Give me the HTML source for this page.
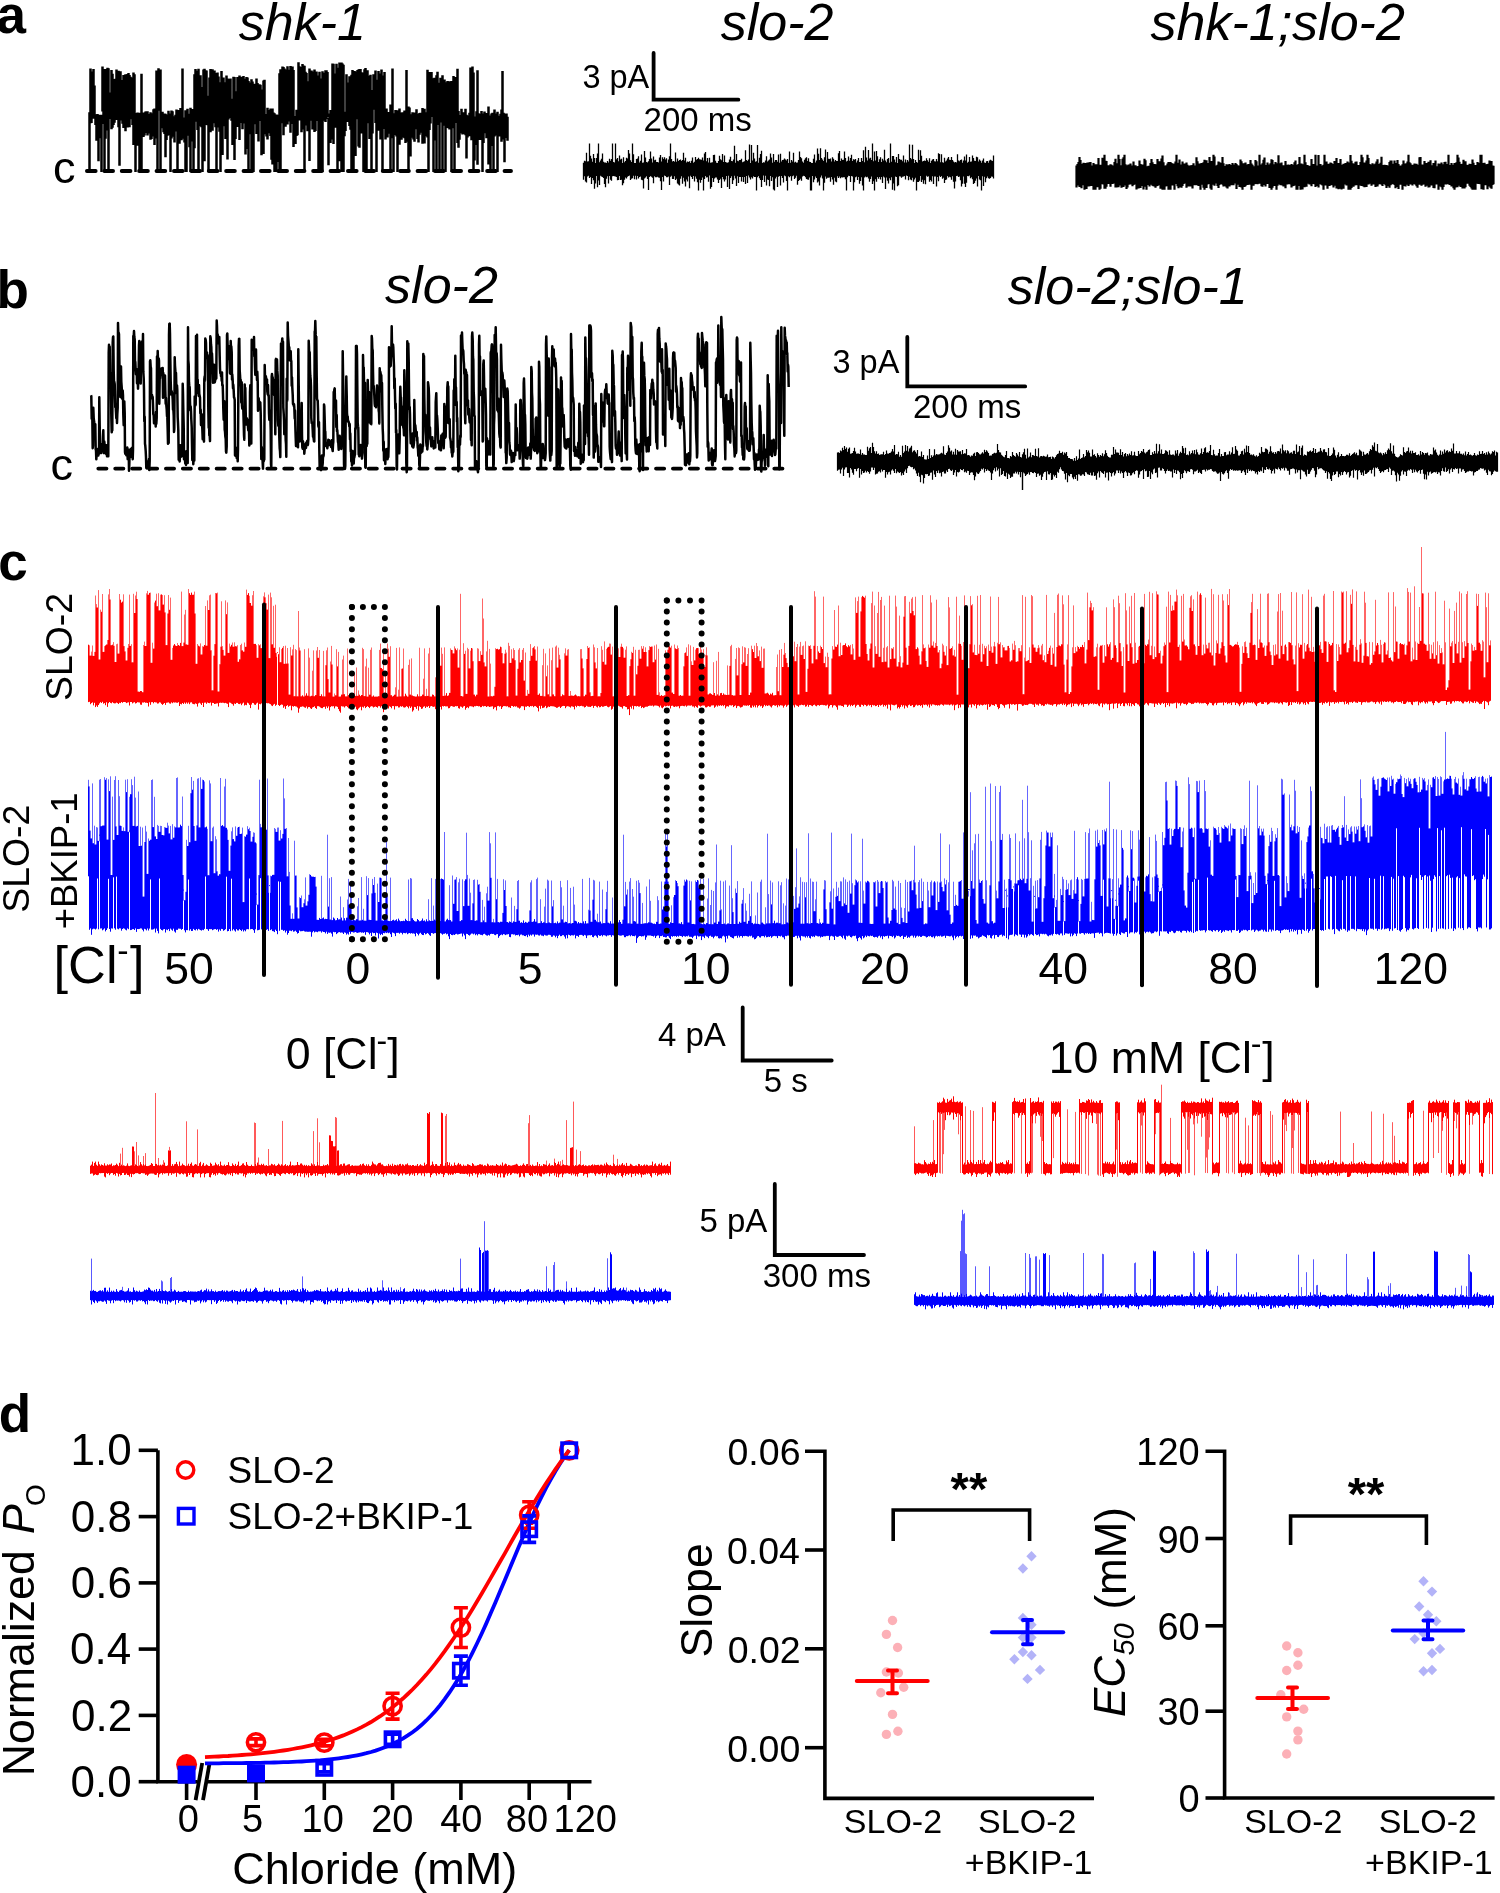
<!DOCTYPE html><html><head><meta charset="utf-8"><style>html,body{margin:0;padding:0;background:#fff;}svg{display:block;font-family:"Liberation Sans",sans-serif;}text{-webkit-font-smoothing:antialiased;}</style></head><body><svg width="1500" height="1893" viewBox="0 0 1500 1893" style="will-change:transform"><rect width="1500" height="1893" fill="#fff"/><text x="-3.4" y="32.9" font-size="53" font-weight="bold" fill="#000">a</text>
<text x="238.8" y="40.0" font-size="52" font-style="italic" fill="#000">shk-1</text>
<text x="720.8" y="40.0" font-size="52" font-style="italic" fill="#000">slo-2</text>
<text x="1150.5" y="40.0" font-size="52" font-style="italic" fill="#000">shk-1;slo-2</text>
<text x="53.1" y="183.0" font-size="45" fill="#000">c</text>
<path d="M653.6 53V99.7H738.4" fill="none" stroke="#000" stroke-width="3.8" stroke-linecap="round" stroke-linejoin="miter"/>
<text x="582.4" y="88.4" font-size="32.5" fill="#000">3 pA</text>
<text x="643.6" y="131.3" font-size="33" fill="#000">200 ms</text>
<line x1="86.95" y1="171" x2="511" y2="171" stroke="#000" stroke-width="3.9" stroke-dasharray="8.7 8.7" stroke-linecap="round"/>
<path d="M89.5 112.3V172M90.5 68.5V123.3M91.5 74.4V122.9M92.5 71.5V118.3M93.5 69V118.8M94.5 85.4V118.3M95.5 114.9V124.9M96.5 114.2V140.8M97.5 114V134.7M98.5 116.1V161.3M99.5 114.8V135.1M100.5 115.6V138.3M101.5 114.7V172M102.5 66.4V111.6M103.5 94.4V123.9M104.5 68.9V172M105.5 69V138.8M106.5 98.5V119.5M107.5 67.7V130.4M108.5 68.3V172M109.5 107.7V119.1M110.5 92.4V110.5M111.5 69.9V129.3M112.5 73.8V127.8M113.5 107.6V124.9M114.5 78.9V122.8M115.5 78.7V114.7M116.5 69.5V120M117.5 100.9V113.1M118.5 70.8V127.3M119.5 95V165.8M120.5 71.3V120.4M121.5 80.5V116.8M122.5 80V123.8M123.5 75V128M124.5 77.1V121.5M125.5 74.2V131.3M126.5 78V119.7M127.5 74.1V127.5M128.5 72.9V121M129.5 75V127.3M130.5 76.7V119M131.5 95.3V119.3M132.5 77.5V125.1M133.5 72.4V145.1M134.5 74.3V125.2M135.5 112.9V172M136.5 120.9V142.4M137.5 112.5V145.7M138.5 114V142.5M139.5 112.8V172M140.5 119.1V141.1M141.5 73.7V172M142.5 117.3V130.2M143.5 112.6V137.1M144.5 114.4V135.4M145.5 111.4V133.1M146.5 111.3V132.3M147.5 111.2V135.5M148.5 114.3V133.5M149.5 114.1V132.2M150.5 112.3V139.8M151.5 116.8V139M152.5 113.3V128.6M153.5 109.2V136.6M154.5 108.6V145.1M155.5 116.9V138.5M156.5 70.4V125M157.5 70.4V172M158.5 68.3V110.8M159.5 70.7V106.4M160.5 69.4V172M161.5 115.4V128.3M162.5 111.7V125.6M163.5 116.2V132.3M164.5 113.6V134M165.5 113.7V157.3M166.5 115.2V139.9M167.5 114.4V135.8M168.5 110.7V135.2M169.5 115.5V128.2M170.5 113.6V172M171.5 110.4V138.5M172.5 111.3V136.7M173.5 116.2V136.2M174.5 117V142.4M175.5 114.7V128M176.5 109.4V131.4M177.5 112.6V172M178.5 110.1V139.8M179.5 115.4V143.8M180.5 108V138.4M181.5 111.2V140.2M182.5 68.4V138.8M183.5 118.2V136.3M184.5 117.6V142.4M185.5 110.2V172M186.5 117.9V172M187.5 108.7V135.8M188.5 113.7V134.1M189.5 114.1V147.3M190.5 107.8V172M191.5 116.6V134.9M192.5 109.1V141.6M193.5 109.7V172M194.5 74.2V148.3M195.5 69V121.8M196.5 70.7V119.2M197.5 78.7V129.9M198.5 68.7V172M199.5 79.6V126.3M200.5 75.2V120M201.5 87.1V127.2M202.5 93.5V172M203.5 69.5V123M204.5 68.8V161.2M205.5 70.3V124.9M206.5 70.4V118.5M207.5 95.7V125.3M208.5 100.1V172M209.5 77.4V126.2M210.5 69.1V132.2M211.5 69.5V123.8M212.5 69.3V130.7M213.5 70.9V119.1M214.5 70.5V123.2M215.5 80.9V127.3M216.5 72.9V172M217.5 72.6V127.5M218.5 76.4V125.9M219.5 105.1V131.8M220.5 82.3V172M221.5 71.1V132M222.5 83.9V155.1M223.5 77.5V115.4M224.5 82.2V126.2M225.5 91.1V139.1M226.5 75.5V120.8M227.5 78.6V159.5M228.5 78.7V119.5M229.5 79.3V118M230.5 78.6V117.5M231.5 98.8V120.7M232.5 106.5V144.9M233.5 76.8V127.8M234.5 77V160M235.5 106V139.1M236.5 91.3V121.2M237.5 77V127M238.5 78.8V126.5M239.5 75.5V139.9M240.5 92.3V122.9M241.5 76.8V111.8M242.5 82.6V129.3M243.5 76V123.6M244.5 86.7V120.9M245.5 78.8V154.5M246.5 76.9V119.2M247.5 77.5V148.9M248.5 80.9V172M249.5 83.2V126.1M250.5 82.5V134.2M251.5 79.3V172M252.5 81.4V122.8M253.5 88.7V172M254.5 83.7V117.1M255.5 104.4V124.2M256.5 78.4V134M257.5 82.9V131.2M258.5 84.5V141.4M259.5 84.2V120.3M260.5 84.8V121M261.5 110.6V155.2M262.5 89.4V118M263.5 80.5V154M264.5 79.7V127.8M265.5 118.2V134.3M266.5 114.1V136.6M267.5 107.7V139.6M268.5 109.9V130.2M269.5 111V133.2M270.5 108.5V136M271.5 114.3V159.8M272.5 108.6V164.5M273.5 112.5V124.7M274.5 113.2V172M275.5 115.2V139M276.5 114.5V172M277.5 114.8V142.9M278.5 117.3V162M279.5 73.3V172M280.5 69.3V172M281.5 100.9V123.2M282.5 66.4V122.8M283.5 67.1V135.2M284.5 68.4V120.6M285.5 69.5V126.7M286.5 71.7V122.8M287.5 66.2V124.6M288.5 69.7V120.9M289.5 70.4V121.6M290.5 66V132.8M291.5 109.5V123.3M292.5 66.5V124.1M293.5 70.1V146.9M294.5 115.9V134.6M295.5 116.7V143.9M296.5 109.7V135.9M297.5 112.1V135.3M298.5 62.3V116.8M299.5 66.3V120.6M300.5 89.8V110.8M301.5 67V132.2M302.5 64.1V129.5M303.5 65.5V102.6M304.5 65.7V172M305.5 71.8V120.4M306.5 72.9V125.6M307.5 95.7V131.2M308.5 81.3V118.6M309.5 68.6V161.1M310.5 71.1V111.1M311.5 70.4V120.7M312.5 92.7V129.4M313.5 71.4V120.8M314.5 69.6V132M315.5 73.9V131M316.5 71.5V121.1M317.5 75.4V111.8M318.5 77.9V172M319.5 71.8V172M320.5 78.9V172M321.5 78.5V123.9M322.5 71.3V172M323.5 72.7V120.8M324.5 113.8V114.7M325.5 70.2V121.9M326.5 70.3V119.1M327.5 72.1V117.1M328.5 117.9V165.2M329.5 113.6V138.8M330.5 110V142.9M331.5 111.1V139.5M332.5 63.6V115M333.5 63.7V143.9M334.5 73.4V127.7M335.5 78.6V127.8M336.5 63.7V125.6M337.5 111.3V172M338.5 67.8V123.4M339.5 62.4V161.2M340.5 68.5V121.9M341.5 62.4V172M342.5 63.5V132.6M343.5 64.7V172M344.5 111.8V136.3M345.5 112.3V131.1M346.5 74.2V116.8M347.5 82.6V121.9M348.5 83.1V120.3M349.5 76.2V126.1M350.5 76.5V129.7M351.5 74.8V172M352.5 70.1V113M353.5 72.3V172M354.5 70.9V131.1M355.5 81.5V155.9M356.5 71.6V119.3M357.5 69.9V103.9M358.5 69.4V146.6M359.5 69V147.8M360.5 69V114.8M361.5 72.2V133.5M362.5 72.6V114.4M363.5 74.4V172M364.5 69.3V172M365.5 67.9V125.4M366.5 73.6V172M367.5 70.3V115.7M368.5 75.8V123.3M369.5 79.1V138.9M370.5 74.8V131.9M371.5 114.5V172M372.5 90V133.4M373.5 74.2V109.7M374.5 76.3V108M375.5 70.5V123.1M376.5 113.8V172M377.5 79.7V120.1M378.5 70.9V130.8M379.5 90.1V130.5M380.5 73.5V139.4M381.5 69.4V118.6M382.5 111.1V172M383.5 75.4V118.4M384.5 72V128.9M385.5 114.9V139.4M386.5 108.4V130.4M387.5 116.9V137.6M388.5 112.1V133.3M389.5 113V133.8M390.5 104.5V172M391.5 115.1V137.6M392.5 68.6V138.3M393.5 116.9V172M394.5 113.3V134.1M395.5 110V135M396.5 110.8V136.5M397.5 110.3V172M398.5 114.5V135M399.5 108.4V144.8M400.5 112.4V128.9M401.5 116V139.8M402.5 112.2V137.4M403.5 113.7V135.6M404.5 110.5V138.3M405.5 115.3V143M406.5 69.9V141.8M407.5 115.7V133.7M408.5 106.5V172M409.5 107.5V148.2M410.5 114.5V156.5M411.5 114.2V135.8M412.5 112.2V137.8M413.5 114.6V139.6M414.5 112.6V141.8M415.5 117.8V127.8M416.5 109.3V129.2M417.5 114.4V139M418.5 113.7V142.4M419.5 113.1V134.8M420.5 112.7V132.7M421.5 117.4V131.2M422.5 108.1V143.8M423.5 116.6V132.7M424.5 108.7V143.5M425.5 114.4V136.3M426.5 112.3V134.8M427.5 69.7V137.6M428.5 75.9V172M429.5 71.9V130.1M430.5 73V123.5M431.5 72.1V117.1M432.5 95.5V115.4M433.5 78.3V172M434.5 77.7V140.6M435.5 104.8V133.7M436.5 75.2V172M437.5 71.7V125M438.5 82.9V120.6M439.5 82.8V172M440.5 77.8V117.3M441.5 84.7V122.5M442.5 75.2V172M443.5 109V124.6M444.5 79.4V125.7M445.5 106.9V172M446.5 82.3V128.1M447.5 81V119.5M448.5 88.4V128.3M449.5 81.3V129.5M450.5 89.8V106.1M451.5 80.9V172M452.5 88.3V128.2M453.5 76V121.7M454.5 77.2V172M455.5 77.1V123.1M456.5 78.6V113.5M457.5 68.7V143.1M458.5 110.9V147.8M459.5 115.1V139.8M460.5 115.6V126.8M461.5 108.8V133.2M462.5 113.9V134.4M463.5 112.2V133.7M464.5 114.6V134M465.5 108.7V135.2M466.5 114.8V158.4M467.5 118.1V137.5M468.5 115.6V134.1M469.5 112.8V136.2M470.5 67.4V120.8M471.5 69.3V140.3M472.5 66.4V117.7M473.5 72.6V172M474.5 116.5V160.6M475.5 117.4V132.8M476.5 111.3V145.1M477.5 70.3V164.8M478.5 113.3V140M479.5 113.8V136.2M480.5 115.3V140.1M481.5 111V131.9M482.5 113.4V172M483.5 115.4V143.1M484.5 111.6V133.3M485.5 118.4V128.9M486.5 113.1V138.3M487.5 114.2V133M488.5 106.5V164.6M489.5 115.6V135.6M490.5 116.2V172M491.5 113.5V145.9M492.5 112.8V133.2M493.5 116.8V172M494.5 109.5V136.6M495.5 115.7V135.6M496.5 113.6V132.6M497.5 111.7V172M498.5 124.2V135.3M499.5 115.8V136.5M500.5 113.7V131.9M501.5 109.6V141.7M502.5 71V139.5M503.5 112.8V138.9M504.5 115.7V162.2M505.5 113.4V137.9M506.5 113.4V137.9M507.5 116.8V140.7" fill="none" stroke="#000" stroke-width="2.5"/>
<path d="M583.5 162.7V179.8M584.5 160.7V176.2M585.5 161.2V181.6M586.5 152.8V182.5M587.5 161.6V176.4M588.5 161.2V175.7M589.5 143.5V177.9M590.5 155.8V177M591.5 158.6V184.1M592.5 161.8V178.1M593.5 154V180.2M594.5 158.1V188.8M595.5 162.9V183.4M596.5 157.9V176.1M597.5 153.6V187.3M598.5 143.5V180.6M599.5 162.2V185.1M600.5 160.6V175.8M601.5 158.7V176.6M602.5 153.4V177M603.5 161.7V178M604.5 162.4V184M605.5 162.6V187.2M606.5 162.9V178.7M607.5 161V176.2M608.5 162.5V183.6M609.5 158.8V176.1M610.5 160.7V179.8M611.5 159.1V180.8M612.5 143.5V176.2M613.5 162.1V176.1M614.5 162.5V176.2M615.5 143.5V176.6M616.5 159.2V177.1M617.5 158.1V180.2M618.5 161.3V180.1M619.5 155.6V176M620.5 159.6V180.1M621.5 158.7V179.8M622.5 162.9V185.2M623.5 157.2V183.3M624.5 162.3V179.7M625.5 161V177.6M626.5 157.7V178.4M627.5 158.4V176.8M628.5 149.9V176.1M629.5 153.6V175.6M630.5 160.3V179.9M631.5 162.1V178.7M632.5 143.5V178.3M633.5 154.3V175.7M634.5 163V179.3M635.5 163V175.8M636.5 159V179.6M637.5 158.4V176.1M638.5 156.3V178.5M639.5 162.5V177.1M640.5 160.7V176.6M641.5 154.5V179.7M642.5 162.8V180.2M643.5 162.4V188.5M644.5 150.9V178.5M645.5 157.6V177.5M646.5 161.9V176.2M647.5 162.5V179.1M648.5 161.2V190M649.5 158.9V177.1M650.5 151.4V176M651.5 158.4V176.7M652.5 162.5V177.8M653.5 156.5V183.2M654.5 160.2V176.3M655.5 159.8V177.3M656.5 162V177.3M657.5 162.1V176.7M658.5 162.6V177.6M659.5 157.6V177.8M660.5 155.1V181.2M661.5 161.6V189.9M662.5 157.2V177M663.5 159.1V181.4M664.5 157.2V175.6M665.5 159.5V176M666.5 158.3V177.3M667.5 162.8V177.3M668.5 159.5V176.4M669.5 156.3V185M670.5 143.5V176.8M671.5 159.1V175.8M672.5 161.4V179M673.5 161V179M674.5 161.7V176.3M675.5 152.4V180M676.5 161.8V178.7M677.5 158.5V183.4M678.5 161V184.5M679.5 159.9V185.5M680.5 159.6V178.8M681.5 160.9V176.3M682.5 159.9V183.7M683.5 152.8V177.8M684.5 160.5V181.5M685.5 157.8V186.6M686.5 162.4V179.4M687.5 161.5V181.4M688.5 162.1V176.6M689.5 161.2V188.2M690.5 162.9V175.8M691.5 160.8V177.1M692.5 157.4V178.9M693.5 162.8V176.1M694.5 161.7V181.6M695.5 156.9V176.5M696.5 159.7V178.7M697.5 159V182.3M698.5 157.7V190.5M699.5 159.2V179.8M700.5 159.6V182.7M701.5 159.7V180M702.5 157.4V177.4M703.5 160.4V190.5M704.5 153.6V178.9M705.5 152V176.1M706.5 161.2V177.6M707.5 157.9V177.2M708.5 162.4V181.7M709.5 157.8V175.6M710.5 162.7V188.7M711.5 162.6V187.1M712.5 162.3V177.9M713.5 154.9V182.1M714.5 154.7V178.4M715.5 160.7V177.6M716.5 162.8V177.5M717.5 162.9V179.4M718.5 160.9V183M719.5 155.8V180M720.5 159.2V178.7M721.5 160.2V188M722.5 154.1V177M723.5 162V179.3M724.5 155.5V181.4M725.5 161.9V179.5M726.5 162.5V175.9M727.5 162.7V187.1M728.5 162.3V175.8M729.5 159.5V189M730.5 156.8V178.1M731.5 161.1V176.3M732.5 161.3V184M733.5 159.5V180.3M734.5 145.8V175.8M735.5 162.7V178.6M736.5 154V186.1M737.5 160.7V176.3M738.5 161.2V183.1M739.5 160V177.1M740.5 159.9V177.1M741.5 158.8V181.5M742.5 162.3V177.1M743.5 161.8V181.9M744.5 161.2V177M745.5 150.3V184M746.5 160.1V176M747.5 161.1V183M748.5 159.5V175.5M749.5 144.5V177.4M750.5 162.9V179.6M751.5 145V177.2M752.5 160.5V178.6M753.5 152.8V176.3M754.5 158.6V176.9M755.5 161.7V177.1M756.5 161.2V190.5M757.5 144.9V177.3M758.5 162.7V175.9M759.5 157.8V178.3M760.5 153.9V179.9M761.5 150.7V187M762.5 163V179.9M763.5 162.2V175.5M764.5 162.4V182.1M765.5 160.5V175.7M766.5 156.3V185.5M767.5 161.6V179.5M768.5 160.6V180M769.5 159.6V186.2M770.5 153.5V176.1M771.5 157.5V181.1M772.5 162.8V177.3M773.5 153.9V189.6M774.5 161.7V190.5M775.5 160V178.5M776.5 159.9V176.7M777.5 161.8V186.9M778.5 154.6V176.8M779.5 162.8V176M780.5 153.8V185.4M781.5 161.4V175.9M782.5 160.1V178M783.5 159.7V182.5M784.5 158.5V175.6M785.5 159.5V176.2M786.5 160.5V181.1M787.5 159V190.5M788.5 162.9V176.3M789.5 151.4V177.3M790.5 162.8V175.9M791.5 159.9V180.8M792.5 161.6V176.3M793.5 152.7V175.6M794.5 162.6V179.1M795.5 161.7V177.8M796.5 162.7V175.7M797.5 162.4V184.7M798.5 159.9V180.9M799.5 151.4V179.9M800.5 157.1V178.8M801.5 158.2V180.7M802.5 161.5V176.6M803.5 162.8V175.8M804.5 159.8V176M805.5 158.3V177.2M806.5 157.3V179M807.5 160.9V179.6M808.5 158.2V179.7M809.5 161.7V177.6M810.5 162.1V190.5M811.5 163V190.5M812.5 162.9V176.1M813.5 158.7V182.2M814.5 154.5V179.5M815.5 162.6V176.6M816.5 160.5V177.9M817.5 148.4V182.5M818.5 153.7V181.5M819.5 160.1V185.4M820.5 148.2V177.6M821.5 158V175.6M822.5 159.5V178.4M823.5 160.9V190.5M824.5 157.3V182.7M825.5 149.5V176.5M826.5 162.4V178.7M827.5 152V177.7M828.5 158.7V177.8M829.5 159V177.4M830.5 158.4V181.7M831.5 161.5V176.9M832.5 157.2V179.6M833.5 158.7V184.8M834.5 161.5V177.7M835.5 160V181.5M836.5 161V182.2M837.5 161.1V176.2M838.5 153.2V177.9M839.5 151V176.6M840.5 160.9V178.3M841.5 158.5V177.3M842.5 160V177.5M843.5 159.8V177.2M844.5 151.4V177.2M845.5 158.1V179.3M846.5 161.6V190.5M847.5 160.7V177.3M848.5 156.5V175.7M849.5 160.7V176M850.5 158.1V182.1M851.5 154.7V176M852.5 161V176.6M853.5 159.2V190.5M854.5 159.7V182.3M855.5 159.1V177.2M856.5 162.5V176.4M857.5 160.4V180M858.5 158.1V177.1M859.5 162V183.8M860.5 162.1V180.9M861.5 157.9V177.2M862.5 160.9V185.4M863.5 150.3V190.5M864.5 162.3V177.4M865.5 146.8V176.6M866.5 157.5V177.3M867.5 160.5V176.7M868.5 149.9V178.5M869.5 158.6V181.8M870.5 157.8V179M871.5 160V176.5M872.5 143.5V183.9M873.5 161.3V181.3M874.5 151.5V190.5M875.5 160.4V179.2M876.5 151V181.8M877.5 156.2V177M878.5 162.1V178.8M879.5 159.3V177M880.5 157.2V179.6M881.5 162V177M882.5 158.7V183.1M883.5 160.6V176.4M884.5 149.8V177.4M885.5 160.6V189.1M886.5 162.2V177.5M887.5 158.9V180.7M888.5 158V183.4M889.5 162.7V178.3M890.5 143.5V180.3M891.5 161.7V177.2M892.5 156V189.8M893.5 155.9V183.4M894.5 159.6V190.5M895.5 162.2V176.4M896.5 156.9V176.9M897.5 162.9V186.2M898.5 154V185.3M899.5 158.9V176.3M900.5 159.7V176.4M901.5 159.7V177.8M902.5 161.2V176.7M903.5 155.5V176.4M904.5 162.5V176M905.5 159.5V179.4M906.5 162.5V175.5M907.5 160.1V176.1M908.5 161.6V180.3M909.5 144.6V176.8M910.5 158V179.6M911.5 159.3V180.2M912.5 144.8V177.8M913.5 159V181.7M914.5 162.9V179.5M915.5 159.9V177.8M916.5 162.1V190.5M917.5 162.8V182M918.5 149.7V181.9M919.5 160.1V180.7M920.5 150.2V176M921.5 155.7V182M922.5 161.4V179.7M923.5 160.9V183.7M924.5 160.4V180.2M925.5 161.1V184.3M926.5 158.3V175.8M927.5 160.3V176.7M928.5 161.7V176.2M929.5 158.3V181.8M930.5 162.9V179.9M931.5 160.7V181.6M932.5 159.5V176.2M933.5 159V184.1M934.5 161.3V176.5M935.5 161.6V176.4M936.5 159.1V186.6M937.5 161.2V176.9M938.5 153.3V181.2M939.5 154V175.7M940.5 162.2V177.1M941.5 154.3V175.9M942.5 162.3V178.7M943.5 162.8V177.7M944.5 157.8V183M945.5 161.5V180M946.5 160.4V179.5M947.5 158.6V176.1M948.5 156.9V177.5M949.5 159.7V176.8M950.5 159.9V177.3M951.5 157V179.7M952.5 160.1V176.2M953.5 161.5V181.8M954.5 162.4V188.4M955.5 162V181.6M956.5 162.5V175.9M957.5 154.3V175.8M958.5 160.4V176.9M959.5 161.2V176.5M960.5 160.1V180.3M961.5 159.6V186.4M962.5 162.8V183.8M963.5 160.5V176.4M964.5 156.6V183.7M965.5 160.5V187.1M966.5 154.5V182.8M967.5 162.7V176M968.5 161.7V176.3M969.5 157.1V175.6M970.5 161.8V178.3M971.5 161.4V177.2M972.5 155.4V179.2M973.5 158V183.9M974.5 160.8V183.1M975.5 161V180.8M976.5 156.8V178.4M977.5 157.2V186.6M978.5 161.5V176.1M979.5 159.6V179.5M980.5 160.8V180.3M981.5 162.8V190.5M982.5 160.5V176.3M983.5 158.6V186.1M984.5 162.5V176.7M985.5 162.9V182.3M986.5 161.3V178.2M987.5 161.1V176.6M988.5 162.7V178.2M989.5 160.6V178.8M990.5 159.8V178.1M991.5 160.4V176.5M992.5 160.9V176.7M993.5 155.4V178.6" fill="none" stroke="#000" stroke-width="1.3"/>
<path d="M1076.5 165.6V187.6M1077.5 163.9V185.4M1078.5 161.9V184.6M1079.5 157V187M1080.5 160V184.8M1081.5 164.5V188.2M1082.5 163.8V185.2M1083.5 162.8V184M1084.5 165.8V189.8M1085.5 163V183.6M1086.5 165.2V189.1M1087.5 162.5V183.5M1088.5 164.7V186.4M1089.5 162.3V186.2M1090.5 161.9V183.8M1091.5 165.6V185.9M1092.5 166.1V185.8M1093.5 162.9V189.8M1094.5 164.2V186M1095.5 166.1V189.8M1096.5 164.2V183.3M1097.5 164.8V187.3M1098.5 157.9V184.1M1099.5 165.5V189.8M1100.5 164.7V188.8M1101.5 165.1V184.1M1102.5 157.7V184.2M1103.5 159.2V184.4M1104.5 154.8V188.8M1105.5 160.8V188.8M1106.5 160.9V186.7M1107.5 165.5V183.8M1108.5 165.2V183.9M1109.5 165.3V183.9M1110.5 164.3V186.8M1111.5 164.7V184M1112.5 165.4V184.1M1113.5 166V183.4M1114.5 162V183.6M1115.5 158.8V187.4M1116.5 163.2V187.6M1117.5 166.1V186.5M1118.5 154.8V187.2M1119.5 158.9V184.9M1120.5 165.3V185.4M1121.5 166.1V187.8M1122.5 158.8V183.3M1123.5 157.3V187M1124.5 154.8V183.3M1125.5 164.2V185.6M1126.5 165.5V189.1M1127.5 165.2V187.6M1128.5 164.4V184.8M1129.5 166.1V184.1M1130.5 163.6V184.4M1131.5 165.6V183.5M1132.5 165.4V186.3M1133.5 161.6V185M1134.5 165.4V183.3M1135.5 165.3V184.5M1136.5 166.2V189.4M1137.5 166.2V186.4M1138.5 166.1V188.4M1139.5 160.5V186.5M1140.5 164V187.9M1141.5 165.3V186.1M1142.5 164.4V185M1143.5 165.6V189.5M1144.5 158.7V186.8M1145.5 160.3V183.9M1146.5 166.2V189.8M1147.5 166.2V184M1148.5 165.8V185M1149.5 165.8V186.4M1150.5 163V184.8M1151.5 158.9V183.5M1152.5 162.3V185.7M1153.5 165V186.2M1154.5 164.1V186.6M1155.5 164.6V187.8M1156.5 164.3V186.2M1157.5 158.9V186.1M1158.5 161.2V185.2M1159.5 161.2V184.1M1160.5 165.1V188.8M1161.5 158.5V185.5M1162.5 155.5V189.8M1163.5 162.2V183.8M1164.5 165.6V189.8M1165.5 166.1V186.5M1166.5 165.3V184.6M1167.5 163.5V186.2M1168.5 162.1V189.8M1169.5 165.9V186.5M1170.5 161.9V189.8M1171.5 162.9V183.6M1172.5 165V185.6M1173.5 163.5V184.4M1174.5 166.3V189.8M1175.5 161.5V183.4M1176.5 154.8V184M1177.5 165.7V186.2M1178.5 162.7V188.2M1179.5 159.5V183.4M1180.5 164.4V187.2M1181.5 165.4V187.7M1182.5 161.6V185.9M1183.5 166V184.1M1184.5 163.6V183.5M1185.5 165.7V183.6M1186.5 162.5V187.8M1187.5 164.8V185.6M1188.5 166.2V186.4M1189.5 165.8V185.9M1190.5 165.3V186.4M1191.5 166.1V184.9M1192.5 165V188.6M1193.5 163.2V184.1M1194.5 165.4V185.2M1195.5 166V183.5M1196.5 157.2V185.2M1197.5 161.2V185.2M1198.5 163.6V186M1199.5 164.8V183.6M1200.5 163.6V189.7M1201.5 163V184.8M1202.5 164.6V184.2M1203.5 162.2V187.7M1204.5 159.8V189.8M1205.5 165.4V183.8M1206.5 160.3V188.1M1207.5 164.8V184.6M1208.5 163V183.4M1209.5 157V184.1M1210.5 162.1V188.5M1211.5 161.1V189.8M1212.5 164.7V184.7M1213.5 154.8V183.5M1214.5 156.5V185.8M1215.5 165.6V183.6M1216.5 165.8V183.5M1217.5 164.7V186.1M1218.5 161.5V188.1M1219.5 162.3V185.1M1220.5 162.8V183.8M1221.5 163.5V183.9M1222.5 157V184.7M1223.5 163.3V186.6M1224.5 166V186.2M1225.5 166V185.9M1226.5 164.2V187.4M1227.5 164.9V188.5M1228.5 164.4V183.4M1229.5 164V186.6M1230.5 164.9V183.7M1231.5 165.8V185.3M1232.5 162.9V183.7M1233.5 164.6V185.3M1234.5 166V183.4M1235.5 163V183.5M1236.5 163.9V189M1237.5 165.2V183.5M1238.5 166.1V184.7M1239.5 165.5V186.9M1240.5 159.6V184.1M1241.5 161.3V187.4M1242.5 166.1V189.8M1243.5 163.2V184.1M1244.5 165.6V187.1M1245.5 162.5V186.2M1246.5 166.1V183.6M1247.5 164.6V184.9M1248.5 163.9V183.3M1249.5 164.8V184.8M1250.5 160.1V184.4M1251.5 163.6V189.8M1252.5 164.7V184.1M1253.5 166.3V185.7M1254.5 166.2V184.3M1255.5 160V184M1256.5 161.3V183.6M1257.5 166V184.3M1258.5 165.6V183.7M1259.5 154.8V183.8M1260.5 164.4V183.8M1261.5 164.8V186.2M1262.5 163.3V186.8M1263.5 159.8V183.7M1264.5 157.4V184.9M1265.5 165.1V186.4M1266.5 165.9V183.7M1267.5 162.6V184.1M1268.5 164.6V183.4M1269.5 164.9V188.1M1270.5 163.3V186.2M1271.5 159.2V189.8M1272.5 160.1V187.7M1273.5 164.3V186M1274.5 164.3V186.1M1275.5 161.9V183.3M1276.5 163.3V189.8M1277.5 163.5V185.7M1278.5 155.3V184.6M1279.5 163.2V183.4M1280.5 165.6V185.2M1281.5 162.6V183.5M1282.5 165.5V185.6M1283.5 165.2V186.6M1284.5 165.4V183.4M1285.5 160.9V188.3M1286.5 166.1V183.4M1287.5 164.8V184.5M1288.5 164.6V184M1289.5 164.9V183.6M1290.5 164.9V184.6M1291.5 164V187.4M1292.5 164.7V186.2M1293.5 164.7V186.1M1294.5 162.3V185.4M1295.5 160.6V184.1M1296.5 165.3V189.8M1297.5 164.8V189.8M1298.5 164.1V185.3M1299.5 157V185.9M1300.5 164.8V189.8M1301.5 163.6V184.6M1302.5 165.6V189.4M1303.5 164.2V186.8M1304.5 154.8V187.3M1305.5 162.2V185.2M1306.5 165.3V186.7M1307.5 165V183.8M1308.5 166.3V183.6M1309.5 165.7V184.4M1310.5 165.9V183.5M1311.5 159.1V186.2M1312.5 164.1V183.4M1313.5 166V183.9M1314.5 164.1V184.3M1315.5 154.8V186.9M1316.5 166V186.1M1317.5 165.6V185.6M1318.5 155.1V187.6M1319.5 165.3V184.3M1320.5 163.9V183.5M1321.5 165.5V184.7M1322.5 166.2V185.6M1323.5 164.8V189.8M1324.5 154.8V183.5M1325.5 165.6V185.6M1326.5 161.6V184M1327.5 164.3V188.7M1328.5 163.8V183.8M1329.5 165.2V185.9M1330.5 162.5V184.8M1331.5 163V185.3M1332.5 163.9V185.3M1333.5 165.8V187.5M1334.5 161V185.8M1335.5 162.8V185.1M1336.5 157.9V188.5M1337.5 163.8V184.6M1338.5 162.9V189.2M1339.5 163.3V185.2M1340.5 159V188.8M1341.5 164.8V189.4M1342.5 165.1V184M1343.5 163.7V188.7M1344.5 165.9V184.5M1345.5 163.1V183.5M1346.5 163.9V185.5M1347.5 161.6V183.7M1348.5 164.7V189.8M1349.5 162.5V184.3M1350.5 155.1V189.8M1351.5 160.8V187.9M1352.5 163.3V184.3M1353.5 165.6V186.7M1354.5 163.4V185.5M1355.5 161.7V184M1356.5 161.5V185.2M1357.5 165.1V184.3M1358.5 165.9V188.9M1359.5 165V184.7M1360.5 162.1V185.6M1361.5 154.8V185.9M1362.5 157.3V184M1363.5 163.4V186.5M1364.5 162.4V187.3M1365.5 165.9V184.9M1366.5 160.5V187M1367.5 154.8V183.8M1368.5 158.1V184.4M1369.5 164V183.8M1370.5 165.4V183.6M1371.5 164.5V185.7M1372.5 163.2V184.5M1373.5 165.4V184.6M1374.5 164.2V183.6M1375.5 163.4V187.1M1376.5 161.5V185.5M1377.5 159.3V186.6M1378.5 164V184.4M1379.5 165.1V183.8M1380.5 162.7V184.1M1381.5 156.7V184.7M1382.5 165.1V186.1M1383.5 165.3V183.5M1384.5 164.7V183.9M1385.5 166.2V185.2M1386.5 165V188M1387.5 165.8V185.2M1388.5 165.5V186.3M1389.5 161.9V187.8M1390.5 160.5V185.2M1391.5 160.6V184.4M1392.5 163.8V184.1M1393.5 164.9V183.9M1394.5 160.5V185M1395.5 163.3V188.2M1396.5 163V184.9M1397.5 159.9V187.1M1398.5 164V189M1399.5 165.4V184.1M1400.5 165.7V184.7M1401.5 165.4V184.1M1402.5 164.2V189.8M1403.5 160.4V185.5M1404.5 164.4V186.1M1405.5 163.6V186.5M1406.5 163.3V183.4M1407.5 161.6V184.7M1408.5 154.8V186M1409.5 162.2V183.5M1410.5 163.2V184.6M1411.5 166V183.4M1412.5 164.8V185.4M1413.5 165.9V183.4M1414.5 163.5V184M1415.5 166.1V184.8M1416.5 163.7V186.3M1417.5 164.7V187.7M1418.5 166.2V183.5M1419.5 157.2V184.8M1420.5 157.1V183.3M1421.5 164.5V185.7M1422.5 164.5V184.8M1423.5 165.9V184M1424.5 161V184.5M1425.5 162.9V186.8M1426.5 163.1V185.8M1427.5 164.2V183.4M1428.5 161.7V187.6M1429.5 165.8V187.3M1430.5 160.3V184.4M1431.5 166.1V185.5M1432.5 165.3V183.6M1433.5 163.1V188.1M1434.5 165V188.2M1435.5 160.5V183.9M1436.5 166.2V184.6M1437.5 166.2V183.6M1438.5 163.4V189.8M1439.5 166V186.4M1440.5 163.7V184.6M1441.5 162.6V187.3M1442.5 165V189.8M1443.5 164.3V187M1444.5 162V184M1445.5 161.8V184.4M1446.5 164.4V184.4M1447.5 164V183.9M1448.5 154.8V183.7M1449.5 165V185M1450.5 165.4V183.9M1451.5 163.1V186.5M1452.5 164.7V185.3M1453.5 166.3V188.3M1454.5 163V189.8M1455.5 163.8V187.5M1456.5 162.2V187.3M1457.5 154.8V187.3M1458.5 157.6V184.3M1459.5 161.8V185.7M1460.5 165.6V187M1461.5 164.1V183.5M1462.5 163.7V188.6M1463.5 159.8V185.1M1464.5 165.3V188.4M1465.5 161.2V187.3M1466.5 164.7V183.8M1467.5 164.9V183.3M1468.5 166V183.7M1469.5 163.8V185.7M1470.5 163.9V187.1M1471.5 164.9V188.6M1472.5 159.4V189.8M1473.5 162.7V189.8M1474.5 165.7V184.8M1475.5 164.9V189.8M1476.5 165.4V183.7M1477.5 161.9V183.4M1478.5 163.4V184M1479.5 162.8V184M1480.5 154.8V184.3M1481.5 154.8V189.2M1482.5 163V183.7M1483.5 163.2V189.8M1484.5 162.8V185.2M1485.5 164.3V184.4M1486.5 165.7V185.3M1487.5 164V189.2M1488.5 163.7V186.6M1489.5 160.5V185.1M1490.5 164.5V187.7M1491.5 161.1V188.7M1492.5 165.4V185M1493.5 165.8V184.3" fill="none" stroke="#000" stroke-width="2.2"/>
<text x="-3.5" y="308.3" font-size="53" font-weight="bold" fill="#000">b</text>
<text x="385.1" y="302.5" font-size="52" font-style="italic" fill="#000">slo-2</text>
<text x="1007.8" y="303.5" font-size="52" font-style="italic" fill="#000">slo-2;slo-1</text>
<text x="50.6" y="480.0" font-size="45" fill="#000">c</text>
<path d="M907.3 337V386.4H1025.2" fill="none" stroke="#000" stroke-width="3.8" stroke-linecap="round"/>
<text x="832.5" y="373.3" font-size="32.5" fill="#000">3 pA</text>
<text x="913.0" y="418.1" font-size="33" fill="#000">200 ms</text>
<line x1="98.35000000000001" y1="468.6" x2="786" y2="468.6" stroke="#000" stroke-width="3.9" stroke-dasharray="8.1 8.8" stroke-linecap="round"/>
<path d="M91 395.3 91.3 396.1 91.7 418.7 92 411.9 92.3 416.2 92.7 448.2 93 445.6 93.3 407.7 93.7 418.1 94 420.6 94.3 422.5 94.7 423.8 95 432.4 95.3 424.2 95.7 449.3 96 450.4 96.3 459.3 96.7 453.8 97 453.3 97.3 450.5 97.7 449.1 98 452.5 98.3 455.6 98.7 449.1 99 453.7 99.3 397.2 99.7 425.4 100 442.9 100.3 450.8 100.7 445.1 101 446.3 101.3 453.1 101.7 444 102 444.6 102.3 450.6 102.7 449 103 436.3 103.3 430.2 103.7 450.3 104 453.2 104.3 441.6 104.7 445.7 105 445.2 105.3 445.1 105.7 446 106 452.5 106.3 454.2 106.7 447.3 107 456.3 107.3 445.1 107.7 446.5 108 450.4 108.3 456.3 108.7 352.9 109 344.8 109.3 350.2 109.7 346.8 110 374.7 110.3 373 110.7 386 111 380.2 111.3 415.8 111.7 432.3 112 430.1 112.3 430.3 112.7 342.5 113 337.3 113.3 336.5 113.7 370.7 114 382.4 114.3 381.8 114.7 383.9 115 397.3 115.3 407.2 115.7 407.3 116 412.5 116.3 418.2 116.7 413.5 117 423 117.3 414.5 117.7 407.7 118 322.9 118.3 333.7 118.7 332.6 119 334.3 119.3 356.4 119.7 381.1 120 387 120.3 396.9 120.7 384.9 121 366.4 121.3 381.5 121.7 387 122 398.5 122.3 394.1 122.7 390.6 123 395.4 123.3 414.5 123.7 425.1 124 404.4 124.3 401.4 124.7 412.7 125 452 125.3 453.9 125.7 449.9 126 450.4 126.3 455.2 126.7 455.1 127 449.1 127.3 447.6 127.7 459.1 128 454 128.3 455.6 128.7 450 129 470.8 129.3 464.8 129.7 449.8 130 453.1 130.3 457.2 130.7 449.1 131 456.8 131.3 455.2 131.7 449.3 132 447.7 132.3 453.3 132.7 459.2 133 450.2 133.3 336.1 133.7 336.7 134 331.1 134.3 336.7 134.7 339.2 135 361.7 135.3 361.7 135.7 370.2 136 374.5 136.3 369 136.7 369.1 137 383.2 137.3 378.2 137.7 379.5 138 388.6 138.3 380.7 138.7 367.6 139 345.7 139.3 340.9 139.7 343.2 140 378.3 140.3 370 140.7 383.5 141 352.7 141.3 348.7 141.7 357.2 142 341.6 142.3 353 142.7 352.9 143 333.9 143.3 371.7 143.7 378.1 144 389.8 144.3 421.2 144.7 416.7 145 443.7 145.3 445.8 145.7 451 146 457.3 146.3 467.9 146.7 468.3 147 467.4 147.3 466.1 147.7 466 148 461.2 148.3 461.8 148.7 464.5 149 459 149.3 470 149.7 460.6 150 361.3 150.3 360.3 150.7 367 151 368 151.3 398.2 151.7 398.1 152 395 152.3 397.1 152.7 397.1 153 404.2 153.3 414.1 153.7 415.4 154 423.2 154.3 420.3 154.7 423.1 155 419.8 155.3 416.2 155.7 426.5 156 412.1 156.3 423.9 156.7 417.9 157 356.4 157.3 375.9 157.7 351.1 158 360.4 158.3 359 158.7 358.5 159 360.7 159.3 403.7 159.7 377.7 160 378.5 160.3 374.9 160.7 373.7 161 369.5 161.3 368.5 161.7 371 162 374.4 162.3 373 162.7 368 163 397.7 163.3 373.1 163.7 384.4 164 380 164.3 378.4 164.7 376.8 165 375.5 165.3 390.5 165.7 403.8 166 398.1 166.3 405 166.7 409.3 167 416.3 167.3 416.2 167.7 430.3 168 443.8 168.3 441.2 168.7 442.9 169 334.5 169.3 323.8 169.7 323.6 170 334.1 170.3 358.3 170.7 381.2 171 389.9 171.3 394.6 171.7 391.3 172 395 172.3 393.2 172.7 399.5 173 409.8 173.3 407.9 173.7 415.5 174 431.9 174.3 428.8 174.7 357.2 175 365.8 175.3 369.9 175.7 376.3 176 372.9 176.3 385.6 176.7 393.3 177 385.4 177.3 390 177.7 417.3 178 423 178.3 430.1 178.7 459.7 179 459.1 179.3 457.6 179.7 461.5 180 453.1 180.3 445.3 180.7 454.4 181 456.2 181.3 456.6 181.7 453.1 182 456 182.3 455.1 182.7 383.8 183 393.6 183.3 410 183.7 425.9 184 459.3 184.3 455.5 184.7 458.2 185 459.8 185.3 463.6 185.7 462.4 186 464.9 186.3 451.2 186.7 452 187 459.6 187.3 457.6 187.7 463.1 188 327.3 188.3 360.1 188.7 364.7 189 382.4 189.3 385.4 189.7 387.5 190 401.5 190.3 410.1 190.7 406.6 191 411.2 191.3 419.3 191.7 426.8 192 444.3 192.3 460 192.7 456.4 193 455.9 193.3 464.2 193.7 456.5 194 452.9 194.3 460.6 194.7 396.6 195 403.3 195.3 405.5 195.7 404.3 196 336.1 196.3 342.3 196.7 338.4 197 334.8 197.3 379.5 197.7 379.6 198 393.2 198.3 390.7 198.7 395.9 199 385.1 199.3 394 199.7 395.9 200 397.7 200.3 413.2 200.7 409.7 201 424.9 201.3 424.4 201.7 414.3 202 424.9 202.3 428.4 202.7 439.2 203 431.8 203.3 436.3 203.7 436.6 204 441.6 204.3 379.2 204.7 376.2 205 380.4 205.3 338.6 205.7 339.9 206 343.2 206.3 358.1 206.7 356.2 207 352.4 207.3 357.6 207.7 354.9 208 373.8 208.3 408.9 208.7 427.8 209 418.8 209.3 435.2 209.7 435.4 210 441.1 210.3 336.2 210.7 338.3 211 344.5 211.3 346.8 211.7 360.1 212 353.6 212.3 361 212.7 373.5 213 382.8 213.3 369.6 213.7 371.2 214 364.8 214.3 380.9 214.7 382.4 215 381.3 215.3 379.8 215.7 376.2 216 377.2 216.3 378.5 216.7 320.6 217 326.2 217.3 338.8 217.7 334.5 218 343.3 218.3 340.2 218.7 341.1 219 342.6 219.3 337.1 219.7 355.9 220 368.5 220.3 373.2 220.7 372.1 221 376.2 221.3 372.5 221.7 380.6 222 372.4 222.3 385.4 222.7 384.9 223 395.2 223.3 408.8 223.7 419.7 224 404.7 224.3 401.2 224.7 429.8 225 431.4 225.3 436.2 225.7 438.9 226 451.5 226.3 452.6 226.7 446.3 227 334.9 227.3 333.4 227.7 348.6 228 352.7 228.3 358.2 228.7 354.9 229 359.2 229.3 346.2 229.7 363.5 230 373.1 230.3 373.6 230.7 341.1 231 348.1 231.3 346.4 231.7 352 232 379.5 232.3 374.5 232.7 380.7 233 388.3 233.3 384.8 233.7 390.6 234 397.5 234.3 397.6 234.7 399.9 235 455.2 235.3 455.8 235.7 450.4 236 453 236.3 448.1 236.7 458 237 457.9 237.3 451.3 237.7 461.2 238 448.7 238.3 399.6 238.7 346.4 239 338.9 239.3 338.7 239.7 370.3 240 374.8 240.3 379.9 240.7 379.7 241 387.8 241.3 402.4 241.7 382.3 242 405.6 242.3 408.7 242.7 407.2 243 408.2 243.3 409.2 243.7 423.2 244 435.2 244.3 439.7 244.7 384.5 245 392.5 245.3 388.1 245.7 411.6 246 424.5 246.3 424.4 246.7 421.3 247 418.5 247.3 422.8 247.7 420.1 248 427.3 248.3 430.3 248.7 430.5 249 429.9 249.3 445.6 249.7 442.8 250 392.4 250.3 385.2 250.7 388.4 251 398.2 251.3 443.5 251.7 339.7 252 340.3 252.3 342 252.7 343.6 253 342 253.3 349.3 253.7 345.8 254 337.1 254.3 356.2 254.7 356.3 255 367.7 255.3 374.7 255.7 373.2 256 349.5 256.3 370.6 256.7 371.8 257 380 257.3 371.8 257.7 381.6 258 410.8 258.3 404.9 258.7 398.3 259 401.6 259.3 407.3 259.7 403.7 260 402.3 260.3 402.4 260.7 413 261 432.6 261.3 459.1 261.7 447 262 450.4 262.3 452.5 262.7 463.2 263 468.6 263.3 454.7 263.7 461.1 264 459.8 264.3 459.5 264.7 365 265 376.2 265.3 376.3 265.7 376.1 266 377.2 266.3 382.1 266.7 382.2 267 379.4 267.3 391.3 267.7 394.3 268 385 268.3 395.7 268.7 395.2 269 413.2 269.3 419.8 269.7 413.8 270 410.6 270.3 415.8 270.7 429.4 271 464.4 271.3 466.5 271.7 376.6 272 374 272.3 377.2 272.7 377.3 273 382.8 273.3 379.8 273.7 394 274 394.2 274.3 395.4 274.7 393.3 275 412.5 275.3 434.3 275.7 359.8 276 358.9 276.3 361.1 276.7 366.8 277 359.6 277.3 370.4 277.7 375.7 278 420 278.3 425.6 278.7 424.1 279 423.3 279.3 437.4 279.7 448.3 280 451.1 280.3 457.1 280.7 382.4 281 343.5 281.3 344.1 281.7 344 282 342.2 282.3 338.4 282.7 350.3 283 341.7 283.3 407.3 283.7 413.7 284 420.1 284.3 434.1 284.7 428.5 285 422.1 285.3 425.2 285.7 440.2 286 443.8 286.3 456.8 286.7 378.7 287 391.7 287.3 400.4 287.7 322.5 288 335.3 288.3 339 288.7 344.4 289 358.1 289.3 347.2 289.7 360.3 290 353.4 290.3 358.5 290.7 351.2 291 361.3 291.3 361 291.7 385.7 292 377.4 292.3 387.6 292.7 394.6 293 404 293.3 403.5 293.7 405.9 294 404.2 294.3 407.2 294.7 418.5 295 410.6 295.3 425.3 295.7 437.8 296 446 296.3 437.4 296.7 443.5 297 444.7 297.3 437.9 297.7 447 298 447.2 298.3 349.2 298.7 384.4 299 405.5 299.3 424.4 299.7 441.4 300 434.1 300.3 414.8 300.7 421.7 301 424.7 301.3 425.6 301.7 403.1 302 434.9 302.3 447.2 302.7 448.7 303 441.3 303.3 444.9 303.7 444.4 304 445.4 304.3 453.7 304.7 448.9 305 446.7 305.3 448.4 305.7 443.7 306 448 306.3 442.5 306.7 442.4 307 442.6 307.3 440.8 307.7 445.1 308 444.1 308.3 439.5 308.7 340.7 309 347.1 309.3 357.3 309.7 352.3 310 369.2 310.3 376 310.7 379.5 311 387 311.3 417.8 311.7 423.1 312 422.6 312.3 422.5 312.7 430 313 436.7 313.3 434.4 313.7 439.1 314 441.3 314.3 441.4 314.7 331.6 315 332 315.3 321.1 315.7 334.9 316 337.9 316.3 336.6 316.7 376.1 317 398.6 317.3 400 317.7 400.7 318 409.2 318.3 425.8 318.7 427.2 319 422.2 319.3 449.5 319.7 468.1 320 461.8 320.3 460.6 320.7 457 321 470.1 321.3 463.1 321.7 457.8 322 455.5 322.3 466.7 322.7 463.5 323 456.4 323.3 456.7 323.7 454.9 324 404.4 324.3 406.2 324.7 419.7 325 431.3 325.3 431.5 325.7 445.1 326 446 326.3 443 326.7 444.2 327 443.3 327.3 448.3 327.7 445 328 445.4 328.3 439.7 328.7 440.5 329 440 329.3 444.4 329.7 444.8 330 442.1 330.3 442 330.7 443.8 331 446.9 331.3 442.1 331.7 440.2 332 443.5 332.3 448.8 332.7 451.1 333 444.7 333.3 441.8 333.7 392.1 334 393.1 334.3 389.8 334.7 388.4 335 403 335.3 404 335.7 403.5 336 400.6 336.3 427.1 336.7 415 337 431.2 337.3 430 337.7 437 338 442.1 338.3 442.9 338.7 449.8 339 439.6 339.3 447.2 339.7 435.7 340 441 340.3 442.3 340.7 437.8 341 444.5 341.3 449 341.7 437.6 342 442.7 342.3 443.6 342.7 351.2 343 371.4 343.3 385.8 343.7 413.7 344 464.2 344.3 468.2 344.7 413.3 345 469 345.3 465.9 345.7 416.5 346 417.4 346.3 376.4 346.7 394.6 347 413 347.3 416.8 347.7 416.5 348 421.5 348.3 421 348.7 422 349 423 349.3 426.4 349.7 424.1 350 439.4 350.3 433.6 350.7 451.4 351 450 351.3 461.4 351.7 456.1 352 465.5 352.3 453.9 352.7 451 353 451.6 353.3 454.7 353.7 463.6 354 457.5 354.3 457.6 354.7 455.4 355 454.4 355.3 428.3 355.7 428.9 356 345.9 356.3 350.8 356.7 346 357 353.7 357.3 385.7 357.7 422.8 358 426.2 358.3 427.8 358.7 454.5 359 453.8 359.3 456.3 359.7 452.7 360 451.3 360.3 455 360.7 445.1 361 448.7 361.3 451.3 361.7 449.9 362 458.6 362.3 455.7 362.7 452.9 363 355 363.3 368.8 363.7 367.4 364 382.2 364.3 384.3 364.7 384.7 365 382.8 365.3 467.2 365.7 467.8 366 432 366.3 437.7 366.7 446 367 435.3 367.3 443.7 367.7 379.9 368 388.9 368.3 399.6 368.7 399.9 369 392.1 369.3 405.9 369.7 422.4 370 416.9 370.3 415.2 370.7 423.6 371 420 371.3 424.2 371.7 336 372 338.6 372.3 348.6 372.7 350.4 373 371.1 373.3 385.6 373.7 386 374 389.2 374.3 395.1 374.7 403.8 375 406.1 375.3 405.8 375.7 398.6 376 407.3 376.3 398.3 376.7 399.5 377 385.5 377.3 392.2 377.7 394.4 378 389.6 378.3 393.7 378.7 410.7 379 412.5 379.3 423.4 379.7 368.2 380 375.5 380.3 371.8 380.7 373.8 381 380.5 381.3 375.3 381.7 391.2 382 383 382.3 406.8 382.7 428.6 383 435.1 383.3 450.8 383.7 441.8 384 460.3 384.3 452.4 384.7 457.9 385 449.3 385.3 463.9 385.7 453.4 386 455.4 386.3 451.3 386.7 457.1 387 449 387.3 453.2 387.7 459.2 388 451.3 388.3 456.9 388.7 444.7 389 347.2 389.3 360.7 389.7 366.9 390 362.2 390.3 361.4 390.7 366 391 357.5 391.3 355.3 391.7 326.2 392 346.2 392.3 346 392.7 348.9 393 344.4 393.3 347.4 393.7 359 394 367.1 394.3 388.3 394.7 378.6 395 394.7 395.3 408.4 395.7 403.7 396 432.7 396.3 430 396.7 467.2 397 469.6 397.3 438.3 397.7 440.4 398 435.2 398.3 434.9 398.7 434.3 399 442.1 399.3 453.2 399.7 438.3 400 399.6 400.3 386.7 400.7 397 401 397.3 401.3 405.2 401.7 406.5 402 408.4 402.3 424.9 402.7 411.5 403 424.9 403.3 427.4 403.7 428.8 404 435.2 404.3 370.3 404.7 382.1 405 402.9 405.3 406.7 405.7 398.9 406 411.7 406.3 462.7 406.7 472.2 407 465.1 407.3 341.3 407.7 355.1 408 344.9 408.3 343.4 408.7 360.1 409 389.9 409.3 408.7 409.7 406.9 410 414.2 410.3 430.9 410.7 443.2 411 439.1 411.3 439.4 411.7 443.4 412 443.9 412.3 446.5 412.7 433.5 413 441 413.3 447.5 413.7 445.3 414 442.4 414.3 400.1 414.7 423.2 415 425.9 415.3 425.2 415.7 429.7 416 435.9 416.3 433 416.7 431.9 417 440.8 417.3 437.6 417.7 447.6 418 449.1 418.3 455.6 418.7 449.9 419 446.5 419.3 464.9 419.7 466.9 420 456.8 420.3 444.6 420.7 450.4 421 445.3 421.3 452.7 421.7 449.8 422 446.6 422.3 451.6 422.7 446.1 423 446 423.3 354 423.7 357.4 424 356 424.3 396.5 424.7 417.5 425 415.9 425.3 414.7 425.7 431.8 426 435.6 426.3 442.7 426.7 446.1 427 445.8 427.3 449.5 427.7 444.4 428 382.3 428.3 384.7 428.7 387.8 429 395.9 429.3 429 429.7 435.1 430 427.6 430.3 439.1 430.7 440 431 442.8 431.3 446.4 431.7 445.3 432 444.4 432.3 437.2 432.7 444.5 433 443.6 433.3 444.3 433.7 448.5 434 441.6 434.3 443.3 434.7 443.7 435 442.3 435.3 447.6 435.7 402.4 436 397.2 436.3 393.2 436.7 416 437 415.3 437.3 419.1 437.7 427.9 438 436.4 438.3 443 438.7 440.7 439 443.4 439.3 449.3 439.7 446.7 440 448.3 440.3 442.4 440.7 450.2 441 450.2 441.3 435.6 441.7 435.7 442 437 442.3 440 442.7 433.7 443 442.9 443.3 440 443.7 448.3 444 440.2 444.3 404.1 444.7 424.5 445 424.4 445.3 437.7 445.7 436.5 446 408.7 446.3 423.3 446.7 406.2 447 418.3 447.3 387.8 447.7 382.3 448 392.1 448.3 386.6 448.7 423.1 449 423.4 449.3 420.7 449.7 419.2 450 437.4 450.3 438.6 450.7 441.1 451 447.5 451.3 442.3 451.7 452.7 452 451.4 452.3 456.4 452.7 451.3 453 452.5 453.3 451.5 453.7 390.4 454 405.3 454.3 379.2 454.7 381.8 455 394.1 455.3 355.8 455.7 391.2 456 387.4 456.3 405.4 456.7 401.9 457 421.7 457.3 418.1 457.7 447.2 458 442.8 458.3 471.3 458.7 465.5 459 467.6 459.3 440.9 459.7 444.3 460 444.8 460.3 435.6 460.7 436.9 461 335.4 461.3 345.2 461.7 344.3 462 332.5 462.3 341.7 462.7 351.2 463 349.9 463.3 351 463.7 360.8 464 364.2 464.3 373.6 464.7 370.8 465 414.7 465.3 423.3 465.7 369.8 466 372.3 466.3 372.1 466.7 379.4 467 374.9 467.3 399.1 467.7 405.7 468 400.4 468.3 414.5 468.7 414.4 469 409.1 469.3 417.8 469.7 422.5 470 419.2 470.3 421.5 470.7 422.6 471 439.9 471.3 437.6 471.7 445.3 472 336.4 472.3 332.5 472.7 339.8 473 356.9 473.3 359.7 473.7 391.8 474 398.3 474.3 416.1 474.7 416 475 468.8 475.3 461.8 475.7 468.7 476 464 476.3 461.3 476.7 466.2 477 464.4 477.3 465.6 477.7 470.6 478 472.2 478.3 463.7 478.7 467.1 479 344.2 479.3 335.7 479.7 366.1 480 356.4 480.3 394.8 480.7 392.7 481 393.7 481.3 391.8 481.7 395.5 482 391.4 482.3 395.2 482.7 441.4 483 440 483.3 364.1 483.7 360.5 484 375.7 484.3 399.1 484.7 401.7 485 389.7 485.3 388.7 485.7 402.5 486 415.1 486.3 465.8 486.7 469.1 487 438.3 487.3 441.4 487.7 446 488 454.6 488.3 449.7 488.7 441.5 489 447.6 489.3 452.9 489.7 444.7 490 444.8 490.3 454.6 490.7 352.9 491 351.5 491.3 351.6 491.7 345 492 344.3 492.3 347.5 492.7 350.1 493 373.1 493.3 468.7 493.7 464.1 494 424.7 494.3 416.6 494.7 335.1 495 353.2 495.3 343 495.7 327.2 496 344.9 496.3 363.4 496.7 353.3 497 359.6 497.3 410.1 497.7 408.1 498 411.6 498.3 398.5 498.7 410.6 499 421.5 499.3 433.3 499.7 437.5 500 436.1 500.3 446 500.7 447.6 501 344.8 501.3 358.7 501.7 370.3 502 378.7 502.3 372.4 502.7 375.1 503 382.2 503.3 385.7 503.7 397 504 382.8 504.3 380.6 504.7 387 505 392.2 505.3 403.6 505.7 452.5 506 453 506.3 463.1 506.7 457.4 507 393.4 507.3 388.6 507.7 391.3 508 405.4 508.3 420.5 508.7 429.6 509 423.1 509.3 442.2 509.7 445.4 510 454 510.3 454.9 510.7 451.1 511 450.6 511.3 453.5 511.7 462.1 512 458.5 512.3 458.5 512.7 459.2 513 453.1 513.3 457.1 513.7 461.1 514 459.8 514.3 456.6 514.7 454.2 515 454.5 515.3 455.2 515.7 404.4 516 432.3 516.3 438.2 516.7 428.1 517 434 517.3 450.3 517.7 447.4 518 447.6 518.3 445.9 518.7 445.4 519 448.6 519.3 447.5 519.7 458.6 520 447.5 520.3 400.4 520.7 399.9 521 404.5 521.3 432.7 521.7 445.9 522 447.7 522.3 448.6 522.7 457.4 523 464.8 523.3 466.3 523.7 383.3 524 378.5 524.3 390.3 524.7 414.5 525 415 525.3 424.3 525.7 456.5 526 457.9 526.3 454.8 526.7 448.3 527 452.6 527.3 458.7 527.7 455.3 528 449.7 528.3 447.4 528.7 454.8 529 454.6 529.3 448 529.7 448.9 530 453.1 530.3 443.6 530.7 458.6 531 451.9 531.3 367.1 531.7 371.2 532 392.6 532.3 398.6 532.7 427.8 533 446.9 533.3 436.9 533.7 448.2 534 450 534.3 445.9 534.7 451 535 448.6 535.3 442.9 535.7 418.8 536 422.6 536.3 417.4 536.7 441.1 537 445.6 537.3 453.2 537.7 448.6 538 448.6 538.3 451.4 538.7 438.9 539 361.7 539.3 366.9 539.7 398.1 540 404.4 540.3 448.8 540.7 467.8 541 467 541.3 452.1 541.7 451 542 451 542.3 457.9 542.7 443.9 543 445.2 543.3 449.9 543.7 458.1 544 449.6 544.3 456.2 544.7 453.6 545 460.1 545.3 457.7 545.7 452.8 546 344.5 546.3 336.4 546.7 354.6 547 361.7 547.3 372.9 547.7 371.5 548 390.7 548.3 415.7 548.7 358.5 549 367.4 549.3 367.2 549.7 449.7 550 456.2 550.3 460.6 550.7 448.2 551 451.2 551.3 455.1 551.7 450.7 552 356.8 552.3 346.3 552.7 355.8 553 358.7 553.3 349.5 553.7 349.4 554 359.7 554.3 364 554.7 366.3 555 358.6 555.3 362.4 555.7 362.9 556 369.3 556.3 380.4 556.7 468.5 557 466.1 557.3 390.6 557.7 389.2 558 390.1 558.3 390 558.7 424.7 559 442.1 559.3 462.2 559.7 466.8 560 456.2 560.3 463.5 560.7 430.7 561 377.4 561.3 392.2 561.7 381 562 407 562.3 408.4 562.7 416.7 563 426.4 563.3 423.3 563.7 415.1 564 424.8 564.3 437.8 564.7 446.6 565 446 565.3 447.8 565.7 439.7 566 444.5 566.3 448.6 566.7 443.3 567 443.5 567.3 443 567.7 439.3 568 440.5 568.3 439.5 568.7 446.8 569 441.5 569.3 439 569.7 444.2 570 450.5 570.3 465.8 570.7 469.7 571 334 571.3 350.4 571.7 349.5 572 372.5 572.3 380.3 572.7 401 573 397.5 573.3 399.3 573.7 404.4 574 451.1 574.3 451 574.7 448.5 575 455.8 575.3 447 575.7 452 576 450.7 576.3 451.5 576.7 453.3 577 452.1 577.3 456.3 577.7 451.7 578 448.9 578.3 442.7 578.7 448 579 457.8 579.3 403.8 579.7 414.3 580 412 580.3 422.5 580.7 463.8 581 461.6 581.3 461.4 581.7 455.4 582 456.1 582.3 454.7 582.7 455.4 583 462.2 583.3 457.4 583.7 460.2 584 405.5 584.3 409.9 584.7 414.4 585 444 585.3 337.4 585.7 364.9 586 358.2 586.3 367.6 586.7 385.3 587 432.2 587.3 408.9 587.7 422.5 588 436.2 588.3 427.9 588.7 439.5 589 454.8 589.3 325.4 589.7 327.5 590 325.5 590.3 325.5 590.7 326.9 591 330.7 591.3 375.1 591.7 377.4 592 373.2 592.3 380.9 592.7 379.5 593 415.1 593.3 405.7 593.7 457.6 594 445.2 594.3 426.3 594.7 435 595 451.7 595.3 448.2 595.7 403.5 596 424.9 596.3 432.7 596.7 435.2 597 436.2 597.3 446 597.7 445.4 598 447.1 598.3 461.8 598.7 461.4 599 461.5 599.3 457.6 599.7 461.4 600 458.1 600.3 457.1 600.7 461 601 467 601.3 394.1 601.7 413.2 602 415.1 602.3 407.4 602.7 413.1 603 402.8 603.3 421.5 603.7 416.9 604 426.3 604.3 426.3 604.7 396.1 605 391.3 605.3 389.4 605.7 395.1 606 391.1 606.3 384.3 606.7 393.6 607 398.4 607.3 396.5 607.7 403.4 608 403.6 608.3 395.5 608.7 394.5 609 402.7 609.3 402.7 609.7 447 610 452 610.3 455.2 610.7 459.2 611 455.2 611.3 449.7 611.7 453.2 612 462.1 612.3 350.8 612.7 355.6 613 368.8 613.3 364.7 613.7 384.4 614 386.5 614.3 409.6 614.7 416 615 411.2 615.3 422.4 615.7 445.9 616 448.7 616.3 444.9 616.7 446.1 617 454.7 617.3 445.7 617.7 446.2 618 453 618.3 440.9 618.7 431.5 619 445.8 619.3 449.7 619.7 451.9 620 455.6 620.3 442.9 620.7 448.5 621 446.1 621.3 449.9 621.7 461.1 622 354.9 622.3 358 622.7 351.6 623 361.9 623.3 414 623.7 413.3 624 417.9 624.3 395 624.7 407.5 625 411.3 625.3 436 625.7 453.4 626 453.5 626.3 453.6 626.7 452.7 627 459.5 627.3 367.7 627.7 376.6 628 355.8 628.3 376.4 628.7 379 629 380.1 629.3 385.1 629.7 390.3 630 387.7 630.3 405.7 630.7 322.9 631 325.1 631.3 327 631.7 344.8 632 337.7 632.3 337 632.7 376.8 633 379.5 633.3 392.9 633.7 398.9 634 397.8 634.3 421 634.7 417.2 635 423.4 635.3 444.9 635.7 450.9 636 453.4 636.3 439.6 636.7 447.3 637 448.7 637.3 454 637.7 453 638 445.2 638.3 444.9 638.7 452.4 639 446 639.3 468.7 639.7 471.2 640 444.1 640.3 452 640.7 446.6 641 447.9 641.3 351.7 641.7 342.8 642 362.7 642.3 356.7 642.7 468.9 643 470 643.3 391.4 643.7 378 644 362.8 644.3 375.9 644.7 378.9 645 392.1 645.3 426.6 645.7 445.3 646 440.6 646.3 441.2 646.7 451.4 647 446 647.3 441.4 647.7 437.9 648 441.3 648.3 439.6 648.7 451.2 649 437.3 649.3 440.9 649.7 444 650 444.9 650.3 389.9 650.7 390.3 651 398.1 651.3 390.6 651.7 383.6 652 388.9 652.3 379.7 652.7 384.2 653 382.8 653.3 389.7 653.7 393.7 654 404.5 654.3 401.5 654.7 402.8 655 401.2 655.3 402.1 655.7 404 656 431.2 656.3 442.3 656.7 442.1 657 444.6 657.3 448.5 657.7 334.2 658 329.8 658.3 330.4 658.7 337 659 327.9 659.3 338.7 659.7 343.5 660 361.4 660.3 355.4 660.7 356.3 661 361.6 661.3 361.2 661.7 371.8 662 349.2 662.3 373.6 662.7 370.1 663 434.5 663.3 432.1 663.7 428.5 664 432.3 664.3 422.4 664.7 429.7 665 430.6 665.3 446 665.7 343.6 666 346.3 666.3 348.4 666.7 355.5 667 359.3 667.3 384.7 667.7 371.1 668 381.7 668.3 373 668.7 399.8 669 396.3 669.3 368.8 669.7 401 670 409.1 670.3 390.2 670.7 391.1 671 394.2 671.3 417.6 671.7 412.8 672 419 672.3 415.3 672.7 408.3 673 358.4 673.3 352.7 673.7 352.4 674 365.3 674.3 352.7 674.7 363.7 675 360.7 675.3 363.6 675.7 368.2 676 391.4 676.3 386 676.7 389.3 677 394.5 677.3 407.1 677.7 406.4 678 420.8 678.3 415 678.7 421.4 679 411.8 679.3 413.3 679.7 408 680 428.1 680.3 416.6 680.7 424.8 681 378 681.3 383.6 681.7 382 682 389.9 682.3 387.9 682.7 420.4 683 418.3 683.3 417 683.7 420.4 684 429 684.3 433.2 684.7 447.5 685 464.7 685.3 457.8 685.7 464.4 686 465.2 686.3 456.3 686.7 454.4 687 458.2 687.3 459.7 687.7 454.3 688 462.4 688.3 456.5 688.7 453.3 689 459.2 689.3 464.3 689.7 460.1 690 461.2 690.3 455.7 690.7 380 691 373.3 691.3 380 691.7 375.2 692 380.1 692.3 382.4 692.7 389.5 693 388.1 693.3 387.5 693.7 387 694 391.7 694.3 397.5 694.7 392 695 400.7 695.3 399.3 695.7 409.8 696 431.2 696.3 437.8 696.7 445.5 697 457.4 697.3 453 697.7 337.6 698 333.7 698.3 340.8 698.7 338.6 699 355.2 699.3 352.3 699.7 359.9 700 357.9 700.3 364.1 700.7 354.4 701 366.5 701.3 364.1 701.7 367.9 702 333 702.3 336.7 702.7 340.5 703 342.3 703.3 352.1 703.7 353.6 704 351.3 704.3 367.4 704.7 368.1 705 374.5 705.3 386.3 705.7 344.2 706 344.1 706.3 342.2 706.7 344.1 707 342.7 707.3 406.7 707.7 446.8 708 441.9 708.3 443.6 708.7 460.5 709 452.6 709.3 454 709.7 459.6 710 458.2 710.3 457 710.7 454.4 711 457.9 711.3 453.1 711.7 448.6 712 463.8 712.3 465.3 712.7 465.2 713 457.9 713.3 454.9 713.7 458.2 714 450.3 714.3 460 714.7 456.3 715 461.1 715.3 459.1 715.7 455.9 716 362.4 716.3 363.3 716.7 359.6 717 358.6 717.3 382.8 717.7 372.1 718 380.3 718.3 325.4 718.7 360.5 719 373.1 719.3 379 719.7 374.4 720 384.6 720.3 375.1 720.7 379.4 721 397 721.3 317 721.7 327.4 722 333.8 722.3 329.2 722.7 347.7 723 359.8 723.3 405.1 723.7 413.3 724 421.8 724.3 423.3 724.7 421.6 725 444.9 725.3 459.2 725.7 398 726 398.7 726.3 395 726.7 409.4 727 420.4 727.3 426.2 727.7 438.1 728 439.6 728.3 404.3 728.7 401.3 729 405.6 729.3 403.5 729.7 438.9 730 438.1 730.3 442.4 730.7 393.9 731 389.9 731.3 401.2 731.7 398.8 732 399.3 732.3 410.7 732.7 402.7 733 429 733.3 426 733.7 433 734 444.1 734.3 447.8 734.7 456.4 735 449 735.3 448.5 735.7 444 736 453.2 736.3 450.6 736.7 340.1 737 337.5 737.3 338.5 737.7 373.5 738 366.4 738.3 365.9 738.7 361 739 365.6 739.3 375.5 739.7 368.8 740 381.4 740.3 369 740.7 369.4 741 362.6 741.3 435.9 741.7 435.5 742 447.4 742.3 446.7 742.7 455 743 451.7 743.3 459.1 743.7 447.5 744 459.5 744.3 456.9 744.7 406.5 745 403.1 745.3 410.1 745.7 406.6 746 433 746.3 435.4 746.7 428.3 747 441.5 747.3 448.6 747.7 449.2 748 442.9 748.3 442.7 748.7 443.2 749 450.7 749.3 440.9 749.7 450.8 750 445.1 750.3 342.8 750.7 360.9 751 373.4 751.3 401.4 751.7 423 752 430.9 752.3 432.6 752.7 444.2 753 442.1 753.3 438.2 753.7 448.7 754 459.1 754.3 452.9 754.7 464.3 755 469.7 755.3 457.5 755.7 469 756 463.1 756.3 454.5 756.7 458.3 757 456 757.3 459.9 757.7 454.6 758 459.7 758.3 456.8 758.7 459.4 759 449.4 759.3 457.3 759.7 405.7 760 410.7 760.3 411.9 760.7 426.3 761 469.9 761.3 471.6 761.7 459.9 762 460.8 762.3 454.5 762.7 458.1 763 451.7 763.3 456.3 763.7 434.9 764 447.4 764.3 456.4 764.7 456.3 765 465.7 765.3 451.1 765.7 449.8 766 453.3 766.3 452.3 766.7 449.8 767 456.7 767.3 452.3 767.7 375.3 768 464.5 768.3 466.3 768.7 384 769 395.2 769.3 401.4 769.7 449.7 770 444.1 770.3 454.6 770.7 443.2 771 450.5 771.3 450.4 771.7 440.8 772 455.9 772.3 441.8 772.7 448.7 773 450.2 773.3 445.8 773.7 439.7 774 445.8 774.3 450.7 774.7 452.6 775 455 775.3 454.3 775.7 449.4 776 448.6 776.3 448.7 776.7 335.8 777 340.3 777.3 340.3 777.7 340.8 778 330.8 778.3 372.6 778.7 387.7 779 389 779.3 469.3 779.7 467.1 780 393 780.3 410.1 780.7 415.5 781 422.9 781.3 327.2 781.7 361.9 782 350.7 782.3 351.6 782.7 366.3 783 361.6 783.3 357.8 783.7 390.2 784 421.7 784.3 435.7 784.7 327.8 785 335.9 785.3 337.3 785.7 341.5 786 340.2 786.3 350.1 786.7 342.4 787 353.9 787.3 353 787.7 371.4 788 364.8 788.3 366.7 788.7 387.1" fill="none" stroke="#000" stroke-width="2.5" stroke-linejoin="round"/>
<path d="M837.5 452.4V470.8M838.5 452.3V469.7M839.5 453.1V469.4M840.5 450.4V473.4M841.5 451.2V469.4M842.5 447.7V467.8M843.5 450.1V475.9M844.5 445.9V469.4M845.5 448.9V467.5M846.5 447.6V467.2M847.5 451.8V473.1M848.5 448.8V473.1M849.5 447.5V477.5M850.5 453.7V468M851.5 453.4V469.4M852.5 452.9V472.8M853.5 451.1V474.8M854.5 447.7V469M855.5 451.6V469.1M856.5 453.7V471.3M857.5 453.4V468.8M858.5 453.5V468.1M859.5 453.9V477.7M860.5 449.6V468.9M861.5 454.7V474.6M862.5 453.1V471.1M863.5 454.5V473.1M864.5 454.6V472.5M865.5 454.9V470.7M866.5 455.1V472.6M867.5 446.8V470.9M868.5 450.8V472.1M869.5 448.3V473.7M870.5 447V471.6M871.5 452.9V467.5M872.5 442.8V467.5M873.5 446.9V470.1M874.5 451.3V467.7M875.5 453.4V474.5M876.5 451.3V473.8M877.5 454V473.5M878.5 453.4V471.7M879.5 455V471.3M880.5 454.6V472.5M881.5 454.3V469.6M882.5 454.2V471.6M883.5 451.7V469.9M884.5 454.9V469.9M885.5 454V477.8M886.5 450.5V471.9M887.5 453.4V474.4M888.5 453.7V472.2M889.5 453V471.7M890.5 452.8V474.6M891.5 451.5V470.5M892.5 449V469.2M893.5 451.6V470.7M894.5 445V473.1M895.5 454.7V469.1M896.5 454V473.3M897.5 454.3V471.6M898.5 451.7V472.2M899.5 456.7V473.1M900.5 455.1V472M901.5 456.8V475.5M902.5 445.8V473.3M903.5 452.9V474.9M904.5 451.6V471.5M905.5 445.1V469.4M906.5 450.8V473.1M907.5 446.1V468.2M908.5 451.4V466.1M909.5 448.5V465.8M910.5 447.4V466.7M911.5 445.7V467.3M912.5 452.3V467.1M913.5 450.7V469.3M914.5 450.3V468.4M915.5 451.8V470.4M916.5 453.4V473.4M917.5 450.1V475.9M918.5 456.6V472.8M919.5 455.9V476.7M920.5 456.5V482.3M921.5 451.6V474.8M922.5 457.1V475.2M923.5 455V483.4M924.5 459.3V477.9M925.5 459.5V473.9M926.5 459.5V474.3M927.5 455.6V474M928.5 459V476.1M929.5 449.1V475.6M930.5 458V472.7M931.5 455.2V472.6M932.5 457.1V479.8M933.5 455.6V470.5M934.5 449.3V474.6M935.5 455.3V477.1M936.5 453.9V471.1M937.5 454.6V473.1M938.5 454.6V470.6M939.5 454.3V473.3M940.5 453.5V472.7M941.5 452.7V476.4M942.5 453.6V472.1M943.5 446.2V471.4M944.5 454.5V473.4M945.5 455.1V473.6M946.5 453.1V470.4M947.5 451.4V472M948.5 445.3V468.9M949.5 447.7V468.8M950.5 451.5V470.3M951.5 450.4V471.1M952.5 454.4V469.8M953.5 451.7V475.1M954.5 454.5V472.5M955.5 448.7V469.9M956.5 454.7V476.5M957.5 450V472M958.5 451.5V472.5M959.5 451.5V471.7M960.5 451.2V469.1M961.5 454.2V470.1M962.5 449.9V470.2M963.5 453.9V469.1M964.5 453.3V472.2M965.5 453.6V471.4M966.5 448.9V472.7M967.5 455.3V470.7M968.5 455.1V471.1M969.5 455.4V475.1M970.5 456.8V472.8M971.5 455.4V472.2M972.5 455.8V472.5M973.5 453.8V475.1M974.5 452.7V480.3M975.5 456.1V476.4M976.5 452.2V472.3M977.5 452V473.4M978.5 453V474.1M979.5 454.2V472.5M980.5 454.5V471.1M981.5 453.5V468.7M982.5 452.2V469.4M983.5 453.6V468.2M984.5 449.8V472.5M985.5 452.1V469M986.5 450.2V470.9M987.5 451.4V469.5M988.5 453.1V470.4M989.5 455.7V470.9M990.5 455.5V472.4M991.5 455.6V480M992.5 454.1V473.5M993.5 453.4V470.3M994.5 452.8V468.2M995.5 453.2V471.6M996.5 452.7V467.2M997.5 443.9V470.5M998.5 450.1V468.8M999.5 452.3V476.4M1000.5 452.6V468.2M1001.5 454.7V475.1M1002.5 455.8V473.9M1003.5 456.7V471.1M1004.5 457.3V476.1M1005.5 455V476.5M1006.5 450.9V472.7M1007.5 458V478.9M1008.5 457.9V473.8M1009.5 458.4V474.8M1010.5 455.9V477.9M1011.5 456.8V476.8M1012.5 451.9V476.7M1013.5 455.1V473.4M1014.5 456.1V473.4M1015.5 456.7V471.7M1016.5 453.1V473.6M1017.5 454.4V471.7M1018.5 456.3V474.4M1019.5 451.9V472M1020.5 457.1V477.3M1021.5 457.6V472.1M1022.5 454.2V473.5M1023.5 452.2V472.6M1024.5 448.7V473.6M1025.5 454.8V476.1M1026.5 458.6V474.7M1027.5 448.6V473.9M1028.5 457.4V472.4M1029.5 456.4V474.7M1030.5 452.4V472.1M1031.5 457.2V472M1032.5 454.9V472.9M1033.5 455.2V473.3M1034.5 455.9V471.9M1035.5 448.7V473.1M1036.5 456V476.9M1037.5 456.5V473.8M1038.5 448.2V473.5M1039.5 457.6V475.7M1040.5 456.2V474.7M1041.5 456.1V479.9M1042.5 456.4V476.7M1043.5 455.8V473.6M1044.5 456.3V472M1045.5 456.8V471.7M1046.5 456.4V480.1M1047.5 454.4V471.3M1048.5 457.2V474.2M1049.5 457.1V474.4M1050.5 456.7V472.9M1051.5 459V480M1052.5 456.5V479.5M1053.5 457.3V474.7M1054.5 458.6V476.6M1055.5 457V475M1056.5 455.3V477.9M1057.5 453.9V471.8M1058.5 453.4V472.8M1059.5 450.7V469.2M1060.5 453V467.3M1061.5 452.9V469.4M1062.5 451.8V471.1M1063.5 454.7V471.3M1064.5 452.4V473.8M1065.5 453.5V479.4M1066.5 452.1V473M1067.5 456.1V482.2M1068.5 458.1V475.2M1069.5 457.9V476.3M1070.5 458.9V474M1071.5 459.1V474.1M1072.5 459.3V477.6M1073.5 460.8V479.2M1074.5 458.1V476.8M1075.5 460.7V479M1076.5 456.2V474.9M1077.5 459.9V480.7M1078.5 458.5V474.3M1079.5 449.6V474.4M1080.5 458.9V475.8M1081.5 458V475.6M1082.5 457.5V474.2M1083.5 453.9V474.4M1084.5 457.3V476M1085.5 456V472.1M1086.5 450.1V472.6M1087.5 452.3V474.3M1088.5 450.5V474.4M1089.5 452.7V475.1M1090.5 456.4V472.8M1091.5 456.5V475.4M1092.5 449.6V475.4M1093.5 455V472.2M1094.5 454.2V476.1M1095.5 456.1V475.5M1096.5 457.5V479.8M1097.5 453.3V473.2M1098.5 454.9V471.6M1099.5 456.8V477.4M1100.5 455.1V470.9M1101.5 456V472.2M1102.5 453.3V472.9M1103.5 456.3V474.1M1104.5 454.2V471.3M1105.5 450.3V477.5M1106.5 453V472.7M1107.5 455.7V472.6M1108.5 457.1V480.4M1109.5 457.4V472.1M1110.5 457.5V472.9M1111.5 454.8V476.6M1112.5 454.8V473.3M1113.5 446.9V471.9M1114.5 454V475.4M1115.5 449.5V473.6M1116.5 452.4V470.6M1117.5 452.6V470.6M1118.5 452.8V472.9M1119.5 455.1V470.4M1120.5 449.2V473.6M1121.5 455V471.5M1122.5 452.1V473M1123.5 456.5V478M1124.5 454.1V472.2M1125.5 452.9V471.1M1126.5 456.3V472.4M1127.5 453.9V476.1M1128.5 455.5V472.5M1129.5 453.6V472.9M1130.5 455.1V475.4M1131.5 451.3V475.3M1132.5 455.5V473.3M1133.5 455.2V472.2M1134.5 451.8V474.3M1135.5 455.4V471M1136.5 456V470.2M1137.5 456V470.7M1138.5 451V477.8M1139.5 454.2V474.6M1140.5 453V471.6M1141.5 451V470.9M1142.5 451.8V469.9M1143.5 448.9V478.9M1144.5 452.6V469.3M1145.5 453.5V471.3M1146.5 452.2V470.8M1147.5 451.5V477.1M1148.5 450.1V476.7M1149.5 449.5V470.9M1150.5 454.9V479.1M1151.5 454.9V472.4M1152.5 452.2V474.2M1153.5 454.1V469.6M1154.5 450.9V468.5M1155.5 453.6V473M1156.5 443.8V472.5M1157.5 453.5V477.5M1158.5 451.2V467.7M1159.5 444.2V467.6M1160.5 453.4V470.4M1161.5 449.4V470.5M1162.5 454V468.3M1163.5 454.1V469.1M1164.5 453.3V470.9M1165.5 450.3V473.4M1166.5 450.7V470.9M1167.5 451.7V469.4M1168.5 454.7V470.9M1169.5 450.3V470.8M1170.5 454.5V471.6M1171.5 454.9V471.5M1172.5 454.4V477.5M1173.5 454.4V469.6M1174.5 455.5V473M1175.5 450.5V469.9M1176.5 453.4V473.9M1177.5 450V470.5M1178.5 455.8V470.7M1179.5 453.4V472.2M1180.5 451.8V479.3M1181.5 453V474M1182.5 446V478M1183.5 448.2V473M1184.5 453.2V470.3M1185.5 447.8V471.2M1186.5 454.9V473.2M1187.5 454.4V471.3M1188.5 455.2V471.2M1189.5 451.2V471.9M1190.5 454.3V469.3M1191.5 453.1V468.9M1192.5 450.6V469.7M1193.5 453.5V474.2M1194.5 450.1V471.5M1195.5 454.3V471.4M1196.5 449.6V470.8M1197.5 452.3V469.7M1198.5 454.6V472.9M1199.5 454.8V471.7M1200.5 453.2V473M1201.5 448.6V473.9M1202.5 454.1V469.9M1203.5 452.1V469.8M1204.5 448.2V469.7M1205.5 447.2V471.5M1206.5 452.8V469.2M1207.5 452.2V470.5M1208.5 452.7V469.7M1209.5 451.1V469.8M1210.5 445V469.1M1211.5 455.1V469.2M1212.5 455.3V470.9M1213.5 449.7V471.8M1214.5 454.2V471.6M1215.5 455.8V471.2M1216.5 455.5V472.4M1217.5 455.6V473.7M1218.5 452.9V473.5M1219.5 449V472.5M1220.5 456.5V481M1221.5 454V471.9M1222.5 456V473.8M1223.5 455.9V474.5M1224.5 452.2V473.2M1225.5 452.1V471.3M1226.5 455.2V470.2M1227.5 454.4V472.9M1228.5 454.5V478.7M1229.5 451.2V470.7M1230.5 454.6V469M1231.5 452.4V470.1M1232.5 447.3V469.6M1233.5 454V470.7M1234.5 453.7V470.3M1235.5 445.9V470.8M1236.5 449.4V470.2M1237.5 450.7V470.8M1238.5 455.5V470.5M1239.5 455.4V470.3M1240.5 454.1V470.5M1241.5 451.2V473M1242.5 450.7V471.2M1243.5 454.6V470.3M1244.5 448.7V472.3M1245.5 452.6V475M1246.5 445.6V469.5M1247.5 452V473.1M1248.5 446V469.2M1249.5 452.9V471M1250.5 454.8V469.7M1251.5 454.6V471.2M1252.5 455.3V470.2M1253.5 454.3V471.1M1254.5 455.8V471.2M1255.5 456.5V473.6M1256.5 455.2V471.9M1257.5 456.8V474.5M1258.5 456V470.9M1259.5 452.7V472.1M1260.5 453.7V470.4M1261.5 446.9V471.2M1262.5 451.8V467.2M1263.5 452.3V473.1M1264.5 452V469.5M1265.5 448.6V470.1M1266.5 448.8V467M1267.5 449.7V469M1268.5 453.8V469.6M1269.5 451.8V468.6M1270.5 446.3V469.9M1271.5 451.2V473.5M1272.5 452.7V471M1273.5 452.3V469.5M1274.5 453.9V473.4M1275.5 452V468.4M1276.5 453.5V469.1M1277.5 451.3V469.6M1278.5 450.9V467.4M1279.5 451.6V469.1M1280.5 448.5V470.6M1281.5 453.4V467.9M1282.5 444.5V468.7M1283.5 450.2V467.8M1284.5 451.6V470.5M1285.5 450.3V467.8M1286.5 453.2V468.4M1287.5 450.2V470.7M1288.5 451.3V470.8M1289.5 453.6V474.8M1290.5 452.8V469.2M1291.5 452.2V468.9M1292.5 453.7V468.5M1293.5 450.7V468.5M1294.5 450.8V469.3M1295.5 454.1V473.6M1296.5 444.6V469.6M1297.5 452.3V472.5M1298.5 451.5V470.2M1299.5 446V470.2M1300.5 455.1V479.2M1301.5 447.7V469.8M1302.5 445.6V470.4M1303.5 455.7V471.6M1304.5 454.5V471.8M1305.5 455.1V474.4M1306.5 455.6V476.5M1307.5 451.6V469.7M1308.5 452.1V474.1M1309.5 451.2V473.7M1310.5 450.5V471.6M1311.5 452.1V469.8M1312.5 451.1V467.9M1313.5 448.1V468.3M1314.5 453V470.7M1315.5 449.1V477.2M1316.5 453V474.5M1317.5 452.6V467.1M1318.5 451.8V469.2M1319.5 451.4V468.6M1320.5 448V468.2M1321.5 450.7V468.3M1322.5 452.3V469.3M1323.5 449.4V470.2M1324.5 449.3V470.8M1325.5 452V473.1M1326.5 452.3V471.2M1327.5 455.5V478.7M1328.5 447.9V472.1M1329.5 455.9V473.6M1330.5 455.9V479.1M1331.5 454.9V481M1332.5 453.5V475.4M1333.5 447.5V471.9M1334.5 449.7V474.9M1335.5 455.6V473.9M1336.5 457.4V471.6M1337.5 454.8V471.6M1338.5 452.3V477.3M1339.5 456.8V474M1340.5 456.1V475.5M1341.5 454.1V471.9M1342.5 456.1V475.1M1343.5 456V472.3M1344.5 456.3V471.1M1345.5 456V472M1346.5 454.8V474.6M1347.5 454.7V472.5M1348.5 455.6V471.9M1349.5 453.3V477.4M1350.5 456V475.7M1351.5 455V470.9M1352.5 453.9V470.2M1353.5 453.2V477.8M1354.5 452.3V469.6M1355.5 454.2V470.7M1356.5 452.8V470.1M1357.5 455.2V479.4M1358.5 455.3V470.7M1359.5 449.6V470.1M1360.5 450.6V472.6M1361.5 451.4V475M1362.5 455.9V472.4M1363.5 451.8V475.7M1364.5 454.4V470.6M1365.5 454.8V473.9M1366.5 453.8V473.7M1367.5 452.9V472.8M1368.5 454.6V471.9M1369.5 451.2V470.6M1370.5 449V470.1M1371.5 449.9V473.6M1372.5 445.2V469.8M1373.5 446.8V467.7M1374.5 442.6V476.6M1375.5 450.8V467.6M1376.5 451.3V468.2M1377.5 444V467.3M1378.5 452.5V469M1379.5 453.2V471.1M1380.5 452.4V473.1M1381.5 453.4V471.8M1382.5 455.2V471M1383.5 453V472.3M1384.5 454.3V470.2M1385.5 452.2V470M1386.5 454.1V469.3M1387.5 450.2V468.9M1388.5 448.6V472.1M1389.5 449.8V467.5M1390.5 443.2V468.7M1391.5 451.3V474.9M1392.5 453.6V470.7M1393.5 445.4V470.4M1394.5 453.8V471.6M1395.5 456.2V475.2M1396.5 457V481.5M1397.5 457.6V472.7M1398.5 457.2V474.5M1399.5 456.3V480.8M1400.5 454.2V475.7M1401.5 454.9V471.5M1402.5 455.4V470.2M1403.5 447.3V474.6M1404.5 451.9V471.4M1405.5 453.1V471.7M1406.5 451.5V476.1M1407.5 451.1V470.7M1408.5 447.5V469.7M1409.5 452.5V470.5M1410.5 450.7V469.1M1411.5 453.6V469.7M1412.5 450.8V473M1413.5 453V469.5M1414.5 453V472.2M1415.5 452.2V469.8M1416.5 454.9V471.4M1417.5 454.9V472.4M1418.5 454.2V471.1M1419.5 455.4V469.9M1420.5 451V473.8M1421.5 454.6V470.1M1422.5 452V469.4M1423.5 452.9V473.8M1424.5 454.7V479.2M1425.5 453V474.5M1426.5 453.3V479.5M1427.5 452.6V471.8M1428.5 455.3V475.4M1429.5 455.6V472.2M1430.5 454.1V471.5M1431.5 454.5V473.7M1432.5 454.5V473.1M1433.5 447.6V472.2M1434.5 450.4V471.9M1435.5 449.4V472.5M1436.5 452.5V471.8M1437.5 454.7V473.9M1438.5 455.7V472.3M1439.5 454.5V472.5M1440.5 450.6V475.6M1441.5 454.7V471.1M1442.5 451.6V468.3M1443.5 453.7V471.2M1444.5 449.4V471.7M1445.5 452.6V467.5M1446.5 450.8V472M1447.5 450.3V470.9M1448.5 452.2V469.2M1449.5 451.3V473.5M1450.5 451.9V469.6M1451.5 448.6V468.3M1452.5 450.7V472.1M1453.5 443.5V468.9M1454.5 453.5V469.5M1455.5 453.5V468.1M1456.5 450.9V468.9M1457.5 453.3V468.4M1458.5 453.3V473.4M1459.5 451.2V468.4M1460.5 453.7V468.5M1461.5 453.7V471.7M1462.5 454.8V469.5M1463.5 453.5V469.3M1464.5 455.2V470.9M1465.5 451.5V472.9M1466.5 455.6V472.2M1467.5 454V471.4M1468.5 452V471.6M1469.5 454.9V470.7M1470.5 454.6V471.1M1471.5 455.2V471.4M1472.5 455.8V471.3M1473.5 455.1V475.4M1474.5 453.1V472.5M1475.5 455.3V472.1M1476.5 455.8V471.1M1477.5 454.6V471.1M1478.5 455V469.8M1479.5 451.3V469.6M1480.5 453.9V468M1481.5 453.8V468.5M1482.5 451.1V468.8M1483.5 453.9V468.5M1484.5 453V470.4M1485.5 454.7V469.8M1486.5 452.3V472.8M1487.5 454.6V475.1M1488.5 451.4V469.8M1489.5 453.2V471.2M1490.5 454.6V471.5M1491.5 453.5V475.2M1492.5 451.2V473.9M1493.5 452V471.8M1494.5 450.6V470.5M1495.5 455.6V471.3M1496.5 451.8V471.8M1497.5 452.5V471.8" fill="none" stroke="#000" stroke-width="1.2"/>
<line x1="1022.5" y1="470" x2="1022.5" y2="490" stroke="#000" stroke-width="1.4"/>
<text x="-1.7" y="580.0" font-size="53" font-weight="bold" fill="#000">c</text>
<path d="M88.5 644.7V702.1M89.5 655.6V701.8M90.5 655.6V704.2M91.5 655.6V703.1M92.5 655.9V702.4M93.5 655.9V705.4M94.5 655.9V702.8M95.5 651.9V707.1M96.5 607.5V705.5M97.5 607.5V706.9M98.5 659.5V705M99.5 659.5V703.4M100.5 659.5V702.2M101.5 611.8V703M102.5 651.9V701.8M103.5 651.9V703.7M104.5 651.9V703.1M105.5 645.4V705.2M106.5 644.5V702.3M107.5 644.5V706.9M108.5 640V703.2M109.5 599.5V702M110.5 645.2V702.9M111.5 645.2V703.3M112.5 644.7V702.2M113.5 645.8V703.1M114.5 662V703.4M115.5 662V703.3M116.5 662V702.6M117.5 653.6V703.1M118.5 653.6V704M119.5 653.6V702.8M120.5 599.7V703.1M121.5 602.6V702M122.5 601.6V702.8M123.5 646.1V702M124.5 651.4V702M125.5 660.5V702.2M126.5 660.5V703.1M127.5 660.5V702.6M128.5 647.8V702.3M129.5 645.9V705.5M130.5 645.9V702M131.5 662.3V702M132.5 662.3V703.4M133.5 662.3V702.6M134.5 613V702.2M135.5 613V703.5M136.5 599V703.1M137.5 691.6V702.2M138.5 691.6V702.4M139.5 691.8V702.5M140.5 691V704.6M141.5 691.1V704.8M142.5 692.2V702.5M143.5 692.2V702.6M144.5 646V702.2M145.5 646V702.8M146.5 646V702.7M147.5 594.7V703M148.5 594.7V706.5M149.5 592.9V702.3M150.5 662.8V704.8M151.5 662.8V702.2M152.5 662.8V702.1M153.5 648.6V703.3M154.5 648.6V702.1M155.5 600.6V702.4M156.5 606.2V702.5M157.5 606.2V703.6M158.5 610.4V703.4M159.5 610.4V702.3M160.5 610.4V702.6M161.5 594.4V703.9M162.5 604.6V704.9M163.5 604.6V703.9M164.5 612.4V703M165.5 645.1V704.9M166.5 645.1V702.8M167.5 645.1V702.6M168.5 613.5V702.4M169.5 609.8V703.4M170.5 659.8V703.7M171.5 659.8V702.4M172.5 659.8V703.2M173.5 645.5V702.3M174.5 644.1V702.6M175.5 645.5V702.4M176.5 646V702.7M177.5 646V702.8M178.5 645V702.2M179.5 645.8V706M180.5 642.9V703.9M181.5 646.1V704.4M182.5 646.1V703M183.5 646.1V704M184.5 642.6V702.6M185.5 644.4V703.8M186.5 644.4V702.5M187.5 644.8V703.7M188.5 644.8V702.5M189.5 593.2V704.2M190.5 594.9V702.5M191.5 592.6V702.3M192.5 594.8V703.7M193.5 594.7V704.1M194.5 613.5V704.3M195.5 663.8V703.4M196.5 663.8V703.9M197.5 663.8V706.6M198.5 645.7V703.4M199.5 646.4V702.7M200.5 654.5V703.6M201.5 654.5V705M202.5 654.5V702.9M203.5 646.6V707M204.5 645V702.7M205.5 645.7V702.6M206.5 645.7V703.8M207.5 645.7V702.5M208.5 610V703M209.5 610V703.2M210.5 650.3V702.5M211.5 690.3V705.6M212.5 690.3V702.9M213.5 690.3V703M214.5 655.7V704M215.5 644.1V703.8M216.5 593.3V703.5M217.5 691.5V703.3M218.5 691.5V706.5M219.5 691.5V702.9M220.5 664.2V702.7M221.5 646.7V702.9M222.5 649.9V702.7M223.5 655.6V702.8M224.5 655.6V703.2M225.5 655.6V702.9M226.5 614.2V703.4M227.5 652.9V703.8M228.5 652.9V707.1M229.5 652.9V702.5M230.5 646.5V702.8M231.5 644.8V703.6M232.5 646.7V704.2M233.5 646.7V705.7M234.5 646.7V703.5M235.5 646.2V704M236.5 646.4V702.9M237.5 661.8V702.9M238.5 661.8V703.9M239.5 659.3V704.1M240.5 659.3V703.5M241.5 650.4V705.2M242.5 650.4V703.6M243.5 651.7V702.6M244.5 651.7V705.5M245.5 646.8V704.8M246.5 646.8V705.2M247.5 594.9V702.7M248.5 593.1V703.4M249.5 603V704.9M250.5 603V708.1M251.5 605.7V704.6M252.5 605.7V702.9M253.5 643.9V703.2M254.5 643.9V704.6M255.5 643.9V704.9M256.5 657.8V703.5M257.5 657.8V702.7M258.5 657.8V709.6M259.5 645.3V703.9M260.5 648.1V704.3M261.5 648.1V703.4M262.5 648.1V704.4M263.5 644.4V702.7M264.5 597.3V702.8M265.5 603.2V702.9M266.5 609.6V703.1M267.5 609.6V703.3M268.5 658.1V703.2M269.5 658.1V703.7M270.5 658.1V704.2M271.5 644.3V705.5M272.5 644.3V706.1M273.5 647.8V704.7M274.5 647.8V703.9M275.5 652.9V705.8M276.5 656.8V704.8M277.5 652.2V653.1M278.5 654.2V705M279.5 662.2V706M280.5 662.2V705.1M281.5 662.2V704.5M282.5 647.8V704.8M283.5 663.8V707.8M284.5 663.8V706.4M285.5 663.8V708.9M286.5 663.6V706M287.5 663.6V705.2M288.5 694.6V706.8M289.5 694.6V705.9M290.5 694.6V705.6M291.5 655.5V710.3M292.5 655.5V706.1M293.5 696.2V706.7M294.5 696.2V706M295.5 696.2V706.4M296.5 696.3V706.6M297.5 696.3V707.6M298.5 696.3V712.7M299.5 650.5V708.5M300.5 696.3V706.9M301.5 696.3V706.8M302.5 695.3V706.4M303.5 696.5V706.7M304.5 696.5V707.4M305.5 695.6V707.8M306.5 693.3V706.5M307.5 695.7V708.6M308.5 695.7V707.1M309.5 696.3V707.1M310.5 696.3V708.3M311.5 695.8V709M312.5 695.8V707.5M313.5 696.2V707M314.5 696.2V706.3M315.5 695.1V708M316.5 695.1V708.9M317.5 657.8V706.2M318.5 657.8V706.2M319.5 696V706.7M320.5 696V707.5M321.5 694.3V708.1M322.5 696.3V708.2M323.5 696.4V707.1M324.5 696.4V706.8M325.5 696.4V708.8M326.5 665.2V706.4M327.5 679.1V708.1M328.5 692.5V706.4M329.5 692.5V710.5M330.5 692.5V707.1M331.5 664.5V706.2M332.5 696.6V706.4M333.5 696.6V706.2M334.5 696.6V708.4M335.5 695.3V706.4M336.5 695.3V706.4M337.5 666.4V706.9M338.5 696.6V709.1M339.5 696.6V711.2M340.5 696.5V712.7M341.5 694.6V706.2M342.5 694.6V706.5M343.5 694.2V706.5M344.5 694.2V707.5M345.5 696.4V706.3M346.5 696.4V706.1M347.5 696.4V707.1M348.5 695.1V708.3M349.5 694.5V707.7M350.5 695.7V706.8M351.5 695V706.1M352.5 694.9V708.5M353.5 696V707.9M354.5 696V707M355.5 695.9V706.7M356.5 695.9V709.3M357.5 695.8V710.2M358.5 695.8V708.6M359.5 694.7V707.6M360.5 696.1V706.8M361.5 695V710.3M362.5 695V706.8M363.5 696.1V707.6M364.5 696.1V706.2M365.5 696.1V708.1M366.5 696.6V707M367.5 696.6V706.2M368.5 696.6V707M369.5 694.7V708.1M370.5 694.7V706.7M371.5 696.5V706.2M372.5 696.5V706.5M373.5 695.5V707.5M374.5 696.7V706.9M375.5 696.6V706.5M376.5 696.6V707M377.5 696.6V707.7M378.5 696.2V706.2M379.5 696.2V706.2M380.5 668V707.7M381.5 668V706.2M382.5 669.2V707.7M383.5 696.4V712.2M384.5 696.4V706.1M385.5 696.4V708.4M386.5 694.3V706.8M387.5 694.3V706.5M388.5 656.8V708.5M389.5 656.8V706.3M390.5 695.2V706.9M391.5 695.2V708.3M392.5 696.5V706.1M393.5 695.8V706.1M394.5 694.7V709.5M395.5 694.7V706.2M396.5 696.6V706.3M397.5 696.6V706.1M398.5 696.6V707.5M399.5 696.4V707.4M400.5 696.4V706.2M401.5 696.4V706.8M402.5 668.5V706.2M403.5 696.3V707.3M404.5 696.3V707.6M405.5 693.7V707.2M406.5 695.6V706.2M407.5 696.6V706.9M408.5 696.6V708.4M409.5 694.6V706.3M410.5 694.6V708M411.5 695.5V706.6M412.5 695.5V711.6M413.5 696.1V710.3M414.5 696.3V706.9M415.5 696.6V707.2M416.5 696.5V708.9M417.5 694.3V706.1M418.5 696.3V710.6M419.5 696.3V706.4M420.5 696.3V707.1M421.5 696.1V708.9M422.5 694.6V708.5M423.5 694.6V706.8M424.5 696.1V706.3M425.5 696.1V708M426.5 696.1V706.6M427.5 695.9V707.1M428.5 695.9V706M429.5 696.5V708M430.5 696.5V706.4M431.5 696.5V706M432.5 694.5V706.6M433.5 694.9V706.9M434.5 696.4V706.6M435.5 696.4V709.2M436.5 696.3V706.2M437.5 696.3V706.4M438.5 696V706.6M439.5 696V709.8M440.5 665.7V706.9M441.5 665.7V709.5M442.5 695.9V706.1M443.5 695.9V706.5M444.5 695.9V706M445.5 695.5V706.4M446.5 693.1V706.4M447.5 695.9V706.4M448.5 695.4V708.3M449.5 692.9V708.1M450.5 692.9V706.5M451.5 649.9V706M452.5 653.4V706.4M453.5 653.4V706.8M454.5 653.4V706.8M455.5 648.5V706.1M456.5 650.2V706.3M457.5 667.6V706.1M458.5 667.6V708.2M459.5 667.6V708.7M460.5 696V706.5M461.5 696V706.8M462.5 696.4V707.8M463.5 696.4V706.5M464.5 653.9V706M465.5 693.9V709.7M466.5 693.9V707.9M467.5 693.9V707.2M468.5 668.4V708.2M469.5 668.4V706.4M470.5 668.4V706.2M471.5 648V706.4M472.5 661.2V706.6M473.5 694.6V707.2M474.5 694.6V706.2M475.5 696.3V706.3M476.5 694.7V705.9M477.5 694.7V706M478.5 661.1V706.4M479.5 661.1V706.2M480.5 661.1V707.2M481.5 654.9V707.1M482.5 654.9V705.9M483.5 662.4V706.5M484.5 666.4V706.1M485.5 666.4V706.1M486.5 666.4V707M487.5 696.5V706.3M488.5 696.5V706.3M489.5 696.5V707M490.5 696.2V706.7M491.5 696.2V706.5M492.5 696.4V706.3M493.5 695.8V709.1M494.5 695.8V707.5M495.5 686.8V707.1M496.5 649.1V710.4M497.5 648.8V706.2M498.5 649.6V705.9M499.5 649.2V706.7M500.5 646.7V706.2M501.5 653.1V709M502.5 663.3V707.2M503.5 663.3V706.1M504.5 663.3V706.1M505.5 653.7V706.2M506.5 696.3V706.5M507.5 696.3V706.2M508.5 696.3V707.3M509.5 662.9V707.3M510.5 662.9V708M511.5 662.9V705.9M512.5 658.4V706M513.5 658.4V706.9M514.5 660.2V706.2M515.5 695.6V706.7M516.5 695.6V706.3M517.5 695.6V707.5M518.5 668.8V707.7M519.5 662.4V708.7M520.5 662.4V707.7M521.5 660V706.2M522.5 660V706.2M523.5 680.6V706.4M524.5 680.6V710.1M525.5 695.8V706.6M526.5 695.8V706.8M527.5 695.8V706M528.5 693.8V706.3M529.5 693.8V707.1M530.5 660.9V706M531.5 655.8V706.3M532.5 655.8V705.9M533.5 647.4V707.2M534.5 649.4V706.2M535.5 660.7V706.1M536.5 660.7V706.9M537.5 694.8V708M538.5 694.8V711.4M539.5 693.5V705.9M540.5 695.9V708.8M541.5 695.9V705.8M542.5 695.9V708.1M543.5 696.3V707.8M544.5 696.3V707.3M545.5 696.3V705.9M546.5 676.3V708.2M547.5 694.3V707.4M548.5 694.3V706.5M549.5 696.4V707M550.5 696.4V706.2M551.5 696.4V706.2M552.5 694.4V706.3M553.5 694.4V706.4M554.5 696.2V706.7M555.5 696.2V707.1M556.5 667.6V707.8M557.5 667.6V707.7M558.5 667.6V706.9M559.5 659.4V706.6M560.5 696.2V708M561.5 696.2V706.8M562.5 694.4V706.1M563.5 695.2V705.9M564.5 695.2V706M565.5 655.6V708.2M566.5 655.6V706.6M567.5 655.6V706.2M568.5 695.9V706.4M569.5 695.9V706.8M570.5 695.9V707.6M571.5 695.5V706.3M572.5 695.7V706.5M573.5 695.9V706.9M574.5 695.3V709.4M575.5 694.5V705.9M576.5 695.5V707.2M577.5 696.3V705.8M578.5 696.1V706M579.5 696.3V706.4M580.5 696.3V706M581.5 658.5V705.8M582.5 668.3V706.3M583.5 696.2V706.4M584.5 696.2V707.5M585.5 694.7V707M586.5 694.7V705.8M587.5 659V706.5M588.5 647.9V706.8M589.5 692.3V706.8M590.5 696.1V707M591.5 696.1V706.2M592.5 695.9V705.8M593.5 695.9V707.9M594.5 662.4V706M595.5 668.4V705.8M596.5 668.4V706.7M597.5 696.3V707.5M598.5 696.3V706M599.5 696.3V707.3M600.5 696.3V707.1M601.5 693V706.1M602.5 661.8V706.8M603.5 661.8V706.7M604.5 664.6V706.2M605.5 664.6V706M606.5 664.6V705.8M607.5 647.6V706.8M608.5 646.8V707.3M609.5 646.8V706.7M610.5 654.6V706M611.5 654.6V709.7M612.5 696.3V708.8M613.5 696.3V706.6M614.5 695.3V705.9M615.5 695.3V705.8M616.5 659.2V707.5M617.5 659.2V705.8M618.5 657V705.8M619.5 657V706.4M620.5 657V706.9M621.5 646.9V707.2M622.5 646.9V708.6M623.5 657.7V706.2M624.5 657.7V706.1M625.5 657.7V706.8M626.5 696V707.1M627.5 696V709.4M628.5 695.2V709.1M629.5 695.2V715.1M630.5 666.1V706.8M631.5 659.2V708.6M632.5 652.9V705.8M633.5 695.7V709.4M634.5 695.7V706.1M635.5 695.7V706.1M636.5 674.3V706.5M637.5 674.3V706M638.5 665.8V706.6M639.5 658.7V706.6M640.5 658.7V705.9M641.5 658.7V708.1M642.5 648.7V707M643.5 652V708.1M644.5 652V707.5M645.5 652V706.8M646.5 666.4V706.7M647.5 666.4V706.7M648.5 666.4V706M649.5 650.1V705.7M650.5 646.9V705.7M651.5 646.6V705.8M652.5 662.2V705.5M653.5 662.2V706.5M654.5 662.2V705.6M655.5 659.6V705.5M656.5 694.9V705.6M657.5 694.9V705.8M658.5 694.9V706.2M659.5 695.9V707.4M660.5 695.9V705.6M661.5 695.1V707.6M662.5 695.9V708.3M663.5 695.8V707.1M664.5 695.3V705.8M665.5 695.3V706.4M666.5 656V706.1M667.5 656V705.7M668.5 649.7V706.1M669.5 646.3V705.7M670.5 647.6V708.5M671.5 692.6V705.9M672.5 692.6V705.7M673.5 694V706.6M674.5 694V707M675.5 648.4V706.3M676.5 649.1V706.7M677.5 649.1V706.4M678.5 695.7V706.2M679.5 695.7V708.3M680.5 695V706.2M681.5 695.8V705.9M682.5 695.7V705.8M683.5 695.7V706.1M684.5 666.3V706.3M685.5 652.5V705.5M686.5 655.9V706.7M687.5 655.9V705.7M688.5 695.7V705.5M689.5 695.7V705.6M690.5 695.7V705.7M691.5 665V705.3M692.5 665V706.5M693.5 665V706.4M694.5 660.4V707.6M695.5 660.4V706.1M696.5 648.2V707.1M697.5 648V707.8M698.5 654.1V705.3M699.5 654.1V705.8M700.5 654.1V706.6M701.5 656.7V705.9M702.5 656.7V705.5M703.5 667V705.5M704.5 667V705.6M705.5 667V707.3M706.5 655.4V707.4M707.5 694.4V706.7M708.5 694.4V706.1M709.5 693.5V706.8M710.5 693.3V706.7M711.5 694.1V705.5M712.5 694.9V705.4M713.5 694.9V705.3M714.5 693V707.8M715.5 695.7V706.7M716.5 695.7V705.4M717.5 694.4V706.6M718.5 695.6V705.4M719.5 695.6V705.9M720.5 693.2V705.2M721.5 692.9V705.9M722.5 695V705.2M723.5 693.4V706.2M724.5 694.6V705.1M725.5 694.7V708.4M726.5 695V706.5M727.5 695V706.2M728.5 694.8V706.7M729.5 694.8V705.2M730.5 665.9V705.3M731.5 695.1V705.6M732.5 695.1V705.1M733.5 695.6V707.1M734.5 695.5V706.1M735.5 695.5V705.4M736.5 675.4V708.1M737.5 675.4V706.2M738.5 675.4V705.9M739.5 695V706.5M740.5 695V707.6M741.5 695V707.2M742.5 664.2V706.7M743.5 662.4V705.3M744.5 662.4V705.6M745.5 665.9V705.5M746.5 665.9V705.8M747.5 665.9V705.3M748.5 695V705.8M749.5 695V705M750.5 692.6V707.5M751.5 692.6V707.8M752.5 649.2V705.6M753.5 652V707.2M754.5 658V705.6M755.5 658V707.4M756.5 658V705.1M757.5 656.3V707.5M758.5 656.3V705.9M759.5 661.1V705.2M760.5 661.1V706.4M761.5 667.8V705.8M762.5 667.8V708M763.5 667.8V706.6M764.5 693.5V704.9M765.5 693.5V706.2M766.5 693.3V705.3M767.5 692.7V706M768.5 693.7V705.4M769.5 695.1V705.5M770.5 693.6V706.5M771.5 694.4V707.5M772.5 692.8V705.7M773.5 695.4V705M774.5 695.3V705.5M775.5 695.1V705.8M776.5 695.1V705.2M777.5 691.2V707.3M778.5 691.2V705.2M779.5 695.2V706.3M780.5 695.2V705.2M781.5 695.2V705.4M782.5 667V705.6M783.5 667V707.6M784.5 654.7V705.8M785.5 658.1V704.8M786.5 662.9V706.8M787.5 667.1V705.5M788.5 667.1V704.8M789.5 694V704.8M790.5 694V705.5M791.5 694V705.3M792.5 658.8V704.9M793.5 656.3V705.3M794.5 661.2V707.4M795.5 661.2V704.7M796.5 661.2V705.5M797.5 694.5V705.9M798.5 694.5V706.9M799.5 694.5V705.3M800.5 654.9V705.2M801.5 654.9V704.7M802.5 654.9V705M803.5 659V705.3M804.5 659V704.8M805.5 691.9V706.7M806.5 691.9V706.3M807.5 691.9V704.8M808.5 668.8V706.8M809.5 646.1V705M810.5 648.9V705.1M811.5 663.4V705.7M812.5 663.4V706.2M813.5 663.4V705.1M814.5 645.8V704.7M815.5 659.3V705.7M816.5 659.3V706.3M817.5 659.3V705.2M818.5 651.5V705.1M819.5 653V705.8M820.5 653V705M821.5 647.1V704.9M822.5 649V704.9M823.5 663.1V705.2M824.5 663.1V705.1M825.5 667.2V705.6M826.5 667.2V705.5M827.5 667.2V704.7M828.5 694.4V708.4M829.5 694.4V706.3M830.5 694.3V705M831.5 694.3V705M832.5 658.5V707.5M833.5 649.6V705.5M834.5 649.6V705.2M835.5 646.6V705.7M836.5 646.9V707.2M837.5 644.6V709.7M838.5 656.2V705.4M839.5 656.2V705.5M840.5 656.2V705.4M841.5 655V705.9M842.5 655V706M843.5 645.1V707.1M844.5 645V704.7M845.5 643.4V704.6M846.5 646.2V704.8M847.5 647.2V707M848.5 645.2V705.6M849.5 646.4V704.7M850.5 654.4V706.3M851.5 654.4V704.9M852.5 654.4V706M853.5 659.8V705.1M854.5 659.8V704.6M855.5 659.8V707.5M856.5 612.9V705.7M857.5 612.9V704.8M858.5 656.7V704.9M859.5 656.7V706.6M860.5 656.7V706.9M861.5 611.4V704.7M862.5 595.9V705M863.5 596.8V706.2M864.5 597.7V704.7M865.5 644V705M866.5 654V706.3M867.5 660.5V705.7M868.5 660.5V704.7M869.5 660.5V705.7M870.5 648.7V705M871.5 643.5V707.2M872.5 667.5V704.9M873.5 667.5V705.5M874.5 667.5V705.2M875.5 653.9V706.2M876.5 653.9V705.9M877.5 653.9V705M878.5 656.8V707M879.5 656.8V704.9M880.5 656.8V705.7M881.5 662.1V705.1M882.5 662.1V704.5M883.5 662.1V706.7M884.5 661.7V705M885.5 661.7V706.3M886.5 661.7V704.9M887.5 667.5V708.6M888.5 667.5V704.5M889.5 667.5V704.8M890.5 659.1V710.4M891.5 659.1V704.5M892.5 648.7V704.9M893.5 658.6V705.2M894.5 658.6V705.4M895.5 658.6V704.8M896.5 666.5V704.5M897.5 666.5V708.4M898.5 666.5V707M899.5 662.1V708.5M900.5 667.4V706.9M901.5 667.4V704.9M902.5 667.4V706.6M903.5 662.6V705.2M904.5 616.7V708.5M905.5 647.7V705.5M906.5 664.8V706.4M907.5 664.8V707.7M908.5 664.8V705.2M909.5 645.9V704.6M910.5 613.2V706M911.5 613.2V705.7M912.5 611V705M913.5 615.3V707.3M914.5 615.3V707.1M915.5 649.1V705.5M916.5 649.1V704.7M917.5 647.3V705.7M918.5 655.7V705.3M919.5 664.4V705M920.5 664.4V706.1M921.5 664.4V705.1M922.5 651.3V707.7M923.5 648.2V704.5M924.5 648.2V705.1M925.5 661V704.6M926.5 666.9V704.8M927.5 666.9V706.3M928.5 666.9V704.6M929.5 647.7V707.6M930.5 647.7V704.4M931.5 645.6V705.8M932.5 645.6V704.4M933.5 647.7V704.5M934.5 647.7V704.8M935.5 647.7V705.4M936.5 646V705M937.5 652.4V705.7M938.5 652.4V705.1M939.5 668.2V705.6M940.5 668.2V704.6M941.5 668.2V704.3M942.5 663.7V704.9M943.5 651.8V705.7M944.5 655.5V704.5M945.5 655.5V704.6M946.5 665.1V704.7M947.5 665.1V704.7M948.5 665.1V704.6M949.5 648.8V705.3M950.5 648.8V704.6M951.5 648V704.4M952.5 655.4V705.6M953.5 655.4V704.6M954.5 656.6V710.2M955.5 656.6V705.2M956.5 694.7V704.7M957.5 694.7V704.3M958.5 694.7V708.2M959.5 643.9V705.1M960.5 643.9V707.4M961.5 659.8V704.4M962.5 659.8V704.5M963.5 659.8V704.5M964.5 647.7V704.7M965.5 647.7V704.7M966.5 661.5V705.1M967.5 668.2V705.8M968.5 668.2V707.4M969.5 668.2V704.8M970.5 644.2V704.6M971.5 605.3V707.5M972.5 652.4V704.2M973.5 652.4V704.7M974.5 654.9V705.8M975.5 654.9V704.1M976.5 655.1V708.4M977.5 655.1V705.1M978.5 653.7V704.6M979.5 653.7V705.8M980.5 661.7V704.6M981.5 661.7V704.9M982.5 661.7V705.5M983.5 654.2V704.9M984.5 654.2V704.4M985.5 648.2V704.9M986.5 666V704.4M987.5 666V709.7M988.5 666V704.2M989.5 650.9V707M990.5 650.9V706.3M991.5 652.7V704.5M992.5 652.7V705.1M993.5 652.7V705.1M994.5 646.5V705.9M995.5 663.9V704.1M996.5 663.9V704.5M997.5 663.9V707.1M998.5 644.2V709.2M999.5 644.2V708M1000.5 657.4V704.2M1001.5 657.4V704.1M1002.5 657.4V704.9M1003.5 647.4V705.7M1004.5 650.4V707.7M1005.5 650.4V704.8M1006.5 650.4V704.7M1007.5 650.4V704.3M1008.5 645.9V704.2M1009.5 661.5V708.5M1010.5 661.5V703.9M1011.5 660.3V704.7M1012.5 660.3V704.4M1013.5 649.8V704M1014.5 649.8V704.9M1015.5 661.8V704.5M1016.5 661.8V704.1M1017.5 661.3V710.6M1018.5 661.3V704.2M1019.5 651.2V704M1020.5 651.2V704.1M1021.5 651.2V704.5M1022.5 694.2V705.9M1023.5 694.2V705.6M1024.5 694.2V704.6M1025.5 661.2V705M1026.5 661.2V704.9M1027.5 660.7V705.1M1028.5 660.1V704.3M1029.5 663V703.8M1030.5 663V703.8M1031.5 663V703.9M1032.5 644.5V704.5M1033.5 647.6V704.7M1034.5 647.6V707M1035.5 651.8V703.7M1036.5 651.8V704.7M1037.5 651.8V704.6M1038.5 648.2V705.6M1039.5 654.5V703.7M1040.5 654.5V704.1M1041.5 654.5V705.6M1042.5 660.2V705.1M1043.5 660.2V706.1M1044.5 662.2V705.7M1045.5 662.2V704.1M1046.5 662.2V704.6M1047.5 654V703.7M1048.5 654V704.4M1049.5 647.8V704.5M1050.5 664.9V704.9M1051.5 664.9V704.8M1052.5 664.9V705.8M1053.5 653.6V704.5M1054.5 666.6V704.1M1055.5 666.6V704M1056.5 666.6V706.5M1057.5 647V704.7M1058.5 645.5V704.3M1059.5 645.5V704.6M1060.5 646.2V703.9M1061.5 644.3V703.8M1062.5 644.3V705.1M1063.5 664.6V703.5M1064.5 692.3V705M1065.5 692.3V703.8M1066.5 692.3V706.6M1067.5 659.6V705.1M1068.5 694V704.3M1069.5 694V704.4M1070.5 692.1V703.5M1071.5 692.1V707.1M1072.5 666.4V703.4M1073.5 653.1V706.1M1074.5 653.1V703.8M1075.5 653.1V703.8M1076.5 651.5V703.7M1077.5 651.5V704.4M1078.5 647V706.2M1079.5 648.8V704.6M1080.5 646.9V703.4M1081.5 647.1V705.3M1082.5 644.9V704.4M1083.5 647.1V706.8M1084.5 663.4V704M1085.5 663.4V704M1086.5 663.4V704M1087.5 649.6V703.7M1088.5 640.1V705.3M1089.5 640.1V704.2M1090.5 607.3V703.3M1091.5 610.4V704M1092.5 610.4V703.3M1093.5 656.8V704.5M1094.5 656.8V703.6M1095.5 656.3V704M1096.5 656.3V704.2M1097.5 689.8V703.6M1098.5 689.8V705.4M1099.5 689.8V706.2M1100.5 645.6V703.7M1101.5 645.6V703.2M1102.5 662.7V707.3M1103.5 662.7V703.7M1104.5 662.7V704.6M1105.5 656.3V703.5M1106.5 656.3V703.6M1107.5 644.3V704.5M1108.5 646.6V704.1M1109.5 644.3V710.2M1110.5 659.8V704M1111.5 659.8V703.7M1112.5 657.9V703.5M1113.5 657.9V708.7M1114.5 645.3V703.7M1115.5 645.3V703.6M1116.5 662.2V703.1M1117.5 662.2V708.1M1118.5 662.2V703.8M1119.5 643.1V703.5M1120.5 651.3V705.9M1121.5 666V704M1122.5 666V703M1123.5 692.5V706.1M1124.5 692.5V706.3M1125.5 692.5V703.3M1126.5 644.4V703.6M1127.5 661V705.4M1128.5 661V703.1M1129.5 661V706.2M1130.5 643.3V703.1M1131.5 647.2V706.3M1132.5 663.7V704M1133.5 663.7V704.8M1134.5 663.7V706M1135.5 662.8V703.1M1136.5 662.8V703.2M1137.5 660V704.3M1138.5 660V704.6M1139.5 645.9V706.3M1140.5 646.3V704.3M1141.5 663.1V703M1142.5 663.1V704.4M1143.5 663.2V704.1M1144.5 663.2V704.8M1145.5 644.8V703.5M1146.5 645.9V702.9M1147.5 644.3V704.4M1148.5 644.3V705.5M1149.5 655.2V703.2M1150.5 655.2V703.1M1151.5 655.2V703.3M1152.5 659.1V703.5M1153.5 659.1V703.5M1154.5 659.1V707M1155.5 657.1V703.6M1156.5 657.1V703.7M1157.5 594.4V704.9M1158.5 653.1V702.9M1159.5 653.1V703.7M1160.5 663.5V705M1161.5 663.5V703.5M1162.5 663.5V702.8M1163.5 655.7V704M1164.5 646.2V703M1165.5 644.8V707.2M1166.5 692.1V703M1167.5 692.1V705M1168.5 692.1V703.2M1169.5 642.5V706.3M1170.5 642.5V703.4M1171.5 610.8V703.5M1172.5 610.8V703.7M1173.5 610.2V703.4M1174.5 610.2V703.2M1175.5 601.6V702.7M1176.5 601.6V708.3M1177.5 646.9V702.7M1178.5 646.9V703.6M1179.5 660.5V703.1M1180.5 660.5V705.6M1181.5 660.5V703.5M1182.5 641.6V702.8M1183.5 641.6V703.7M1184.5 645.5V704.1M1185.5 645.5V703.8M1186.5 645.3V705.2M1187.5 646.6V704.1M1188.5 649.3V702.6M1189.5 649.3V702.8M1190.5 607.8V703.1M1191.5 611V704.1M1192.5 611V703.8M1193.5 644.4V703.9M1194.5 644.4V702.8M1195.5 654.8V702.6M1196.5 654.8V703.1M1197.5 654.8V702.5M1198.5 646V702.6M1199.5 646V703.6M1200.5 593.3V702.8M1201.5 655.2V703.4M1202.5 655.2V703.2M1203.5 655.2V703.3M1204.5 653.6V702.9M1205.5 653.6V703.1M1206.5 648.4V704M1207.5 648.4V705.5M1208.5 648.4V704.2M1209.5 652.5V702.6M1210.5 652.5V702.9M1211.5 655.4V703.2M1212.5 655.4V705.2M1213.5 665.5V705.5M1214.5 665.5V703.5M1215.5 665.5V702.8M1216.5 653V705.1M1217.5 643.4V703.2M1218.5 653.7V702.8M1219.5 653.7V702.8M1220.5 653.7V702.7M1221.5 648.3V702.8M1222.5 642.2V702.5M1223.5 646V705.3M1224.5 655.5V702.3M1225.5 662.5V703M1226.5 662.5V702.4M1227.5 662.5V704.2M1228.5 605.1V703.2M1229.5 644.9V703.5M1230.5 644.9V702.8M1231.5 645.6V705.1M1232.5 646.5V702.5M1233.5 646.2V702.4M1234.5 644.9V702.5M1235.5 644.3V705M1236.5 644.5V702.9M1237.5 645.1V703.3M1238.5 645.1V704.4M1239.5 691.8V706.2M1240.5 691.8V704.3M1241.5 691.8V702.9M1242.5 663.9V702.2M1243.5 652.9V705.3M1244.5 652.9V703.7M1245.5 646.9V702.2M1246.5 653.2V703.7M1247.5 658V702.3M1248.5 658V702.6M1249.5 658V702.7M1250.5 642.7V702.9M1251.5 612.9V702.3M1252.5 645.1V703.4M1253.5 645.1V702.2M1254.5 644.6V703.4M1255.5 659.9V704.7M1256.5 659.9V706.1M1257.5 659.9V703.6M1258.5 648V703M1259.5 648V702.6M1260.5 642.5V702.2M1261.5 642.5V703.8M1262.5 647.5V703.9M1263.5 647.5V704M1264.5 655.9V702.1M1265.5 655.9V702.6M1266.5 655.9V702.4M1267.5 645.6V704.7M1268.5 642.2V704.1M1269.5 651.5V703.3M1270.5 655.1V702.4M1271.5 665V702.3M1272.5 665V702.5M1273.5 665V702.4M1274.5 655.5V703.2M1275.5 655.5V702.4M1276.5 654.4V702.8M1277.5 654.4V702.6M1278.5 658.6V703.7M1279.5 658.6V703.4M1280.5 658.6V702.3M1281.5 645.8V703.2M1282.5 654.1V704.5M1283.5 654.1V702.1M1284.5 654.1V702.2M1285.5 644.5V702.5M1286.5 660.6V702.8M1287.5 660.6V702.2M1288.5 660.6V706M1289.5 642.2V705.1M1290.5 642.9V702.1M1291.5 645.2V705M1292.5 659.3V702.2M1293.5 664.4V702.6M1294.5 664.4V702.2M1295.5 664.4V703M1296.5 691.1V701.8M1297.5 691.1V703.9M1298.5 691.1V702.3M1299.5 647.4V704.5M1300.5 644.7V703.7M1301.5 644.8V702.2M1302.5 658.7V702.4M1303.5 658.7V704.3M1304.5 658.7V702.9M1305.5 651.5V704.9M1306.5 651.5V701.9M1307.5 644.1V703.4M1308.5 647.7V704.3M1309.5 651.2V702M1310.5 651.2V701.7M1311.5 652V701.9M1312.5 652V702M1313.5 652V701.7M1314.5 661.8V701.9M1315.5 661.8V702.4M1316.5 661.8V703.5M1317.5 647.5V703M1318.5 644.5V703M1319.5 645.3V703M1320.5 649.2V702.9M1321.5 652.9V702.4M1322.5 652.9V704.8M1323.5 652.9V702.9M1324.5 641.3V703.5M1325.5 641.3V701.9M1326.5 661.9V703.2M1327.5 661.9V702.7M1328.5 661.9V701.8M1329.5 644V705.9M1330.5 645.6V702.2M1331.5 645.2V702.6M1332.5 642.9V702.1M1333.5 690.3V702.1M1334.5 690.3V703.9M1335.5 692V702.3M1336.5 692V702.8M1337.5 661V701.9M1338.5 661V703.4M1339.5 654.5V701.8M1340.5 654.5V702M1341.5 654.5V702.1M1342.5 592.5V701.7M1343.5 643.7V702.1M1344.5 643.7V704.4M1345.5 642.7V701.5M1346.5 652.3V704M1347.5 652.3V702.9M1348.5 652.3V704.6M1349.5 648.1V702.1M1350.5 640.2V702.3M1351.5 603.8V701.9M1352.5 644.9V703M1353.5 661.4V701.8M1354.5 661.4V701.5M1355.5 661.4V702.5M1356.5 649.8V702.5M1357.5 661.8V703M1358.5 661.8V701.6M1359.5 661.8V702M1360.5 644.7V702M1361.5 662.8V704.8M1362.5 662.8V702.5M1363.5 662.8V702.1M1364.5 655.7V702.1M1365.5 642.9V702.4M1366.5 656.2V701.5M1367.5 656.2V702.5M1368.5 656.5V702.5M1369.5 664.7V702.4M1370.5 664.7V701.8M1371.5 663.1V701.4M1372.5 663.1V701.7M1373.5 654.8V702.4M1374.5 654.8V702.1M1375.5 651.4V703.9M1376.5 645.5V702.2M1377.5 643V701.6M1378.5 654.2V702.3M1379.5 654.2V703.6M1380.5 654.2V701.7M1381.5 662.4V704.7M1382.5 662.4V701.3M1383.5 662.4V702.1M1384.5 642.3V701.3M1385.5 654.5V701.9M1386.5 654.5V702M1387.5 654.5V701.3M1388.5 658V702.2M1389.5 658V701.3M1390.5 657.5V701.4M1391.5 660.3V702.6M1392.5 661.5V702.2M1393.5 661.5V703.4M1394.5 652.1V702.1M1395.5 652.1V702M1396.5 641.5V701.2M1397.5 658.7V701.8M1398.5 658.7V702.1M1399.5 658.7V702M1400.5 643V701.9M1401.5 644.2V703.2M1402.5 644.1V701.2M1403.5 644.8V703.9M1404.5 654.6V704M1405.5 654.6V703.8M1406.5 654.6V702.5M1407.5 645.3V701.4M1408.5 641.6V702.3M1409.5 641.6V701.9M1410.5 661.3V702.2M1411.5 661.3V704.3M1412.5 661.3V705.1M1413.5 659.5V701.8M1414.5 659.5V702.2M1415.5 660V701.6M1416.5 660V701.7M1417.5 660V701.4M1418.5 643.9V705.3M1419.5 643.9V702.3M1420.5 640.9V703.3M1421.5 640.9V702.1M1422.5 593.3V702.4M1423.5 643.7V701.1M1424.5 643.7V702.4M1425.5 644.7V703.7M1426.5 650.8V702.1M1427.5 650.8V703.4M1428.5 650.8V701.4M1429.5 658.8V701.6M1430.5 658.8V701.6M1431.5 658.8V701.4M1432.5 653.4V703.2M1433.5 658.8V705.2M1434.5 658.8V703M1435.5 658.8V701M1436.5 655.2V701.3M1437.5 663.6V702.2M1438.5 663.6V703.1M1439.5 663.6V702.7M1440.5 653.1V701.7M1441.5 653.1V701.1M1442.5 664.3V701.1M1443.5 664.3V701.1M1444.5 664.3V701M1445.5 690V701M1446.5 690V704.9M1447.5 687.5V702M1448.5 687.5V701.8M1449.5 680.2V701.7M1450.5 646.3V703.8M1451.5 646.3V703.5M1452.5 663V701.4M1453.5 663V701.1M1454.5 663V702.4M1455.5 643.8V700.9M1456.5 653.4V701.3M1457.5 653.4V701M1458.5 653.4V701.2M1459.5 662.6V701.7M1460.5 662.6V701.1M1461.5 662.6V702.1M1462.5 657.9V703.3M1463.5 657.9V703.4M1464.5 657.9V701.6M1465.5 646.3V701.5M1466.5 646.3V702.2M1467.5 643V701.9M1468.5 689.6V700.9M1469.5 689.6V703.4M1470.5 689.6V701.3M1471.5 661.3V701.9M1472.5 650.7V702.6M1473.5 650.7V702.9M1474.5 650.7V701.2M1475.5 650.1V703.1M1476.5 650.1V701.5M1477.5 605.9V701.8M1478.5 642.7V702.7M1479.5 642.7V704.1M1480.5 650.8V703.7M1481.5 650.8V703.9M1482.5 650.8V702.1M1483.5 677.3V700.9M1484.5 677.3V709M1485.5 677.3V701.1M1486.5 662.2V701.7M1487.5 662.2V702.4M1488.5 662.2V705.2M1489.5 645.3V701.5M1490.5 645.3V700.8" fill="none" stroke="#ff0000" stroke-width="1.0"/>
<path d="M89.5 645.3V656.1M91.5 651.6V656.1M92.5 645.5V656.4M94.5 651.9V656.4M95.5 595.5V652.4M96.5 604.1V608M98.5 590.1V660M100.5 609.6V660M102.5 594V652.4M104.5 646.1V652.4M107.5 640V645M108.5 594.4V640.5M109.5 589V600M110.5 599.5V645.7M113.5 642.1V646.3M114.5 645.8V662.5M116.5 644.2V662.5M117.5 643.7V654.1M119.5 594V654.1M123.5 594.3V646.6M124.5 646.1V651.9M125.5 651.4V661M127.5 647.8V661M128.5 644V648.3M129.5 594.6V646.4M131.5 644.2V662.8M133.5 593.8V662.8M135.5 595.5V613.5M136.5 591.7V599.5M137.5 599V692.1M143.5 645V692.7M144.5 641.6V646.5M146.5 593.3V646.5M147.5 590.9V595.2M150.5 592.6V663.3M152.5 642.7V663.3M154.5 602.5V649.1M156.5 593.7V606.7M158.5 593.2V610.9M160.5 594.7V610.9M162.5 595V605.1M164.5 595.2V612.9M165.5 612.4V645.6M167.5 613.5V645.6M168.5 595V614M170.5 597.6V660.3M172.5 647.9V660.3M177.5 643V646.5M181.5 591.6V646.6M183.5 642.6V646.6M184.5 614.5V643.1M185.5 609.8V644.9M188.5 589V645.3M194.5 591.6V614M195.5 613.5V664.3M197.5 644V664.3M200.5 643.4V655M202.5 646.2V655M205.5 606V646.2M207.5 600.4V646.2M209.5 595.3V610.5M210.5 594.6V650.8M211.5 650.3V690.8M213.5 655.7V690.8M214.5 644.1V656.2M215.5 593V644.6M217.5 592.6V692M219.5 664.2V692M220.5 646.7V664.7M221.5 601.3V647.2M222.5 646.1V650.4M223.5 649.9V656.1M225.5 600.4V656.1M227.5 602.4V653.4M229.5 643.6V653.4M232.5 642.5V647.2M234.5 642.3V647.2M237.5 645.2V662.3M240.5 645V659.8M241.5 643.7V650.9M244.5 642.5V652.2M246.5 589.6V647.3M249.5 595.8V603.5M252.5 595.2V606.2M253.5 591V644.4M256.5 645.2V658.3M258.5 644.2V658.3M260.5 644.3V648.6M262.5 644.4V648.6M263.5 596.3V644.9M264.5 592.4V597.8M265.5 597.3V603.7M266.5 603.2V610.1M268.5 594.6V658.6M270.5 592.6V658.6M271.5 597.3V644.8M273.5 605.8V648.3M275.5 604.7V653.4M276.5 652.9V657.3M279.5 647.3V662.7M281.5 649.1V662.7M283.5 646V664.3M285.5 645.7V664.3M287.5 648V664.1M288.5 663.5V695.1M290.5 647.2V695.1M292.5 649.4V656M293.5 644.8V696.7M295.5 649.1V696.7M296.5 650.1V696.8M298.5 611V696.8M299.5 647.5V651M300.5 650.5V696.8M304.5 649.2V697M308.5 648.4V696.2M309.5 657.6V696.8M312.5 670.7V696.3M313.5 650.4V696.7M316.5 650.5V695.6M317.5 647V658.3M319.5 650V696.5M323.5 650.9V696.9M325.5 665.2V696.9M326.5 650.3V665.7M327.5 647.5V679.6M328.5 679.1V693M330.5 661.5V693M331.5 645.9V665M332.5 664.5V697.1M334.5 693.5V697.1M336.5 649.2V695.8M338.5 651.9V697.1M342.5 659.5V695.1M343.5 655.6V694.7M347.5 648.5V696.9M354.5 672.5V696.5M356.5 667.5V696.4M358.5 690.4V696.3M362.5 647.8V695.5M363.5 649.1V696.6M365.5 666.4V696.6M366.5 658.6V697.1M368.5 667.7V697.1M370.5 649.8V695.2M371.5 647.5V697M379.5 649.9V696.7M380.5 643.5V668.5M383.5 649.4V696.9M385.5 672.9V696.9M387.5 643.5V694.8M388.5 648.6V657.3M390.5 646.2V695.7M395.5 687.3V695.2M396.5 647.9V697.1M398.5 689.7V697.1M399.5 647.4V696.9M401.5 668.8V696.9M403.5 648.5V696.8M408.5 664.9V697.1M409.5 659.5V695.1M411.5 658.4V696M419.5 647.7V696.8M423.5 678.7V695.1M424.5 648.4V696.6M426.5 688.8V696.6M428.5 653.5V696.4M429.5 647.8V697M435.5 677.3V696.9M436.5 682.4V696.8M439.5 650.3V696.5M441.5 647.6V666.2M442.5 653.8V696.4M444.5 647.4V696.4M450.5 648.4V693.4M452.5 650.1V653.9M454.5 646.4V653.9M457.5 648.4V668.1M459.5 649.7V668.1M460.5 593.8V696.5M463.5 643.2V696.9M465.5 650.7V694.4M467.5 647.8V694.4M468.5 649.1V668.9M470.5 650.7V668.9M472.5 648.5V661.7M473.5 661.2V695.1M477.5 648.2V695.2M478.5 648.7V661.6M480.5 651.2V661.6M482.5 598.5V655.4M483.5 618.5V662.9M484.5 662.4V666.9M486.5 651.4V666.9M487.5 640.8V697M489.5 648.9V697M490.5 663.6V696.7M494.5 686.8V696.3M495.5 648.2V687.3M501.5 647.2V653.6M502.5 653.1V663.8M504.5 653.7V663.8M505.5 649.7V654.2M506.5 652.6V696.8M508.5 642.8V696.8M509.5 645.9V663.4M511.5 649.3V663.4M513.5 648.2V658.9M514.5 650V660.7M515.5 660.2V696.1M517.5 668.8V696.1M518.5 649.7V669.3M519.5 648.1V662.9M522.5 649.8V660.5M523.5 648V681.1M525.5 652.5V696.3M527.5 689.9V696.3M529.5 660.9V694.3M530.5 644.1V661.4M532.5 648.1V656.3M534.5 646V649.9M535.5 649.4V661.2M537.5 646.5V695.3M542.5 665.2V696.4M543.5 648.8V696.8M545.5 653.4V696.8M547.5 665.4V694.8M549.5 648.5V696.9M551.5 660.2V696.9M552.5 647.6V694.9M555.5 646.6V696.7M556.5 645.5V668.1M558.5 647.6V668.1M559.5 654.8V659.9M560.5 659.4V696.7M564.5 653.3V695.7M565.5 648.3V656.1M567.5 649.7V656.1M568.5 649.1V696.4M570.5 691V696.4M580.5 649.2V696.8M581.5 649.1V659M582.5 658.5V668.8M583.5 668.3V696.7M586.5 659V695.2M587.5 646V659.5M589.5 647.3V692.8M590.5 692.3V696.6M593.5 644.5V696.4M594.5 647.3V662.9M595.5 662.4V668.9M597.5 648V696.8M600.5 693V696.8M601.5 646.2V693.5M602.5 649.8V662.3M604.5 641.4V665.1M606.5 648.9V665.1M609.5 643.5V647.3M610.5 643.7V655.1M612.5 646.6V696.8M615.5 649.7V695.8M617.5 648.5V659.7M618.5 648.3V657.5M620.5 646.7V657.5M621.5 643.7V647.4M623.5 648.3V658.2M625.5 649.7V658.2M626.5 646.4V696.5M629.5 666.1V695.7M630.5 659.2V666.6M631.5 651.8V659.7M633.5 646.8V696.2M635.5 649.8V696.2M637.5 665.8V674.8M638.5 649.9V666.3M639.5 649.7V659.2M641.5 646.1V659.2M643.5 646.1V652.5M645.5 647.3V652.5M646.5 652V666.9M648.5 650.1V666.9M649.5 646.1V650.6M652.5 646.5V662.7M654.5 645.5V662.7M656.5 644.5V695.4M658.5 648.8V695.4M659.5 692.3V696.4M665.5 650.3V695.8M667.5 649.7V656.5M668.5 644.3V650.2M671.5 645.7V693.1M674.5 644.5V694.5M677.5 645.5V649.6M678.5 648V696.2M683.5 666.3V696.2M684.5 653.1V666.8M686.5 647.4V656.4M688.5 644.3V696.2M690.5 645.4V696.2M691.5 661.3V665.5M693.5 646.9V665.5M695.5 649.6V660.9M698.5 648.2V654.6M700.5 645.8V654.6M701.5 649.5V657.2M703.5 649.2V667.5M705.5 654.9V667.5M706.5 647.3V655.9M707.5 655.4V694.9M713.5 662.2V695.4M716.5 660.8V696.2M718.5 651.9V696.1M727.5 665.4V695.5M729.5 665.9V695.3M730.5 646.2V666.4M731.5 644.8V695.6M735.5 658.9V696M736.5 648V675.9M738.5 647.4V675.9M739.5 648.1V695.5M741.5 664.2V695.5M742.5 646.3V664.7M744.5 647.2V662.9M745.5 647.7V666.4M747.5 654V666.4M748.5 648.2V695.5M751.5 645.7V693.1M754.5 645.7V658.5M756.5 643V658.5M757.5 646.1V656.8M759.5 650.4V661.6M761.5 646.6V668.3M763.5 648.7V668.3M764.5 648.5V694M776.5 667V695.6M777.5 654.5V691.7M779.5 649.9V695.7M781.5 649V695.7M783.5 654.7V667.5M784.5 642.9V655.2M785.5 653V658.6M786.5 658.1V663.4M787.5 662.9V667.6M789.5 656.3V694.5M791.5 658.8V694.5M792.5 645.3V659.3M794.5 641.7V661.7M796.5 647V661.7M797.5 644V695M799.5 646.6V695M800.5 641.9V655.4M802.5 646.2V655.4M803.5 645.5V659.5M805.5 641.3V692.4M807.5 668.8V692.4M808.5 645.6V669.3M810.5 645.2V649.4M811.5 648.9V663.9M813.5 645.8V663.9M814.5 591.2V646.3M815.5 596.6V659.8M817.5 646V659.8M820.5 645.7V653.5M823.5 596.6V663.6M825.5 656.6V667.7M827.5 652.7V667.7M828.5 656.9V694.9M831.5 658.5V694.8M832.5 646.1V659M834.5 610V650.1M838.5 605.5V656.7M840.5 642.7V656.7M842.5 645.6V655.5M850.5 644.9V654.9M852.5 644.1V654.9M853.5 648.5V660.3M855.5 597.4V660.3M857.5 601.1V613.4M858.5 596.6V657.2M860.5 611.4V657.2M861.5 597.2V611.9M865.5 595.7V644.5M866.5 644V654.5M867.5 654V661M869.5 648.7V661M870.5 643.5V649.2M871.5 603.1V644M872.5 591.6V668M874.5 605.5V668M875.5 646.2V654.4M877.5 613V654.4M878.5 591.9V657.3M880.5 600V657.3M881.5 596.9V662.6M883.5 647.8V662.6M884.5 605.6V662.2M886.5 647.3V662.2M887.5 646.1V668M889.5 595.7V668M891.5 648.1V659.6M893.5 647.1V659.1M895.5 595.6V659.1M896.5 606.6V667M898.5 662.1V667M899.5 615.6V662.6M900.5 656.2V667.9M902.5 662.6V667.9M903.5 616.7V663.1M904.5 596.3V617.2M905.5 596V648.2M906.5 647.7V665.3M908.5 645.9V665.3M909.5 601.8V646.4M911.5 598.7V613.7M912.5 597.2V611.5M913.5 611V615.8M915.5 596.7V649.6M918.5 648.5V656.2M919.5 655.7V664.9M921.5 651.3V664.9M922.5 595.1V651.8M923.5 644.4V648.7M925.5 647.5V661.5M926.5 661V667.4M928.5 644.5V667.4M930.5 595.3V648.2M931.5 602.5V646.1M933.5 641.5V648.2M935.5 642.9V648.2M936.5 599.7V646.5M937.5 646V652.9M939.5 650V668.7M941.5 663.7V668.7M942.5 643.7V664.2M943.5 645.3V652.3M944.5 651.8V656M946.5 646.2V665.6M948.5 597.1V665.6M949.5 607.4V649.3M952.5 646.3V655.9M954.5 649.8V657.1M956.5 596.7V695.2M958.5 643.6V695.2M959.5 615.6V644.4M961.5 645.8V660.3M963.5 642V660.3M964.5 595.4V648.2M966.5 649.4V662M967.5 661.5V668.7M969.5 644.2V668.7M970.5 596.1V644.7M972.5 604.2V652.9M974.5 644.7V655.4M977.5 595.8V655.6M979.5 644.8V654.2M980.5 595V662.2M982.5 643.8V662.2M984.5 645.8V654.7M986.5 646.3V666.5M988.5 644.6V666.5M990.5 596.5V651.4M991.5 646.6V653.2M993.5 646.2V653.2M994.5 641.9V647M995.5 646.5V664.4M997.5 642.8V664.4M998.5 596.9V644.7M1000.5 642.3V657.9M1002.5 645V657.9M1004.5 647.2V650.9M1007.5 646V650.9M1009.5 648V662M1012.5 643.6V660.8M1014.5 640.9V650.3M1015.5 645.2V662.3M1018.5 648.1V661.8M1019.5 648V651.7M1021.5 645.2V651.7M1022.5 595.1V694.7M1024.5 657.6V694.7M1025.5 596.8V661.7M1029.5 647.3V663.5M1031.5 595V663.5M1032.5 596.2V645M1033.5 644.5V648.1M1035.5 647.6V652.3M1037.5 648.2V652.3M1038.5 645.1V648.7M1039.5 647.6V655M1041.5 645.6V655M1042.5 643.9V660.7M1044.5 655.3V662.7M1046.5 594.9V662.7M1048.5 650.8V654.5M1050.5 645.6V665.4M1052.5 647.8V665.4M1054.5 612.9V667.1M1056.5 647V667.1M1057.5 594.8V647.5M1058.5 593.5V646M1062.5 595.4V644.8M1063.5 604.3V665.1M1064.5 664.6V692.8M1066.5 659.6V692.8M1067.5 644.4V660.1M1068.5 595.2V694.5M1071.5 666.4V692.6M1072.5 647.3V666.9M1073.5 605.4V653.6M1075.5 647.1V653.6M1077.5 645.8V652M1084.5 642.1V663.9M1086.5 649.6V663.9M1087.5 592.6V650.1M1089.5 607.3V640.6M1090.5 600.8V607.8M1091.5 603V610.9M1093.5 607.2V657.3M1096.5 647.3V656.8M1097.5 643.7V690.3M1099.5 647.3V690.3M1102.5 644.9V663.2M1104.5 645.1V663.2M1106.5 607.3V656.8M1110.5 642.2V660.3M1113.5 599.4V658.4M1114.5 607.2V645.8M1116.5 648V662.7M1118.5 595.7V662.7M1119.5 603.2V643.6M1120.5 643.1V651.8M1121.5 651.3V666.5M1123.5 647.1V693M1125.5 593.2V693M1126.5 610.4V644.9M1127.5 644.4V661.5M1129.5 606.5V661.5M1131.5 595.8V647.7M1132.5 647.2V664.2M1134.5 593V664.2M1135.5 642.7V663.3M1138.5 646.8V660.5M1141.5 646.1V663.6M1144.5 593.9V663.7M1148.5 639.6V644.8M1149.5 591.8V655.7M1151.5 645.8V655.7M1152.5 593.2V659.6M1154.5 646.5V659.6M1156.5 591.3V657.6M1158.5 594.6V653.6M1160.5 650.7V664M1162.5 655.7V664M1163.5 646.2V656.2M1164.5 642.5V646.7M1166.5 606.7V692.6M1168.5 591.6V692.6M1170.5 594.9V643M1172.5 605.6V611.3M1174.5 601.6V610.7M1176.5 589.6V602.1M1177.5 595.3V647.4M1179.5 644.7V661M1181.5 595.8V661M1183.5 593.9V642.1M1184.5 639.5V646M1189.5 607.8V649.8M1190.5 596.3V608.3M1191.5 595.2V611.5M1193.5 599.4V644.9M1195.5 646.3V655.3M1197.5 591.6V655.3M1199.5 594.7V646.5M1201.5 595V655.7M1203.5 644.6V655.7M1205.5 597.6V654.1M1206.5 644.8V648.9M1208.5 642.8V648.9M1209.5 642.7V653M1211.5 588.9V655.9M1213.5 594.2V666M1215.5 653V666M1216.5 640.4V653.5M1218.5 594.8V654.2M1220.5 648.3V654.2M1221.5 642.2V648.8M1222.5 594.2V642.7M1223.5 600.5V646.5M1224.5 646V656M1225.5 655.5V663M1227.5 594.2V663M1229.5 589V645.4M1237.5 641.8V645.6M1239.5 647.5V692.3M1241.5 663.9V692.3M1242.5 646.3V664.4M1244.5 642.1V653.4M1245.5 641.4V647.4M1246.5 646.9V653.7M1247.5 653.2V658.5M1249.5 642.7V658.5M1250.5 612.9V643.2M1251.5 602.1V613.4M1252.5 593.8V645.6M1255.5 645.1V660.4M1257.5 609.1V660.4M1259.5 639.4V648.5M1260.5 593.7V643M1262.5 643.1V648M1264.5 645.5V656.4M1266.5 645.6V656.4M1267.5 593.8V646.1M1268.5 593.3V642.7M1269.5 642.2V652M1270.5 651.5V655.6M1271.5 655.1V665.5M1273.5 644.9V665.5M1275.5 644.3V656M1277.5 611.5V654.9M1278.5 594.1V659.1M1280.5 593V659.1M1282.5 610.7V654.6M1284.5 645.5V654.6M1286.5 646.9V661.1M1288.5 642.1V661.1M1291.5 592V645.7M1292.5 645.2V659.8M1293.5 659.3V664.9M1295.5 645.6V664.9M1296.5 592.4V691.6M1298.5 643.2V691.6M1302.5 594.2V659.2M1304.5 642.9V659.2M1306.5 645.3V652M1308.5 589.6V648.2M1309.5 647.7V651.7M1311.5 596.8V652.5M1313.5 646.9V652.5M1314.5 651.6V662.3M1316.5 645.5V662.3M1320.5 641.9V649.7M1321.5 649.2V653.4M1323.5 595.6V653.4M1324.5 593.8V641.8M1326.5 641.6V662.4M1328.5 642.1V662.4M1333.5 591V690.8M1336.5 644.1V692.5M1338.5 644.4V661.5M1339.5 647V655M1341.5 591.5V655M1343.5 591.6V644.2M1346.5 591.2V652.8M1348.5 648.1V652.8M1349.5 640.2V648.6M1350.5 594.8V640.7M1352.5 589.4V645.4M1353.5 644.9V661.9M1355.5 646.9V661.9M1356.5 591.4V650.3M1357.5 649.8V662.3M1359.5 644.7V662.3M1360.5 639.2V645.2M1361.5 643.4V663.3M1363.5 655.7V663.3M1364.5 591.7V656.2M1365.5 602.7V643.4M1366.5 642.9V656.7M1369.5 641.9V665.2M1372.5 642.2V663.6M1374.5 651.4V655.3M1375.5 599.8V651.9M1378.5 644.9V654.7M1380.5 639.9V654.7M1381.5 644.8V662.9M1383.5 643.9V662.9M1385.5 642.7V655M1387.5 650.5V655M1388.5 592.4V658.5M1393.5 592.1V662M1395.5 606.5V652.6M1397.5 641.7V659.2M1399.5 643.9V659.2M1404.5 643.7V655.1M1406.5 645.3V655.1M1407.5 588.1V645.8M1408.5 591.9V642.1M1410.5 592.6V661.8M1412.5 647.6V661.8M1414.5 586.3V660M1415.5 641.5V660.5M1417.5 642.8V660.5M1419.5 607V644.4M1421.5 547V641.4M1423.5 593.5V644.2M1426.5 644.8V651.3M1428.5 592.7V651.3M1429.5 644.2V659.3M1431.5 644.8V659.3M1433.5 642.2V659.3M1435.5 591.7V659.3M1437.5 641.3V664.1M1439.5 645.1V664.1M1441.5 648.1V653.6M1442.5 652.4V664.8M1444.5 600.7V664.8M1445.5 642.3V690.5M1448.5 680.2V688M1449.5 608.6V680.7M1451.5 642.7V646.8M1452.5 641.1V663.5M1454.5 610.9V663.5M1456.5 602.6V653.9M1458.5 641.8V653.9M1459.5 591.5V663.1M1461.5 593.3V663.1M1462.5 642.2V658.4M1464.5 641.1V658.4M1466.5 594V646.8M1467.5 591.2V643.5M1468.5 643V690.1M1470.5 661.3V690.1M1471.5 643.6V661.8M1472.5 645V651.2M1474.5 646.9V651.2M1476.5 593.7V650.6M1478.5 594V643.2M1480.5 644.2V651.3M1482.5 640.2V651.3M1483.5 641.6V677.8M1485.5 592.6V677.8M1486.5 607.2V662.7M1488.5 593.3V662.7M1490.5 640.4V645.8" fill="none" stroke="#ff0000" stroke-width="1.0" stroke-opacity="0.6"/>
<path d="M88.5 786.4V876.3M89.5 830.6V929.8M90.5 838.4V928.4M91.5 838.4V934.8M92.5 843.2V929.3M93.5 843.2V928.7M94.5 844.5V928.8M95.5 844.5V929.5M96.5 844.5V928.6M97.5 840.9V878.5M98.5 840.9V929.3M99.5 834.7V835.6M100.5 826.2V928.5M101.5 826.2V928.4M102.5 825.6V930.3M103.5 825.5V929.5M104.5 825.5V928.4M105.5 779.8V931.4M106.5 839.6V930M107.5 839.6V928.3M108.5 839.6V878.8M109.5 791.1V929M110.5 875V931.7M111.5 875V928.4M112.5 875V928.6M113.5 839.9V877.3M114.5 839.9V928.3M115.5 826.4V929.7M116.5 835V876.6M117.5 835V928.7M118.5 835V929.3M119.5 825.7V928.3M120.5 825.7V928.4M121.5 830.9V930.7M122.5 830.9V929M123.5 831.1V928.3M124.5 831.1V928.7M125.5 831.1V929.7M126.5 792.1V930.4M127.5 831.8V928.4M128.5 831.8V929.2M129.5 830.5V831.4M130.5 794.2V930.1M131.5 794.2V929.9M132.5 825.9V929.2M133.5 825.9V929.1M134.5 825.9V930M135.5 826.4V928.4M136.5 826.4V931.9M137.5 825.9V929M138.5 846V929.1M139.5 846V928.9M140.5 846V928.4M141.5 845.7V928.5M142.5 896.6V929.8M143.5 896.6V931.4M144.5 896.6V928.8M145.5 842V929.3M146.5 873.9V930.4M147.5 873.9V928.5M148.5 873.9V930.5M149.5 840.8V928.6M150.5 839.7V879.4M151.5 839.7V929.6M152.5 827.1V929.6M153.5 827.1V929.3M154.5 836.4V928.6M155.5 836.4V932.5M156.5 839V928.6M157.5 839V930.9M158.5 831.8V933.4M159.5 831.8V878.5M160.5 831.8V928.9M161.5 835V930M162.5 835V930.5M163.5 835.3V929.4M164.5 835.3V929M165.5 827.6V932.5M166.5 827.9V929.6M167.5 827.9V930.2M168.5 833.4V929M169.5 833.4V931.1M170.5 839.4V928.6M171.5 839.4V929.7M172.5 839.4V930.7M173.5 837.7V928.7M174.5 837.7V931.5M175.5 827.4V932.6M176.5 827.4V929.8M177.5 827.5V929.9M178.5 827.5V928.6M179.5 827.4V928.7M180.5 824.7V928.8M181.5 826.1V929.8M182.5 875V929M183.5 889.6V890.5M184.5 900.2V930.3M185.5 900.2V932.4M186.5 891.8V930.1M187.5 846V930.2M188.5 846V879.5M189.5 842.2V930.6M190.5 842.2V929.2M191.5 793.2V931M192.5 789.7V930.9M193.5 826V928.9M194.5 840.8V929.9M195.5 840.8V930.4M196.5 840.8V929M197.5 825.4V930.4M198.5 827.4V928.9M199.5 827.4V929.5M200.5 827.4V930.1M201.5 788.9V930.6M202.5 788.9V929.8M203.5 780.1V930.2M204.5 827.3V928.9M205.5 827.3V876.5M206.5 826.6V929M207.5 875.2V929.3M208.5 875.2V930.9M209.5 875.2V929.1M210.5 841.2V929.2M211.5 841.2V929.1M212.5 841.2V930.2M213.5 873.2V929.6M214.5 873.2V929.2M215.5 873.2V929M216.5 871.3V929.9M217.5 875.7V929.2M218.5 875.7V931.6M219.5 874.2V929.5M220.5 874.2V930.8M221.5 825.9V928.9M222.5 825.1V929.1M223.5 826.4V930.8M224.5 826.4V930.1M225.5 827.8V929.2M226.5 827.8V876.7M227.5 839.9V931.3M228.5 870.8V931M229.5 870.8V929M230.5 870.8V931.2M231.5 845.6V878.7M232.5 839.1V930.5M233.5 839.1V929.2M234.5 841.4V930.5M235.5 841.4V931.6M236.5 835.8V929.1M237.5 835.8V930.4M238.5 827V930.5M239.5 834V929.2M240.5 834V930M241.5 833.7V931.1M242.5 902.1V929.6M243.5 902.1V931.5M244.5 902.1V930.2M245.5 836.7V931.3M246.5 834.6V929.4M247.5 834.6V929.1M248.5 829.2V929.3M249.5 831V878.5M250.5 841.6V929.3M251.5 841.6V929M252.5 841.6V929.1M253.5 836.8V930.2M254.5 842.4V932.9M255.5 842.4V929.3M256.5 893.6V894.5M257.5 904.6V930.3M258.5 904.6V930.1M259.5 875.1V929.7M260.5 827.3V878.2M261.5 827.3V929.4M262.5 828.1V930.5M263.5 843.3V930.8M264.5 843.3V931.2M265.5 843.3V932.1M266.5 829.7V929.9M267.5 875.4V929.2M268.5 892.8V930.9M269.5 885.2V886.1M270.5 892.8V930.1M271.5 876.2V929.4M272.5 874.9V931.1M273.5 874.8V931.3M274.5 874.8V932.1M275.5 831.9V929.7M276.5 831.9V931M277.5 831.9V934.2M278.5 840.6V881.4M279.5 840.6V930.8M280.5 840.6V881.8M281.5 838.5V929.8M282.5 838.5V929.8M283.5 833.9V930.9M284.5 828.8V930.3M285.5 828.8V932.5M286.5 876.3V930.8M287.5 876.3V934.7M288.5 876.3V933M289.5 905.5V930.7M290.5 918.8V930.7M291.5 918.8V931.2M292.5 918.8V930.2M293.5 918.8V931.7M294.5 918.8V931.4M295.5 875.6V930.7M296.5 907.4V931.9M297.5 918.5V933.6M298.5 918.5V933M299.5 918.5V930.5M300.5 898.1V931.3M301.5 907.2V931.2M302.5 907.2V931.1M303.5 907.2V930.8M304.5 903.2V931.4M305.5 905.6V931.7M306.5 905.6V931.6M307.5 905.6V931.8M308.5 901.3V931.8M309.5 894.8V931.7M310.5 874.9V931.8M311.5 876.4V936.7M312.5 876.7V932.3M313.5 876.7V931.1M314.5 877V932.4M315.5 886.6V931.7M316.5 919.8V931.8M317.5 919.8V932.2M318.5 919.9V931.4M319.5 917.9V931.4M320.5 919V931.3M321.5 919V932.6M322.5 918.3V931.4M323.5 917.5V932M324.5 919.2V932.1M325.5 918.8V933.4M326.5 919V931.7M327.5 919V933.9M328.5 906.6V932.5M329.5 919.5V932.8M330.5 919.5V932.5M331.5 920.1V933.6M332.5 920.1V936.6M333.5 917.5V931.9M334.5 918.6V932.3M335.5 920.3V932.1M336.5 920.1V934.1M337.5 918V933.2M338.5 919.5V932.3M339.5 919.3V932.1M340.5 919.3V932.7M341.5 917.6V932.5M342.5 920.5V932.7M343.5 920.5V934M344.5 918.2V932.4M345.5 920.4V932.8M346.5 917.7V934.6M347.5 917.7V933.5M348.5 904.7V934.6M349.5 904.7V931.9M350.5 904.7V933.8M351.5 920.4V932M352.5 920.4V932.1M353.5 919.3V932.6M354.5 920.2V932.4M355.5 920.4V932M356.5 919.2V932.6M357.5 919.2V932.9M358.5 920.5V932.6M359.5 920.5V932.4M360.5 920.4V932.2M361.5 920.4V932.7M362.5 919.8V932.4M363.5 920.6V932.9M364.5 920.6V932.2M365.5 920.7V934.8M366.5 920.7V932.1M367.5 895.1V932.2M368.5 919.8V932.7M369.5 919.8V934.4M370.5 920V932.9M371.5 920V936M372.5 893.4V932.5M373.5 885V933.2M374.5 892.8V933M375.5 920.6V935.5M376.5 920.6V932.6M377.5 920.6V933.1M378.5 902V938.5M379.5 902V933.6M380.5 877.7V935.1M381.5 920.4V933.9M382.5 920.4V934.9M383.5 920.7V933M384.5 917.9V933.3M385.5 917.9V932.5M386.5 896.8V933.1M387.5 920.9V932.5M388.5 920.9V933.2M389.5 921.1V932.6M390.5 921.1V934.2M391.5 921V937M392.5 920.2V932.5M393.5 919.7V932.9M394.5 920.7V933.5M395.5 920.2V936.1M396.5 919.3V932.9M397.5 921.2V932.9M398.5 918.6V932.8M399.5 920.4V933.7M400.5 921.3V932.7M401.5 921V932.9M402.5 921.1V934.4M403.5 920.7V932.9M404.5 921.1V933.1M405.5 918.8V933.3M406.5 920.2V932.7M407.5 921V934.2M408.5 921.1V933.4M409.5 921.1V933M410.5 921.1V933.6M411.5 918.2V933.1M412.5 918.2V933.6M413.5 919.9V933.4M414.5 921.1V933.8M415.5 921.5V936.3M416.5 921.4V932.9M417.5 919V933.9M418.5 920.1V935.4M419.5 921.3V933.6M420.5 921.1V932.8M421.5 920.4V934.2M422.5 918.5V935M423.5 920.8V935.1M424.5 920.4V933M425.5 921.5V934.4M426.5 919.3V933.8M427.5 921.2V933M428.5 921.2V933.8M429.5 920.3V935.2M430.5 921V935.9M431.5 921V933M432.5 920.8V933.2M433.5 920.8V933.8M434.5 919.6V933.2M435.5 920.5V933.1M436.5 920.5V933.4M437.5 920.5V933.3M438.5 921V934.4M439.5 921V933.2M440.5 921V933.2M441.5 878.5V933.7M442.5 879V934.7M443.5 879.6V933.8M444.5 921.4V933.8M445.5 921.4V933.2M446.5 919.7V934.4M447.5 918.7V933.8M448.5 920.1V936.3M449.5 920.1V939.1M450.5 920.1V934M451.5 921.5V935M452.5 921.5V935.2M453.5 903.8V934.6M454.5 903.8V935M455.5 879.5V934.2M456.5 911V933.8M457.5 911V934.5M458.5 911V934.3M459.5 921.1V934M460.5 921.1V933.7M461.5 920.1V933.5M462.5 920.1V936.5M463.5 906.1V933.7M464.5 906.1V935.4M465.5 879.3V939.1M466.5 879.3V933.8M467.5 905.8V934M468.5 905.8V935M469.5 905.8V935.6M470.5 920.1V934.6M471.5 920.1V933.6M472.5 920.1V933.6M473.5 903.3V934.4M474.5 920.8V933.6M475.5 920.8V935.2M476.5 920.3V934.2M477.5 920.3V935.4M478.5 884.6V934.1M479.5 891.8V934.2M480.5 922.2V934.8M481.5 922.2V934.9M482.5 922.2V935.3M483.5 920.4V934.2M484.5 922.2V933.8M485.5 922.2V934.7M486.5 922.2V935.4M487.5 900.6V935.7M488.5 900.6V934.9M489.5 900.6V935.6M490.5 877.8V934.1M491.5 922.2V933.8M492.5 922.2V934M493.5 922.4V933.9M494.5 922.4V934.8M495.5 922.4V935.2M496.5 899.2V934.3M497.5 922.1V934.1M498.5 922.1V937.8M499.5 922.5V936.1M500.5 921.7V935.1M501.5 921.8V934.5M502.5 921.8V935.2M503.5 912.9V934.1M504.5 890V934.4M505.5 906V935.1M506.5 922V934.5M507.5 922V934.4M508.5 922.7V934.1M509.5 921.4V936.9M510.5 921.9V937.2M511.5 922.7V934.3M512.5 922.7V934.2M513.5 921.3V934.6M514.5 921.9V934.4M515.5 921.9V935.5M516.5 921.9V935M517.5 909.2V935.2M518.5 920.7V934.7M519.5 920.7V936.3M520.5 922.8V934.7M521.5 922.2V934.5M522.5 922.9V935.3M523.5 920.4V935.3M524.5 922.9V936M525.5 921.9V936.2M526.5 922.5V935.2M527.5 922.8V937.2M528.5 921.7V934.7M529.5 921.7V936.2M530.5 910.4V934.7M531.5 921.9V935.6M532.5 921.9V934.5M533.5 921.4V934.5M534.5 919.1V936.6M535.5 921.7V934.6M536.5 921.7V934.8M537.5 923.2V934.6M538.5 923.2V935.4M539.5 923.1V935.6M540.5 923.1V934.6M541.5 921.2V935.6M542.5 923V935.7M543.5 922.3V936.2M544.5 922.3V934.8M545.5 923.1V935.4M546.5 923.1V935.6M547.5 923.1V935.5M548.5 922.5V934.8M549.5 922.5V934.8M550.5 923.1V935.2M551.5 923.1V936.8M552.5 906.4V936.7M553.5 923.1V935.4M554.5 923.1V935.7M555.5 922.7V937.3M556.5 923.4V935.8M557.5 921.4V938.2M558.5 923.2V935.9M559.5 922.6V934.7M560.5 922.6V936.2M561.5 919.4V936.1M562.5 919.4V935.2M563.5 922.5V935.2M564.5 922.5V936.6M565.5 921.7V938.6M566.5 922V935.2M567.5 923.3V938.3M568.5 923.3V934.7M569.5 923.1V935.1M570.5 923.5V935.8M571.5 923.5V935.2M572.5 923V935.3M573.5 923V935.5M574.5 920.8V934.8M575.5 920.8V938.4M576.5 921.4V935.8M577.5 923.4V935.9M578.5 922V936.9M579.5 923.3V935.1M580.5 922.8V934.9M581.5 923.2V934.9M582.5 923.2V935.4M583.5 921.4V936.1M584.5 923.5V934.9M585.5 921V935.4M586.5 923.5V938.1M587.5 923.3V935.5M588.5 923.3V935.3M589.5 910.5V935.2M590.5 921.8V935.4M591.5 921.8V935M592.5 921.8V936.9M593.5 899.7V937.3M594.5 919.8V935.8M595.5 919.8V935.4M596.5 921.4V936.4M597.5 922.2V937.8M598.5 922.2V935.1M599.5 922.2V935.9M600.5 921.5V935.9M601.5 923.5V935.1M602.5 923.5V936.4M603.5 923.1V935.1M604.5 923.1V935.3M605.5 923.1V935.6M606.5 909.2V936.4M607.5 922.7V935.4M608.5 922.7V935.5M609.5 923.4V935.1M610.5 921.2V935.2M611.5 923.6V936.8M612.5 923.6V935.2M613.5 923.5V935.5M614.5 923.3V935.4M615.5 923.3V936.8M616.5 922.4V935.3M617.5 922.4V938.5M618.5 922.4V935.1M619.5 920.1V935.5M620.5 922V935.7M621.5 923.8V935.6M622.5 923.8V935.2M623.5 919.7V935.3M624.5 906.3V937.2M625.5 906.3V937.2M626.5 894.6V936.1M627.5 923.3V936.2M628.5 923.3V935.7M629.5 923.3V935.3M630.5 923.7V936.3M631.5 923.7V935.2M632.5 923.7V936.1M633.5 921.1V936M634.5 921.1V936.3M635.5 921.6V935.5M636.5 923.7V942.9M637.5 923.7V938.2M638.5 923.7V936.8M639.5 893.1V936M640.5 923.9V936M641.5 923.9V936.6M642.5 923.9V936.2M643.5 923.5V936.3M644.5 923.3V935.5M645.5 923.2V939.8M646.5 923.2V937.3M647.5 923.2V935.5M648.5 922.3V935.5M649.5 922.3V935.5M650.5 922.7V935.5M651.5 922.7V935.9M652.5 923.3V936M653.5 923.8V936.6M654.5 923.6V935.7M655.5 924.1V938M656.5 921.8V936.2M657.5 921.8V935.5M658.5 923.9V935.5M659.5 923.9V938.1M660.5 923.5V936.1M661.5 923.5V936.1M662.5 909.5V935.6M663.5 906.5V937M664.5 906.5V936.9M665.5 881.6V937.4M666.5 846.5V937.3M667.5 881.6V936M668.5 924V936.4M669.5 924V937.9M670.5 922.3V939.1M671.5 923V936.1M672.5 923V936.8M673.5 923V936M674.5 895V936.4M675.5 895V936M676.5 881V936.9M677.5 886.2V935.9M678.5 923.4V936.7M679.5 923.4V935.7M680.5 923.8V936M681.5 922.1V936.2M682.5 924.2V937.1M683.5 924.2V935.9M684.5 885.6V936.3M685.5 881.6V936.7M686.5 879.5V936.1M687.5 922.5V936.4M688.5 922.5V935.5M689.5 922.5V936.8M690.5 900.4V936.8M691.5 924V936.9M692.5 924V938.1M693.5 923.9V936.6M694.5 924.2V935.8M695.5 924.2V935.7M696.5 882V939.1M697.5 880V935.7M698.5 887.7V936.5M699.5 887.7V936.4M700.5 923.6V936.1M701.5 923.6V940.1M702.5 924.2V936.5M703.5 924.2V936.7M704.5 923.9V938.1M705.5 924.4V935.6M706.5 923.1V936.4M707.5 923.1V936.8M708.5 924.1V938.2M709.5 924.1V936.1M710.5 924.1V935.7M711.5 924.2V936.8M712.5 924.2V936.8M713.5 924.2V938.3M714.5 922.6V936.7M715.5 922.6V935.8M716.5 924V936.4M717.5 924V936.2M718.5 921.6V938.2M719.5 921.6V938.5M720.5 910.4V938.1M721.5 924V938.5M722.5 924V936.4M723.5 924V935.7M724.5 923.5V936.6M725.5 924.3V942.4M726.5 924.3V936.1M727.5 923.5V938.6M728.5 923.4V935.6M729.5 924V935.7M730.5 924V936.9M731.5 924V937.3M732.5 912.1V938M733.5 924V938.5M734.5 924V936.3M735.5 924V936.1M736.5 892.9V935.8M737.5 923.8V937.8M738.5 923.8V935.7M739.5 921.7V937.4M740.5 922.8V936.1M741.5 922.8V936M742.5 903.7V937.6M743.5 921.8V936M744.5 921.8V936.2M745.5 921.8V935.9M746.5 923.7V936.1M747.5 923.7V936.4M748.5 920.8V936.7M749.5 920.8V935.8M750.5 916.2V936.3M751.5 922.9V935.7M752.5 922.9V937.7M753.5 924.2V937.4M754.5 923.5V939.3M755.5 923.8V939M756.5 923.8V937.8M757.5 923.9V936.3M758.5 923.9V936M759.5 924.3V937.3M760.5 924.3V937.6M761.5 922.6V936.2M762.5 922.6V936.1M763.5 923.7V936.1M764.5 924.3V937.3M765.5 924.3V935.7M766.5 923.4V937.3M767.5 923.4V937.1M768.5 923.3V936.6M769.5 923.3V937M770.5 923.3V936.1M771.5 904.4V937.8M772.5 923.1V936.6M773.5 923.1V936.1M774.5 920.7V935.9M775.5 923.4V936.2M776.5 922.7V936.2M777.5 922.7V938.1M778.5 923.2V935.9M779.5 923.2V936.1M780.5 923.2V936.5M781.5 924.3V935.7M782.5 924.3V937.2M783.5 924.3V937.4M784.5 924.1V939.3M785.5 924.1V935.9M786.5 922.5V936.2M787.5 922.5V935.6M788.5 923.2V935.6M789.5 923.2V936.8M790.5 923.8V936.1M791.5 923.8V938.6M792.5 922.2V936.3M793.5 922.2V937M794.5 908.9V936.9M795.5 908.9V935.9M796.5 907.6V935.8M797.5 907.6V938.3M798.5 907.6V935.8M799.5 903.6V937.6M800.5 923.7V940.5M801.5 923.7V935.9M802.5 923.7V936.3M803.5 923.7V936.5M804.5 923.7V936.5M805.5 897.3V937.6M806.5 923.2V936.1M807.5 923.2V937.5M808.5 923.6V936M809.5 923.6V937.8M810.5 923.6V938.5M811.5 923V936.1M812.5 923V936.8M813.5 911.2V936.3M814.5 911.2V937.1M815.5 911.2V935.6M816.5 923.1V935.8M817.5 923.1V936.3M818.5 923.6V936.5M819.5 923.6V936.2M820.5 922.6V937.6M821.5 924V936.6M822.5 922.8V937M823.5 922.8V936.3M824.5 889.4V936.3M825.5 909.2V936.3M826.5 923.7V935.9M827.5 923.7V935.9M828.5 923.8V935.9M829.5 923.8V940.1M830.5 902.3V936.4M831.5 908.7V935.8M832.5 908.7V936.3M833.5 924.4V936.7M834.5 924.4V940M835.5 924.4V935.9M836.5 896.8V936.7M837.5 895.9V936.9M838.5 901.1V936.6M839.5 901.1V935.9M840.5 901.1V935.9M841.5 906.2V936.9M842.5 906.2V938.3M843.5 906.2V935.6M844.5 903.4V938.6M845.5 904.9V939.8M846.5 904.9V935.8M847.5 912.8V936.5M848.5 912.8V935.7M849.5 912.8V935.7M850.5 893.6V937M851.5 893.6V937.5M852.5 904.6V936.3M853.5 904.6V935.8M854.5 904.6V936.1M855.5 885.2V935.6M856.5 880.4V938.6M857.5 882.4V941.2M858.5 922.7V938M859.5 922.7V937.1M860.5 922.9V938.2M861.5 922.9V939.6M862.5 922.9V936.1M863.5 903.6V938.3M864.5 903.6V937.4M865.5 903.6V935.7M866.5 882.5V937.1M867.5 880.8V935.7M868.5 881.4V936.1M869.5 923.8V936.4M870.5 923.8V935.6M871.5 924V936.1M872.5 923.9V935.8M873.5 923.9V937M874.5 882.4V937.4M875.5 906.5V936.9M876.5 906.5V936.9M877.5 906.5V937.8M878.5 893.1V936.3M879.5 893.1V935.7M880.5 893.1V937.6M881.5 881V936.2M882.5 888V939.2M883.5 923.6V936.1M884.5 923.6V936.8M885.5 923.6V936.1M886.5 882.4V936.1M887.5 917.5V935.7M888.5 923.5V938.4M889.5 923.5V935.8M890.5 920.8V936M891.5 920.8V936.2M892.5 910V937.1M893.5 908.5V935.8M894.5 908.5V938.5M895.5 909.8V937.4M896.5 922.8V935.6M897.5 922.8V936M898.5 924.1V935.8M899.5 924.1V936.4M900.5 924.1V937.1M901.5 917.9V936M902.5 922.2V935.7M903.5 922.2V939M904.5 922.2V936.9M905.5 923V936.9M906.5 923V935.6M907.5 923V938M908.5 911.5V936.9M909.5 911.5V937.7M910.5 881.3V936.2M911.5 890.2V935.6M912.5 890.2V935.7M913.5 890.2V937.5M914.5 882.4V935.7M915.5 894.6V937.8M916.5 908.4V936.4M917.5 908.4V935.7M918.5 908.4V936.7M919.5 907.9V935.9M920.5 907.9V936.9M921.5 907.9V936.9M922.5 901.1V935.9M923.5 924.2V935.8M924.5 924.2V936.1M925.5 923.4V936.5M926.5 923.6V937.5M927.5 923.6V937M928.5 907.2V936.1M929.5 907.2V936.5M930.5 907.2V935.9M931.5 895.5V937.1M932.5 895.5V937.3M933.5 895.5V936.4M934.5 881.3V938.3M935.5 910.1V936.4M936.5 910.1V935.8M937.5 910.1V936.6M938.5 901.9V936M939.5 901.9V936.4M940.5 882.5V935.6M941.5 887V936.7M942.5 891.3V936.5M943.5 891.3V936.1M944.5 891.3V935.7M945.5 884.4V937.9M946.5 910.3V935.8M947.5 910.3V935.9M948.5 910.3V936.1M949.5 914.7V936.4M950.5 923.9V936.3M951.5 923.9V935.7M952.5 922.5V937.4M953.5 922.5V940.2M954.5 906V935.7M955.5 906V938.5M956.5 904.9V936.9M957.5 905.8V936M958.5 905.8V937.4M959.5 881.6V936M960.5 881.1V935.8M961.5 898.7V936.5M962.5 898.7V935.9M963.5 898.7V939M964.5 831.6V935.6M965.5 881.7V936.8M966.5 881.7V935.7M967.5 890.9V936.8M968.5 889.1V890M969.5 889.3V890.2M970.5 896.1V938.8M971.5 881V935.4M972.5 888.6V938.2M973.5 888.6V935.5M974.5 888.6V935.7M975.5 920V935.5M976.5 923.6V936.8M977.5 923.6V936.7M978.5 923.6V938.4M979.5 882.8V937.6M980.5 882.8V937M981.5 881V936.6M982.5 899V935.3M983.5 903.6V935.9M984.5 903.6V936.4M985.5 903.6V937M986.5 922.6V938.2M987.5 922.6V934.9M988.5 923.6V935.5M989.5 923.6V935.1M990.5 885.3V937.8M991.5 921.2V938.5M992.5 921.2V935.8M993.5 923.4V934.9M994.5 922.7V938.6M995.5 922.7V935.1M996.5 898.3V935M997.5 898.3V936.8M998.5 898.3V937.1M999.5 881.4V935.4M1000.5 839.9V934.9M1001.5 839.9V934.6M1002.5 908V936.5M1003.5 908V935.3M1004.5 908V935.9M1005.5 889.8V890.7M1006.5 907.3V938.1M1007.5 895.5V896.4M1008.5 907.3V939.4M1009.5 879V935.4M1010.5 880.3V934.9M1011.5 889V934.9M1012.5 889V934.5M1013.5 886.5V887.4M1014.5 891.4V936.3M1015.5 883.6V934.4M1016.5 883.6V934.9M1017.5 883.6V935.7M1018.5 880.2V885.3M1019.5 880.2V934.4M1020.5 878.8V934.7M1021.5 880.1V937M1022.5 880.1V934.6M1023.5 878.6V934.7M1024.5 883.2V937.6M1025.5 883.2V934.8M1026.5 883.2V937.6M1027.5 878.8V936.3M1028.5 890.5V934.1M1029.5 890.5V935.5M1030.5 890.5V934.5M1031.5 921.6V934.1M1032.5 921.6V935M1033.5 921.6V935.8M1034.5 895.9V896.8M1035.5 908.8V934.1M1036.5 908.4V935.2M1037.5 908.4V935M1038.5 897.2V934.4M1039.5 897.2V936.4M1040.5 878.4V933.8M1041.5 921.8V933.8M1042.5 921.8V934.2M1043.5 921.8V933.8M1044.5 898.2V934.4M1045.5 886.2V933.8M1046.5 845.5V934.4M1047.5 832.5V935.7M1048.5 846.4V936.3M1049.5 846.4V935.2M1050.5 846.4V935.3M1051.5 837.2V934.4M1052.5 898.2V935.6M1053.5 898.2V933.9M1054.5 895.6V896.5M1055.5 907.1V934M1056.5 907.1V934.5M1057.5 920.8V933.9M1058.5 920.8V934.6M1059.5 920.8V935.2M1060.5 920.8V933.5M1061.5 895.1V933.4M1062.5 895.1V935.5M1063.5 901V901.9M1064.5 921.1V934.9M1065.5 921.1V933.3M1066.5 889.9V933.4M1067.5 889.2V933.6M1068.5 895.1V933.8M1069.5 895.1V933.4M1070.5 895.1V936.4M1071.5 898.9V933.6M1072.5 898.9V936.2M1073.5 898.9V934.8M1074.5 893.6V933.3M1075.5 893.6V933.8M1076.5 893.6V936.1M1077.5 877.2V933.5M1078.5 900.1V901M1079.5 921.1V933.5M1080.5 921.1V933.8M1081.5 903.9V933.1M1082.5 896.4V933M1083.5 896.4V933.4M1084.5 896.4V934.7M1085.5 878.9V933.1M1086.5 878.6V933.6M1087.5 878.5V932.9M1088.5 878.5V934M1089.5 921.5V933.3M1090.5 921.5V934M1091.5 921.5V933.4M1092.5 919.9V933.3M1093.5 920.1V933.4M1094.5 920.1V937.9M1095.5 879.3V933M1096.5 846.6V932.8M1097.5 846.6V932.7M1098.5 843V932.6M1099.5 845.4V933.9M1100.5 895.9V932.9M1101.5 895.9V933.3M1102.5 895.9V936.4M1103.5 844.4V879.7M1104.5 844.4V933.6M1105.5 831.4V933M1106.5 906.5V932.8M1107.5 906.5V932.8M1108.5 906.5V933M1109.5 878.4V933.2M1110.5 898.2V933.6M1111.5 890.2V891.1M1112.5 898.2V933.6M1113.5 918.9V935.8M1114.5 918.9V934M1115.5 899.8V900.7M1116.5 905.9V935.5M1117.5 905.9V933.4M1118.5 893.5V894.4M1119.5 887.5V934M1120.5 884.6V935M1121.5 884.6V932.4M1122.5 847.9V932.9M1123.5 920.4V933.4M1124.5 920.4V933.5M1125.5 918.4V932.1M1126.5 918.4V932M1127.5 875.5V937M1128.5 886.3V887.2M1129.5 891V933.5M1130.5 891V932.4M1131.5 849.2V932.3M1132.5 877.7V932.3M1133.5 877.7V880.8M1134.5 902.5V933.5M1135.5 902.5V932.2M1136.5 902.5V932.7M1137.5 885.8V931.7M1138.5 876.6V880.7M1139.5 876.3V934.4M1140.5 895.4V933.2M1141.5 895.4V934.8M1142.5 887.1V888M1143.5 891.5V932.8M1144.5 891.5V931.6M1145.5 891.5V933.2M1146.5 875.8V931.9M1147.5 876.3V931.7M1148.5 874.4V932.3M1149.5 894.1V931.5M1150.5 901.2V932.4M1151.5 901.2V933.6M1152.5 901.5V933.2M1153.5 901.5V933.1M1154.5 901.5V931.6M1155.5 876.3V931.4M1156.5 874.5V932.2M1157.5 877.9V931.4M1158.5 885.8V886.7M1159.5 891.5V935.8M1160.5 891V931.2M1161.5 891V931.5M1162.5 884.5V885.4M1163.5 845.2V931.4M1164.5 845.2V931.4M1165.5 837.8V931.5M1166.5 800.5V931.3M1167.5 828.9V933.2M1168.5 828.9V933.9M1169.5 844.6V931.7M1170.5 844.6V932.1M1171.5 844.6V930.8M1172.5 836V931.1M1173.5 836V932.6M1174.5 828.9V933.2M1175.5 828.9V932.5M1176.5 785.9V930.8M1177.5 829.1V930.9M1178.5 829.1V931.3M1179.5 827.2V930.8M1180.5 847.2V932.2M1181.5 847.2V932.6M1182.5 847.2V930.9M1183.5 890.4V930.7M1184.5 905.6V930.8M1185.5 905.6V931M1186.5 907.6V932.6M1187.5 907.6V930.5M1188.5 872.7V931.2M1189.5 828.8V932.2M1190.5 828.8V930.8M1191.5 827.7V932.2M1192.5 837.1V881.9M1193.5 837.1V933M1194.5 878.3V879.2M1195.5 878.8V931.9M1196.5 878.8V930.8M1197.5 792.1V931.2M1198.5 792.1V879.8M1199.5 828.4V930.1M1200.5 828.4V930.9M1201.5 828.2V930.4M1202.5 832.7V930.5M1203.5 832.7V930.1M1204.5 832.7V930.2M1205.5 828.6V932.4M1206.5 828.6V930.7M1207.5 829.1V877.6M1208.5 846.6V930.1M1209.5 846.6V930.6M1210.5 874.7V930.3M1211.5 874.7V931.1M1212.5 875.9V931.8M1213.5 875.9V930M1214.5 828.1V930.6M1215.5 828.4V931.3M1216.5 834.9V930.1M1217.5 834.9V930.1M1218.5 834.9V931.9M1219.5 842.6V930.8M1220.5 842.6V930M1221.5 842.6V933M1222.5 828.2V931.8M1223.5 828.9V930.6M1224.5 828.9V931.8M1225.5 826.6V930.1M1226.5 827.4V930.4M1227.5 828.4V930.7M1228.5 841.3V931.1M1229.5 841.3V930.2M1230.5 841.3V930.4M1231.5 835.5V932.5M1232.5 835.5V930M1233.5 828.7V930.2M1234.5 829V930.1M1235.5 876V879.6M1236.5 897.1V930.9M1237.5 897.1V930.9M1238.5 897.1V929.8M1239.5 875.1V933M1240.5 875.1V932.2M1241.5 844.1V930.6M1242.5 844.1V930.7M1243.5 844.1V929.7M1244.5 836V930.2M1245.5 836V929.8M1246.5 891.1V930.3M1247.5 891.1V931.2M1248.5 891.1V930.1M1249.5 875.9V930M1250.5 875.7V879.4M1251.5 903.1V930.5M1252.5 903.1V929.7M1253.5 903.1V929.6M1254.5 895V932M1255.5 895V930.6M1256.5 893V929.7M1257.5 893V930.4M1258.5 828.3V931.4M1259.5 835.3V930.7M1260.5 835.3V930.5M1261.5 835.3V929.6M1262.5 831.6V929.8M1263.5 835.6V931.5M1264.5 875.8V929.8M1265.5 884.1V931.4M1266.5 884.1V931.8M1267.5 880.2V881.1M1268.5 873.4V931.8M1269.5 846.1V929.5M1270.5 841.8V929.5M1271.5 841.8V931.6M1272.5 875.9V929.6M1273.5 875.9V930.5M1274.5 875.9V880.8M1275.5 841.3V930.9M1276.5 837.8V930.2M1277.5 875.1V930M1278.5 875.1V930.7M1279.5 906.1V930.7M1280.5 906.1V933.1M1281.5 906.1V930.5M1282.5 794.7V930.4M1283.5 794.7V929.9M1284.5 897.4V929.2M1285.5 897.4V929.9M1286.5 897.4V929.4M1287.5 891.1V930M1288.5 891.1V929.7M1289.5 891.1V932.3M1290.5 827.2V929.2M1291.5 830.4V931.3M1292.5 830.4V929.2M1293.5 830.4V931.7M1294.5 826.3V929.9M1295.5 833.3V931.1M1296.5 833.3V929.8M1297.5 833.3V934.4M1298.5 831.9V929.9M1299.5 897.8V929.7M1300.5 897.8V930.1M1301.5 897.8V933.8M1302.5 879V929.4M1303.5 879V929.9M1304.5 888.4V931M1305.5 882.7V883.6M1306.5 888.4V930.6M1307.5 842.1V929M1308.5 836.4V932.7M1309.5 825.5V930.9M1310.5 825.5V929.4M1311.5 871.3V878.7M1312.5 871.3V930.5M1313.5 888.3V929M1314.5 902.5V929M1315.5 902.5V929.2M1316.5 902.5V931M1317.5 841.4V931.5M1318.5 888.7V889.6M1319.5 888V888.9M1320.5 899.3V930M1321.5 837.9V930.7M1322.5 843.3V930M1323.5 843.3V930.9M1324.5 843.3V879M1325.5 839V929.9M1326.5 839V876.5M1327.5 842.5V876.5M1328.5 842.5V928.8M1329.5 842.6V929.4M1330.5 842.6V876.2M1331.5 842.6V876.9M1332.5 829.9V929.6M1333.5 829.9V929M1334.5 829.8V934.1M1335.5 831.7V875.9M1336.5 829.3V928.9M1337.5 827.7V929.6M1338.5 836.9V930.7M1339.5 844.8V931.3M1340.5 844.8V928.8M1341.5 844.8V929.8M1342.5 828V880.2M1343.5 827.3V928.9M1344.5 837.5V928.9M1345.5 837.5V930.4M1346.5 841V876M1347.5 841V931.9M1348.5 841V930.4M1349.5 834.1V930.6M1350.5 834.1V876.1M1351.5 831.6V928.9M1352.5 842.3V928.8M1353.5 842.3V928.9M1354.5 842.3V929.7M1355.5 833.7V876.4M1356.5 833.7V931.2M1357.5 829.6V928.8M1358.5 841.2V929M1359.5 841.2V929.1M1360.5 841.2V929.4M1361.5 827.2V929.2M1362.5 827.2V931M1363.5 826.4V929.1M1364.5 830.8V931.6M1365.5 837.3V929.4M1366.5 837.3V935.1M1367.5 842.7V930.5M1368.5 842.7V929.3M1369.5 842.7V878M1370.5 836.5V928.5M1371.5 836.5V928.8M1372.5 836.5V928.7M1373.5 779.9V929.7M1374.5 784.3V878.8M1375.5 789.9V928.8M1376.5 789.9V928.6M1377.5 789.9V930.8M1378.5 795.7V928.9M1379.5 795.7V929.2M1380.5 795.7V875.7M1381.5 786.7V929.7M1382.5 777.8V928.6M1383.5 777.4V876.2M1384.5 778.6V929.3M1385.5 779.3V928.7M1386.5 780V928.8M1387.5 791.4V928.3M1388.5 791.4V928.4M1389.5 791.4V931.1M1390.5 786V929.2M1391.5 786V876.9M1392.5 779.5V930.8M1393.5 793.7V878.7M1394.5 793.7V928.5M1395.5 793.7V928.1M1396.5 782.2V828.3M1397.5 782.2V930M1398.5 779.2V876.1M1399.5 778.8V930.7M1400.5 778.8V931.7M1401.5 794V930M1402.5 797.1V929M1403.5 797.1V875.8M1404.5 797.1V877.2M1405.5 783.2V928.1M1406.5 786.3V931.5M1407.5 786.3V929.7M1408.5 786.3V930.2M1409.5 781.3V928.4M1410.5 783.9V877.4M1411.5 788.2V874.9M1412.5 788.2V928.9M1413.5 788.2V929.5M1414.5 778.3V928.4M1415.5 781.8V928.1M1416.5 785V878.3M1417.5 792.3V928.1M1418.5 792.3V929M1419.5 792.3V827.8M1420.5 791.9V875.1M1421.5 789.6V880M1422.5 789.6V876.9M1423.5 779.6V928.8M1424.5 781.5V875.6M1425.5 790.4V875M1426.5 790.4V927.9M1427.5 790.4V876.5M1428.5 828.4V928.5M1429.5 828.4V875.6M1430.5 828.4V880.8M1431.5 787.2V932M1432.5 787.2V927.7M1433.5 777.2V879.1M1434.5 778.9V875.3M1435.5 796V876.8M1436.5 796V931.4M1437.5 796V828.1M1438.5 795.6V928.8M1439.5 795.6V876.1M1440.5 795.6V928.6M1441.5 793.8V830.3M1442.5 793.8V928.3M1443.5 793.8V928.7M1444.5 779.6V827.7M1445.5 779.6V929.4M1446.5 779.1V876.2M1447.5 778.4V875.2M1448.5 778.9V928.9M1449.5 778.9V874.7M1450.5 775.9V877.9M1451.5 788.4V928.5M1452.5 794.5V877.6M1453.5 794.5V931M1454.5 794.5V928.2M1455.5 782.6V929.3M1456.5 782.6V877.4M1457.5 783.6V876.3M1458.5 794.8V927.7M1459.5 794.8V878.1M1460.5 795.6V928.5M1461.5 795.6V827.2M1462.5 795.6V928M1463.5 778.8V930.1M1464.5 789.3V874.4M1465.5 789.3V876.4M1466.5 790.6V876.6M1467.5 790.6V928.7M1468.5 790.6V927.4M1469.5 786.5V927.3M1470.5 779.3V928.1M1471.5 777V829.2M1472.5 778.7V876M1473.5 779V875.3M1474.5 777.9V880.2M1475.5 788.5V879.2M1476.5 791.7V929M1477.5 791.7V931.4M1478.5 791.7V927.4M1479.5 791.5V927.6M1480.5 791.5V927.4M1481.5 791.5V928.4M1482.5 775.9V879.1M1483.5 781.7V874.6M1484.5 781.7V876.7M1485.5 783.4V829M1486.5 783.4V927.5M1487.5 796.4V879.3M1488.5 796.4V834.9M1489.5 796.4V929.5M1490.5 777V929.4M1491.5 776.6V928.3" fill="none" stroke="#0000ff" stroke-width="1.0"/>
<path d="M88.5 779.8V786.9M89.5 786.4V831.1M90.5 830.6V838.9M92.5 783.4V843.7M94.5 825.7V845M96.5 827.1V845M97.5 827.5V841.4M99.5 779.7V841.4M100.5 779V826.7M104.5 777.2V826M106.5 778.1V840.1M108.5 779.3V840.1M110.5 776.3V875.5M112.5 796.6V875.5M114.5 780V840.4M115.5 776.2V826.9M116.5 826.4V835.5M118.5 780V835.5M119.5 796.2V826.2M121.5 826V831.4M123.5 827.4V831.6M125.5 779.7V831.6M127.5 779.2V832.3M129.5 796.8V832.3M131.5 779.2V794.7M132.5 785.1V826.4M134.5 776.7V826.4M135.5 797.6V826.9M138.5 791.5V846.5M140.5 826.7V846.5M142.5 827.5V897.1M144.5 842V897.1M145.5 825.8V842.5M146.5 831.6V874.4M148.5 838.5V874.4M151.5 780V840.2M152.5 779.4V827.6M154.5 796.8V836.9M157.5 824.9V839.5M158.5 825.9V832.3M160.5 825.8V832.3M161.5 826V835.5M164.5 827.1V835.8M167.5 822.7V828.4M168.5 825.6V833.9M170.5 825.9V839.9M172.5 824.2V839.9M174.5 826.4V838.2M176.5 778V827.9M177.5 777.4V828M182.5 796.5V875.5M183.5 875V900.7M185.5 891.8V900.7M186.5 839.8V892.3M188.5 825.8V846.5M190.5 793.2V842.7M191.5 777V793.7M193.5 780.9V826.5M194.5 826V841.3M196.5 825.4V841.3M197.5 778.7V825.9M198.5 778.2V827.9M200.5 777.3V827.9M202.5 779.6V789.4M204.5 781.5V827.8M207.5 828.8V875.7M209.5 780.3V875.7M210.5 783.4V841.7M212.5 827.7V841.7M213.5 826.5V873.7M215.5 836.2V873.7M216.5 839.3V871.8M217.5 871.3V876.2M220.5 778V874.7M224.5 786.5V826.9M225.5 778.8V828.3M227.5 829.5V840.4M228.5 839.9V871.3M230.5 845.6V871.3M231.5 831.3V846.1M232.5 827.4V839.6M235.5 826.4V841.9M237.5 827.7V836.3M239.5 826.7V834.5M242.5 827.6V902.6M244.5 836.2V902.6M247.5 826.2V835.1M249.5 827.7V831.5M250.5 831V842.1M252.5 836.8V842.1M253.5 832.3V837.3M254.5 832.8V842.9M256.5 843.4V905.1M258.5 875.1V905.1M259.5 779.7V875.6M260.5 823.9V827.8M263.5 829.6V843.8M265.5 827.1V843.8M267.5 778.5V875.9M268.5 875.4V893.3M270.5 875.7V893.3M274.5 828V875.3M275.5 828.9V832.4M277.5 827.6V832.4M278.5 827.5V841.1M280.5 830.2V841.1M282.5 833.9V839M283.5 778.5V834.4M284.5 798.4V829.3M286.5 828V876.8M288.5 838V876.8M289.5 871.9V906M290.5 905.5V919.3M292.5 913.3V919.3M294.5 840.7V919.3M296.5 875.5V907.9M297.5 907.4V919M299.5 897.2V919M301.5 895.5V907.7M303.5 903.2V907.7M304.5 899.3V903.7M305.5 877.4V906.1M307.5 901.3V906.1M308.5 894.8V901.8M309.5 874.2V895.3M315.5 876.8V887.1M316.5 886.6V920.3M321.5 875.8V919.5M327.5 834.7V919.5M329.5 878.2V920M331.5 877.1V920.6M340.5 896.5V919.8M343.5 907.2V921M347.5 899.5V918.2M348.5 878.9V905.2M350.5 886V905.2M351.5 896.8V920.9M357.5 906.3V919.7M358.5 898V921M361.5 877.1V920.9M363.5 908.8V921.1M366.5 876.2V921.2M368.5 878.1V920.3M371.5 893.4V920.5M372.5 878.9V893.9M374.5 877V893.3M375.5 892.8V921.1M377.5 883.6V921.1M379.5 877.6V902.5M381.5 878.2V920.9M385.5 896.8V918.4M386.5 838.9V897.3M387.5 895.7V921.4M390.5 877.6V921.6M408.5 879.5V921.6M410.5 878V921.6M411.5 878.6V918.7M428.5 899.2V921.7M431.5 878.2V921.5M433.5 905.6V921.3M435.5 878.9V921M437.5 877.8V921M438.5 878.7V921.5M440.5 879V921.5M444.5 832V921.9M449.5 885.2V920.6M452.5 875.5V922M454.5 879.7V904.3M456.5 877.1V911.5M458.5 882.3V911.5M459.5 878.7V921.6M462.5 879.3V920.6M464.5 880.9V906.6M466.5 832.7V879.8M467.5 874.9V906.3M469.5 878.6V906.3M470.5 892.7V920.6M472.5 903.3V920.6M473.5 880V903.8M474.5 879.4V921.3M477.5 879.8V920.8M479.5 884.1V892.3M480.5 891.8V922.7M482.5 899.9V922.7M484.5 906.7V922.7M486.5 893.3V922.7M487.5 886.7V901.1M489.5 832.1V901.1M490.5 843.3V878.3M491.5 877.8V922.7M493.5 918.9V922.9M495.5 832.4V922.9M497.5 878.9V922.6M502.5 912.9V922.3M503.5 879.2V913.4M505.5 880.4V906.5M506.5 906V922.5M511.5 897.5V923.2M514.5 905.9V922.4M516.5 909.2V922.4M517.5 881V909.7M518.5 880V921.2M529.5 910.4V922.2M530.5 882.4V910.9M531.5 880.3V922.4M536.5 879.1V922.2M537.5 877.6V923.7M540.5 899.2V923.6M544.5 906.6V922.8M545.5 888.6V923.6M547.5 879.6V923.6M548.5 880.6V923M551.5 880.5V923.6M553.5 900.1V923.6M560.5 880.9V923.1M561.5 887.3V919.9M563.5 905.7V923M567.5 880.2V923.8M570.5 887.9V924M573.5 886.7V923.5M574.5 904.6V921.3M582.5 878.9V923.7M588.5 909.7V923.8M589.5 877.9V911M590.5 910.5V922.3M592.5 899.7V922.3M593.5 879.8V900.2M594.5 880.5V920.3M597.5 913.7V922.7M599.5 881.6V922.7M602.5 889.5V924M605.5 909.2V923.6M606.5 891.9V909.7M607.5 880.8V923.2M612.5 897.5V924.1M615.5 898.5V923.8M616.5 887V922.9M622.5 919.7V924.3M623.5 834.7V920.2M625.5 881.9V906.8M627.5 889.4V923.8M629.5 881.6V923.8M630.5 878.1V924.2M632.5 889V924.2M633.5 896.7V921.6M636.5 880.8V924.2M638.5 880.1V924.2M639.5 882.7V893.6M640.5 893.1V924.4M642.5 902.9V924.4M646.5 886.5V923.7M649.5 879.4V922.8M650.5 900.8V923.2M657.5 896.2V922.3M658.5 900.2V924.4M661.5 881.5V924M664.5 881.6V907M665.5 833.5V882.1M667.5 833.9V882.1M668.5 881.6V924.5M671.5 905.3V923.5M673.5 897.2V923.5M675.5 880.2V895.5M677.5 883V886.7M678.5 886.2V923.9M683.5 885.6V924.7M684.5 879.7V886.1M687.5 880.4V923M689.5 880.8V923M691.5 881.4V924.5M695.5 880.5V924.7M698.5 880.6V888.2M700.5 878.9V924.1M703.5 878.5V924.7M707.5 898.5V923.6M708.5 878.4V924.6M710.5 905V924.6M711.5 889.9V924.7M713.5 891V924.7M715.5 882.4V923.1M716.5 844.5V924.5M719.5 910.4V922.1M720.5 880.7V910.9M721.5 909.4V924.5M723.5 881.5V924.5M725.5 880.4V924.8M729.5 885.6V924.5M731.5 845.2V924.5M732.5 898.2V912.6M733.5 912.1V924.5M735.5 888.5V924.5M737.5 881.1V924.3M741.5 903.7V923.3M742.5 899.9V904.2M743.5 888.1V922.3M745.5 903.3V922.3M746.5 910.7V924.2M749.5 893.8V921.3M751.5 881.4V923.4M755.5 915.4V924.3M757.5 892.5V924.4M760.5 881.7V924.8M761.5 879.6V923.1M765.5 907.3V924.8M767.5 833.7V923.9M768.5 894.1V923.8M770.5 880.6V923.8M772.5 882.4V923.6M778.5 881.3V923.7M780.5 885.3V923.7M781.5 882.2V924.8M783.5 903.3V924.8M785.5 905.6V924.6M786.5 878.5V923M788.5 879.4V923.7M791.5 880.5V924.3M793.5 895.9V922.7M795.5 887.2V909.4M796.5 848.4V908.1M798.5 903.6V908.1M799.5 896.4V904.1M800.5 877.3V924.2M802.5 881.8V924.2M804.5 882.2V924.2M806.5 882.2V923.7M808.5 833.3V924.1M810.5 878.5V924.1M812.5 881.6V923.5M813.5 881.9V911.7M815.5 899.3V911.7M816.5 881.6V923.6M819.5 918.9V924.1M823.5 889.4V923.3M824.5 880.1V889.9M825.5 880.6V909.7M826.5 909.2V924.2M829.5 902.3V924.3M830.5 891.3V902.8M831.5 832.6V909.2M833.5 888.5V924.9M835.5 896.8V924.9M836.5 881.8V897.3M838.5 887.6V901.6M840.5 881.3V901.6M841.5 881.5V906.7M843.5 877.4V906.7M845.5 879.4V905.4M847.5 881.9V913.3M849.5 880.6V913.3M851.5 833.6V894.1M852.5 883.2V905.1M854.5 885.2V905.1M855.5 879.4V885.7M858.5 881.3V923.2M860.5 881.3V923.4M862.5 838.7V923.4M863.5 890.6V904.1M865.5 881.6V904.1M869.5 882.4V924.3M873.5 882V924.4M875.5 881.3V907M877.5 880V907M878.5 881.7V893.6M880.5 881.8V893.6M882.5 881.4V888.5M883.5 888V924.1M885.5 881.1V924.1M887.5 881.7V918M888.5 917.5V924M891.5 910V921.3M892.5 879.8V910.5M893.5 881.3V909M895.5 886.6V910.3M896.5 909.8V923.3M898.5 880.8V924.6M900.5 883V924.6M901.5 907.5V918.4M902.5 917.9V922.7M904.5 908.1V922.7M905.5 879.8V923.5M907.5 882V923.5M909.5 881.4V912M911.5 880.6V890.7M913.5 879.9V890.7M914.5 845.7V882.9M915.5 882.4V895.1M916.5 894.6V908.9M918.5 882.1V908.9M919.5 880.1V908.4M921.5 878.5V908.4M923.5 881.8V924.7M927.5 881.9V924.1M928.5 890.5V907.7M930.5 882.1V907.7M931.5 880.5V896M933.5 882.4V896M935.5 882.5V910.6M937.5 881.5V910.6M939.5 882.5V902.4M940.5 833.4V883M941.5 881.5V887.5M942.5 887V891.8M944.5 878.4V891.8M946.5 879.9V910.8M948.5 882.3V910.8M949.5 844.4V915.2M950.5 914.7V924.4M953.5 881.7V923M955.5 894.8V906.5M958.5 881.8V906.3M961.5 880V899.2M963.5 832.4V899.2M965.5 831.1V882.2M967.5 882.1V891.4M968.5 890.9V896.6M970.5 792.2V896.6M972.5 850.3V889.1M974.5 843.3V889.1M975.5 834.3V920.5M976.5 920V924.1M978.5 833.8V924.1M979.5 879.5V883.3M982.5 880.1V899.5M983.5 899V904.1M985.5 786.7V904.1M986.5 880.3V923.1M989.5 885.3V924.1M990.5 783.5V885.8M991.5 841.1V921.7M995.5 786.1V923.2M996.5 890.6V898.8M998.5 881.4V898.8M999.5 792V881.9M1000.5 785.8V840.4M1002.5 833.9V908.5M1004.5 879.7V908.5M1006.5 888.5V907.8M1008.5 879V907.8M1009.5 834.3V879.5M1010.5 838V880.8M1011.5 880.3V889.5M1014.5 883.3V891.9M1015.5 833.4V884.1M1017.5 880.4V884.1M1019.5 841.3V880.7M1022.5 799.8V880.6M1024.5 838.3V883.7M1026.5 878.8V883.7M1027.5 785.7V879.3M1028.5 832.2V891M1030.5 878.2V891M1031.5 840.3V922.1M1033.5 885.8V922.1M1035.5 880.7V909.3M1037.5 880.1V908.9M1039.5 878.4V897.7M1040.5 839.8V878.9M1041.5 831.9V922.3M1043.5 898.2V922.3M1044.5 886.2V898.7M1045.5 845.5V886.7M1046.5 830.6V846M1048.5 832.5V846.9M1050.5 832.6V846.9M1052.5 832.5V898.7M1054.5 873.9V907.6M1056.5 899.9V907.6M1057.5 845.3V921.3M1060.5 888.9V921.3M1062.5 876.8V895.6M1063.5 879.2V921.6M1065.5 889.9V921.6M1066.5 879.9V890.4M1068.5 883.4V895.6M1070.5 880.3V895.6M1071.5 879.5V899.4M1073.5 890.1V899.4M1074.5 830.8V894.1M1076.5 879.1V894.1M1078.5 879.6V921.6M1080.5 903.9V921.6M1081.5 878.9V904.4M1082.5 879.9V896.9M1084.5 878.9V896.9M1085.5 832.1V879.4M1088.5 833.1V879M1089.5 828.5V922M1091.5 901.8V922M1094.5 879.3V920.6M1095.5 830.7V879.8M1097.5 829.6V847.1M1099.5 840.2V845.9M1100.5 845.4V896.4M1102.5 830V896.4M1104.5 829.5V844.9M1106.5 828.3V907M1108.5 878.3V907M1109.5 781.7V878.9M1110.5 878.4V898.7M1112.5 879.1V898.7M1113.5 829V919.4M1115.5 905.8V919.4M1116.5 829.5V906.4M1118.5 878.3V906.4M1121.5 830.1V885.1M1123.5 849.7V920.9M1126.5 877.3V918.9M1128.5 877.7V891.5M1130.5 830.3V891.5M1132.5 831.1V878.2M1134.5 878.6V903M1136.5 885.8V903M1137.5 876.6V886.3M1138.5 830.3V877.1M1139.5 839.6V876.8M1140.5 876.3V895.9M1142.5 876.7V895.9M1143.5 827V892M1145.5 877.3V892M1149.5 837.1V894.6M1150.5 894.1V901.7M1152.5 877.4V902M1154.5 876.3V902M1155.5 834.6V876.8M1156.5 840.9V875M1157.5 874.5V878.4M1158.5 877.9V892M1161.5 887.7V891.5M1162.5 832V888.2M1164.5 837.8V845.7M1165.5 782.1V838.3M1166.5 781.7V801M1167.5 800.5V829.4M1169.5 828V845.1M1171.5 828.7V845.1M1173.5 830.1V836.5M1175.5 780.5V829.4M1176.5 780.9V786.4M1177.5 785.9V829.6M1180.5 827.2V847.7M1182.5 831.5V847.7M1183.5 827.7V890.9M1184.5 890.4V906.1M1187.5 872.7V908.1M1188.5 777.3V873.2M1189.5 784.1V829.3M1192.5 828.4V837.6M1194.5 827.7V879.3M1196.5 780.9V879.3M1197.5 781.2V792.6M1199.5 780.6V828.9M1202.5 829.1V833.2M1204.5 780V833.2M1205.5 791.1V829.1M1208.5 828.5V847.1M1210.5 840.3V875.2M1213.5 826.7V876.4M1216.5 829.8V835.4M1218.5 827V835.4M1219.5 833.1V843.1M1221.5 826.8V843.1M1224.5 825.1V829.4M1228.5 825.6V841.8M1230.5 823.5V841.8M1232.5 828.2V836M1235.5 828.9V876.5M1236.5 876V897.6M1238.5 874.9V897.6M1240.5 828.2V875.6M1241.5 828.9V844.6M1243.5 829V844.6M1244.5 825.3V836.5M1246.5 827.8V891.6M1248.5 875.9V891.6M1249.5 780.7V876.4M1250.5 872.2V876.2M1251.5 875.7V903.6M1253.5 883V903.6M1255.5 872.3V895.5M1257.5 785.3V893.5M1259.5 826V835.8M1261.5 828.7V835.8M1263.5 828.6V836.1M1264.5 835.6V876.3M1265.5 875.8V884.6M1267.5 873.4V884.6M1268.5 846.1V873.9M1269.5 834.9V846.6M1271.5 827.8V842.3M1272.5 831V876.4M1274.5 841.3V876.4M1275.5 834.2V841.8M1277.5 828.1V875.6M1279.5 875.9V906.6M1281.5 778.7V906.6M1282.5 779.4V795.2M1284.5 793.4V897.9M1286.5 876.2V897.9M1287.5 883.1V891.6M1289.5 794.5V891.6M1291.5 824.7V830.9M1293.5 826.3V830.9M1294.5 779.8V826.8M1295.5 790.7V833.8M1297.5 825.9V833.8M1299.5 827V898.3M1301.5 840.4V898.3M1302.5 875.8V879.5M1304.5 873.3V888.9M1306.5 842.1V888.9M1307.5 836.4V842.6M1308.5 827.6V836.9M1310.5 786.5V826M1311.5 791.1V871.8M1313.5 873.9V888.8M1314.5 888.3V903M1316.5 841.4V903M1317.5 828.8V841.9M1318.5 826.1V899.8M1320.5 826.8V899.8M1322.5 838.2V843.8M1324.5 823.7V843.8M1326.5 827.3V839.5M1327.5 826.3V843M1329.5 826.2V843.1M1331.5 825.6V843.1M1332.5 825V830.4M1338.5 825.9V837.4M1339.5 836.9V845.3M1341.5 828V845.3M1342.5 825V828.5M1344.5 796.2V838M1346.5 824.9V841.5M1348.5 829.4V841.5M1350.5 827.4V834.6M1351.5 826.2V832.1M1352.5 831.6V842.8M1354.5 826.5V842.8M1356.5 826.6V834.2M1358.5 826V841.7M1360.5 779.4V841.7M1361.5 798.2V827.7M1364.5 824.4V831.3M1365.5 830.8V837.8M1367.5 825.1V843.2M1369.5 826.2V843.2M1370.5 825.6V837M1372.5 777.7V837M1373.5 776.4V780.4M1374.5 779.9V784.8M1375.5 784.3V790.4M1377.5 779V790.4M1378.5 778.7V796.2M1380.5 786.7V796.2M1381.5 778.1V787.2M1387.5 777.6V791.9M1389.5 777.4V791.9M1391.5 775.8V786.5M1393.5 778.7V794.2M1395.5 783.9V794.2M1397.5 778.6V782.7M1400.5 774.5V779.3M1401.5 776V794.5M1402.5 794V797.6M1404.5 777.9V797.6M1406.5 779V786.8M1408.5 777.7V786.8M1410.5 778.8V784.4M1411.5 783.9V788.7M1413.5 779.1V788.7M1415.5 778.3V782.3M1416.5 781.8V785.5M1417.5 785V792.8M1419.5 776.8V792.8M1422.5 777.9V790.1M1424.5 778.1V782M1425.5 781.5V790.9M1427.5 784.9V790.9M1428.5 779.4V828.9M1430.5 784.8V828.9M1432.5 777.7V787.7M1435.5 776V796.5M1437.5 777.1V796.5M1438.5 779V796.1M1440.5 776.3V796.1M1441.5 777.1V794.3M1443.5 781.3V794.3M1445.5 731.9V780.1M1449.5 775.7V779.4M1451.5 778.7V788.9M1452.5 788.4V795M1454.5 779V795M1455.5 776.9V783.1M1458.5 778.5V795.3M1460.5 786.7V796.1M1462.5 775.3V796.1M1463.5 772.1V779.3M1464.5 778.8V789.8M1466.5 778.7V791.1M1468.5 786.5V791.1M1469.5 779.1V787M1475.5 776.2V789M1476.5 788.5V792.2M1478.5 777.1V792.2M1479.5 776.7V792M1481.5 777.1V792M1483.5 776.9V782.2M1485.5 778.7V783.9M1487.5 778.3V796.9M1489.5 775.1V796.9" fill="none" stroke="#0000ff" stroke-width="1.0" stroke-opacity="0.6"/>
<line x1="264" y1="604.4" x2="264" y2="975" stroke="#000" stroke-width="4" stroke-linecap="round"/>
<line x1="438" y1="607" x2="438" y2="977.7" stroke="#000" stroke-width="4" stroke-linecap="round"/>
<line x1="616" y1="607" x2="616" y2="984.7" stroke="#000" stroke-width="4" stroke-linecap="round"/>
<line x1="791" y1="607" x2="791" y2="984.7" stroke="#000" stroke-width="4" stroke-linecap="round"/>
<line x1="966" y1="607" x2="966" y2="984.7" stroke="#000" stroke-width="4" stroke-linecap="round"/>
<line x1="1142" y1="608.5" x2="1142" y2="985.3" stroke="#000" stroke-width="4" stroke-linecap="round"/>
<line x1="1317" y1="608.5" x2="1317" y2="986" stroke="#000" stroke-width="4" stroke-linecap="round"/>
<line x1="351.9" y1="607" x2="384.9" y2="607" stroke="#000" stroke-width="6" stroke-dasharray="0 11.000" stroke-linecap="round"/>
<line x1="351.9" y1="607" x2="351.9" y2="939.2" stroke="#000" stroke-width="6" stroke-dasharray="0 11.073" stroke-linecap="round"/>
<line x1="384.9" y1="607" x2="384.9" y2="939.2" stroke="#000" stroke-width="6" stroke-dasharray="0 11.073" stroke-linecap="round"/>
<line x1="351.9" y1="939.2" x2="384.9" y2="939.2" stroke="#000" stroke-width="6" stroke-dasharray="0 11.000" stroke-linecap="round"/>
<line x1="666.8" y1="600.4" x2="701.6" y2="600.4" stroke="#000" stroke-width="6" stroke-dasharray="0 11.600" stroke-linecap="round"/>
<line x1="666.8" y1="600.4" x2="666.8" y2="941.7" stroke="#000" stroke-width="6" stroke-dasharray="0 11.010" stroke-linecap="round"/>
<line x1="701.6" y1="600.4" x2="701.6" y2="941.7" stroke="#000" stroke-width="6" stroke-dasharray="0 11.010" stroke-linecap="round"/>
<line x1="666.8" y1="941.7" x2="701.6" y2="941.7" stroke="#000" stroke-width="6" stroke-dasharray="0 11.600" stroke-linecap="round"/>
<text transform="translate(71.7,701.0) rotate(-90)" font-size="37.4" fill="#000">SLO-2</text>
<text transform="translate(28.7,912.8) rotate(-90)" font-size="37.4" fill="#000">SLO-2</text>
<text transform="translate(77.0,929.3) rotate(-90)" font-size="36.5" fill="#000">+BKIP-1</text>
<text x="53.6" y="983.3" font-size="52.3" fill="#000">[Cl</text>
<text x="117.2" y="961.6" font-size="34" fill="#000">-</text>
<text x="129.9" y="983.3" font-size="52.3" fill="#000">]</text>
<text x="164.2" y="984.0" font-size="44.5" fill="#000">50</text>
<text x="345.6" y="984.0" font-size="44.5" fill="#000">0</text>
<text x="517.7" y="984.0" font-size="44.5" fill="#000">5</text>
<text x="680.9" y="984.0" font-size="44.5" fill="#000">10</text>
<text x="860.0" y="984.0" font-size="44.5" fill="#000">20</text>
<text x="1038.6" y="984.0" font-size="44.5" fill="#000">40</text>
<text x="1208.2" y="984.0" font-size="44.5" fill="#000">80</text>
<text x="1373.8" y="984.0" font-size="44.5" fill="#000">120</text>
<path d="M742.7 1007.5V1060.5H831.7" fill="none" stroke="#000" stroke-width="3.8" stroke-linecap="round"/>
<text x="657.9" y="1045.7" font-size="33" fill="#000">4 pA</text>
<text x="763.7" y="1092.4" font-size="33" fill="#000">5 s</text>
<path d="M774.8 1184V1255H864" fill="none" stroke="#000" stroke-width="3.8" stroke-linecap="round"/>
<text x="699.4" y="1231.5" font-size="33" fill="#000">5 pA</text>
<text x="762.7" y="1286.5" font-size="33" fill="#000">300 ms</text>
<text x="285.7" y="1068.5" font-size="44.7" fill="#000">0 [Cl</text>
<text x="376.5" y="1051.2" font-size="32" fill="#000">-</text>
<text x="387.3" y="1068.5" font-size="44.7" fill="#000">]</text>
<text x="1048.8" y="1072.9" font-size="44.6" fill="#000">10 mM [Cl</text>
<text x="1250.8" y="1054.4" font-size="32" fill="#000">-</text>
<text x="1262.2" y="1072.9" font-size="44.6" fill="#000">]</text>
<path d="M90.5 1165.7V1173.9M91.5 1164.6V1173.5M92.5 1161.6V1173.5M93.5 1165.9V1175.6M94.5 1162.9V1174.9M95.5 1161.6V1174.3M96.5 1164.7V1175M97.5 1165.8V1175.2M98.5 1161.6V1174.7M99.5 1164.3V1173.1M100.5 1165.7V1173.3M101.5 1164.4V1173.1M102.5 1165V1173.1M103.5 1165.6V1173M104.5 1163.3V1176.6M105.5 1165.5V1177.4M106.5 1165.6V1173.1M107.5 1164.3V1173.9M108.5 1165.2V1173.1M109.5 1164.4V1175.2M110.5 1164.6V1173.7M111.5 1163.5V1173M112.5 1166.1V1173.1M113.5 1165.3V1174.9M114.5 1165.5V1174M115.5 1165V1175.7M116.5 1163.6V1173M117.5 1164.7V1173.5M118.5 1166.1V1176.5M119.5 1162.8V1173.9M120.5 1165.9V1175.4M121.5 1164.7V1175M122.5 1165.9V1173M123.5 1165.3V1172.9M124.5 1165.7V1175M125.5 1166.1V1174.8M126.5 1165.6V1173.5M127.5 1163.4V1175M128.5 1165.8V1175.1M129.5 1166.1V1176.6M130.5 1165.6V1173.8M131.5 1165.3V1177.1M132.5 1146.5V1173.9M133.5 1146.6V1174.5M134.5 1165.7V1174M135.5 1164.4V1173.2M136.5 1164.8V1173.2M137.5 1165.9V1173.1M138.5 1166.1V1173.7M139.5 1165.4V1174.1M140.5 1162.1V1173.9M141.5 1164.3V1173M142.5 1165.6V1173.2M143.5 1163.7V1173.4M144.5 1165.4V1173.4M145.5 1164.2V1174.9M146.5 1166V1174.5M147.5 1166.1V1175.9M148.5 1165.9V1174.7M149.5 1165.5V1173.8M150.5 1164.9V1173.6M151.5 1163V1173.5M152.5 1163.9V1173.6M153.5 1166V1173.6M154.5 1166V1174.5M155.5 1164V1175M156.5 1163.9V1174.7M157.5 1165.3V1173M158.5 1164.5V1177.4M159.5 1165.5V1174.3M160.5 1164.7V1173.5M161.5 1165.5V1173M162.5 1164.5V1174.6M163.5 1164.6V1173.1M164.5 1162.6V1173.7M165.5 1165.8V1173.3M166.5 1166V1173.2M167.5 1165.4V1173.1M168.5 1150.4V1175.7M169.5 1151V1173.3M170.5 1150.4V1173.1M171.5 1165.9V1174.9M172.5 1164.1V1173.3M173.5 1165.8V1173.7M174.5 1164.3V1173.4M175.5 1163.9V1172.9M176.5 1161.9V1176.8M177.5 1164.3V1172.9M178.5 1166.1V1173.4M179.5 1161.6V1174.3M180.5 1165.8V1174.2M181.5 1165.4V1173.1M182.5 1163.6V1173.9M183.5 1164.9V1174.5M184.5 1165.3V1173.4M185.5 1166.1V1173.7M186.5 1165.3V1176.8M187.5 1165.6V1176.5M188.5 1163.7V1173M189.5 1165.9V1175M190.5 1163.9V1173.3M191.5 1162.5V1173.1M192.5 1165.5V1177.1M193.5 1165.9V1177.4M194.5 1164.7V1174.2M195.5 1164V1173.4M196.5 1164.6V1173.3M197.5 1165.8V1173.9M198.5 1165.9V1173.2M199.5 1163.2V1173.3M200.5 1161.8V1177.4M201.5 1166.1V1174.1M202.5 1164.6V1173.4M203.5 1162.9V1173.2M204.5 1165.9V1177.4M205.5 1165.5V1174M206.5 1164.3V1173.3M207.5 1165.2V1173.2M208.5 1165.9V1173.1M209.5 1166V1177.1M210.5 1162.7V1177.4M211.5 1163.9V1174.7M212.5 1165.8V1173M213.5 1165.6V1174.9M214.5 1165.3V1174.1M215.5 1162.6V1175.7M216.5 1164.3V1173.2M217.5 1165.3V1174.8M218.5 1164.2V1173.3M219.5 1166.1V1172.9M220.5 1161.6V1173.7M221.5 1165.2V1174.1M222.5 1165.7V1174.6M223.5 1165.7V1174M224.5 1164.6V1175.1M225.5 1166V1175.5M226.5 1165.1V1174.5M227.5 1165V1173.4M228.5 1162.2V1174.3M229.5 1165.5V1173.6M230.5 1166.1V1175.1M231.5 1166V1173.1M232.5 1163.4V1176.1M233.5 1164.9V1172.9M234.5 1165.8V1173M235.5 1163.9V1174.2M236.5 1166V1173.3M237.5 1164.9V1174.5M238.5 1161.6V1174.6M239.5 1166.1V1173.1M240.5 1165.8V1173.3M241.5 1165.1V1173.6M242.5 1163.6V1173.2M243.5 1163.3V1176.2M244.5 1165.1V1174.2M245.5 1165.8V1177.4M246.5 1162V1174.9M247.5 1164.7V1173.3M248.5 1165.8V1173.5M249.5 1166V1172.9M250.5 1166V1173.9M251.5 1164.7V1172.9M252.5 1166V1173.5M253.5 1166.1V1172.9M254.5 1166.1V1172.9M255.5 1163.9V1175M256.5 1165.7V1173.5M257.5 1162.6V1173.8M258.5 1164.4V1173M259.5 1164.8V1173.9M260.5 1165.2V1174.6M261.5 1163.8V1173.7M262.5 1165V1174.1M263.5 1163.8V1173.2M264.5 1165.5V1173.7M265.5 1165.6V1175.4M266.5 1165.1V1176.3M267.5 1166V1173.7M268.5 1165.7V1173.1M269.5 1165.4V1175M270.5 1165.4V1174.5M271.5 1163.8V1174.9M272.5 1164.3V1173M273.5 1165.2V1173.5M274.5 1164.2V1176.2M275.5 1165.7V1176M276.5 1165.8V1173.4M277.5 1165V1173.6M278.5 1163.6V1174M279.5 1164.6V1175.1M280.5 1165.7V1175.9M281.5 1164.3V1174M282.5 1165.1V1173.4M283.5 1165.8V1173.2M284.5 1165.2V1173.8M285.5 1164.1V1174.3M286.5 1165.9V1172.9M287.5 1165.1V1173M288.5 1166.1V1173.9M289.5 1164.8V1174.2M290.5 1161.6V1173.1M291.5 1165.7V1173.7M292.5 1165.1V1173.1M293.5 1165.4V1175.3M294.5 1165.5V1175.1M295.5 1165.3V1174.2M296.5 1165.1V1173.1M297.5 1162V1176.1M298.5 1164.9V1173.3M299.5 1165.2V1172.9M300.5 1163.6V1176.6M301.5 1163.4V1173.4M302.5 1164.7V1174M303.5 1165.7V1173.1M304.5 1164.8V1177.4M305.5 1165.8V1173.4M306.5 1164.9V1175.2M307.5 1166.1V1173.4M308.5 1165.2V1177.4M309.5 1165.8V1173M310.5 1165.9V1175.3M311.5 1163.3V1175.7M312.5 1164.5V1175M313.5 1165.9V1173.6M314.5 1164.3V1173.7M315.5 1166V1176M316.5 1165.7V1173M317.5 1161.6V1175.7M318.5 1165.4V1174.2M319.5 1165.2V1173.9M320.5 1166.1V1174.1M321.5 1166V1174.1M322.5 1166V1175.7M323.5 1164.7V1174M324.5 1165.7V1173.4M325.5 1165.1V1177.4M326.5 1165.2V1173.1M327.5 1164V1173.9M328.5 1165.4V1173.2M329.5 1135.3V1173.1M330.5 1135.5V1174.4M331.5 1140.9V1173.1M332.5 1141.1V1174.5M333.5 1146.3V1173.5M334.5 1146.4V1174.8M335.5 1145.8V1173.2M336.5 1165.4V1173M337.5 1150.6V1175.3M338.5 1150.4V1175.6M339.5 1165.4V1175.2M340.5 1164.3V1174.6M341.5 1164.2V1173.7M342.5 1165.8V1173.8M343.5 1163.6V1173.3M344.5 1163.5V1175.7M345.5 1165.6V1172.9M346.5 1165.4V1174.7M347.5 1164.7V1173M348.5 1164.3V1174.5M349.5 1164.2V1174.8M350.5 1166.1V1173.4M351.5 1165.5V1173M352.5 1165.1V1173M353.5 1165.9V1173.3M354.5 1165.7V1173.5M355.5 1165.6V1173M356.5 1165.7V1176.2M357.5 1165.7V1174.2M358.5 1165.7V1174.1M359.5 1165.3V1174.7M360.5 1164.1V1174.6M361.5 1165.5V1174.9M362.5 1163.9V1173.8M363.5 1163.5V1173.3M364.5 1165.2V1173.2M365.5 1165.9V1173.7M366.5 1164.3V1173M367.5 1165.9V1174.3M368.5 1164.3V1173.1M369.5 1165.9V1174.7M370.5 1166.1V1173.7M371.5 1164.8V1175.5M372.5 1161.6V1173.8M373.5 1163.4V1173.3M374.5 1164.3V1176.1M375.5 1164.5V1173.6M376.5 1165.6V1173M377.5 1164.3V1173.4M378.5 1163.1V1175.1M379.5 1162.9V1174.1M380.5 1162.7V1172.9M381.5 1164.5V1174.4M382.5 1164.3V1174.5M383.5 1165.6V1176.8M384.5 1166.1V1174.1M385.5 1166.1V1173.2M386.5 1165.6V1175.4M387.5 1166.1V1173M388.5 1163.9V1173.2M389.5 1165.7V1173.4M390.5 1164.7V1173.6M391.5 1166V1174.5M392.5 1163.7V1173.3M393.5 1166.1V1174M394.5 1164.7V1174.5M395.5 1165V1174.5M396.5 1165.6V1173.4M397.5 1164.6V1174.3M398.5 1165.4V1176M399.5 1164.1V1175.2M400.5 1163.8V1173.5M401.5 1165.7V1173.6M402.5 1164.2V1175.5M403.5 1164.7V1173.4M404.5 1165.8V1173.4M405.5 1164.4V1174.7M406.5 1164.4V1174.4M407.5 1163.4V1174.1M408.5 1165.2V1173.6M409.5 1165.4V1175.8M410.5 1165.1V1174.5M411.5 1165.9V1173.3M412.5 1165V1174.8M413.5 1165V1173.5M414.5 1166V1175.9M415.5 1165.6V1173.1M416.5 1165.7V1173M417.5 1164V1175.2M418.5 1166.1V1173.6M419.5 1165.3V1173.2M420.5 1164.2V1173.3M421.5 1165.3V1175.4M422.5 1165.5V1173.3M423.5 1166V1173.4M424.5 1162.7V1176.3M425.5 1165.2V1172.9M426.5 1164.1V1173.4M427.5 1113V1173.2M428.5 1113.8V1172.9M429.5 1112.1V1173.2M430.5 1165.7V1177.3M431.5 1164.9V1175M432.5 1161.6V1173.6M433.5 1164.3V1173.3M434.5 1166V1173M435.5 1164.2V1173.7M436.5 1164V1175.6M437.5 1165.6V1173M438.5 1165.9V1174.2M439.5 1165.9V1174.2M440.5 1164.1V1172.9M441.5 1112.6V1173.8M442.5 1113.2V1173.9M443.5 1165.8V1177.1M444.5 1165.7V1174.7M445.5 1162.7V1173M446.5 1166.1V1173.1M447.5 1162V1173.5M448.5 1165.1V1175.2M449.5 1162.5V1173.7M450.5 1166.1V1175M451.5 1164.5V1173.7M452.5 1165.9V1174.8M453.5 1165.7V1174.4M454.5 1162.6V1173M455.5 1165V1173.8M456.5 1165.5V1173M457.5 1164.4V1173M458.5 1162.9V1173M459.5 1164.6V1173.4M460.5 1163.9V1174M461.5 1165.5V1173.7M462.5 1166.1V1173.8M463.5 1164.6V1173.9M464.5 1165.8V1174M465.5 1165.6V1173.6M466.5 1165.9V1173.9M467.5 1164.2V1174.7M468.5 1164.5V1173.5M469.5 1165V1176.6M470.5 1165.5V1173.6M471.5 1166V1174.1M472.5 1163.1V1175.7M473.5 1164.2V1173.1M474.5 1165.7V1173.1M475.5 1165.7V1174.4M476.5 1165.7V1173.6M477.5 1165.1V1177.4M478.5 1165.1V1174.6M479.5 1164.3V1173.1M480.5 1164.2V1174.5M481.5 1164.7V1174.5M482.5 1164.6V1173.3M483.5 1166.1V1174.1M484.5 1165.2V1173.7M485.5 1165.4V1175.4M486.5 1166.1V1172.9M487.5 1163.6V1173.7M488.5 1164.5V1173.1M489.5 1165.9V1173.2M490.5 1165.3V1173.8M491.5 1165.6V1173.6M492.5 1165.1V1175.4M493.5 1165.6V1172.9M494.5 1165.7V1175.7M495.5 1165.7V1173.1M496.5 1164V1173.3M497.5 1165V1177.4M498.5 1165.5V1174.1M499.5 1165.8V1173.5M500.5 1164.7V1177.4M501.5 1165.7V1173.2M502.5 1162.5V1173.6M503.5 1165.7V1177.4M504.5 1164.5V1177.4M505.5 1163.5V1174.5M506.5 1164.2V1173.3M507.5 1166V1175.8M508.5 1164.9V1173.9M509.5 1165.2V1173M510.5 1165.6V1175.1M511.5 1165.7V1174.4M512.5 1165.3V1173.1M513.5 1165.1V1172.9M514.5 1164.8V1173.6M515.5 1164.5V1173.4M516.5 1163.8V1173.5M517.5 1164.5V1174.2M518.5 1165.9V1173.3M519.5 1166V1177.4M520.5 1165.3V1176.8M521.5 1165.9V1173.2M522.5 1164.8V1173.5M523.5 1163.4V1176.5M524.5 1164.9V1177.4M525.5 1165.9V1173M526.5 1164.2V1173.1M527.5 1164V1173.1M528.5 1165.8V1173.3M529.5 1165.3V1175M530.5 1164.9V1176M531.5 1166.1V1174.9M532.5 1164.5V1176.2M533.5 1165.7V1172.9M534.5 1166V1174.1M535.5 1165.6V1174.3M536.5 1165.6V1173M537.5 1162.1V1175.5M538.5 1166.1V1173.5M539.5 1164V1175.6M540.5 1166.1V1176.3M541.5 1165.4V1176.6M542.5 1166.1V1173.5M543.5 1164V1174.4M544.5 1164.4V1174.2M545.5 1164.7V1173.4M546.5 1164.5V1173.7M547.5 1166.1V1173.2M548.5 1164.8V1172.9M549.5 1163.4V1176.3M550.5 1165.7V1173.5M551.5 1165.3V1173.9M552.5 1165.1V1173.2M553.5 1165.8V1173.1M554.5 1162V1175.5M555.5 1163V1173.3M556.5 1165.2V1177M557.5 1163.9V1173.6M558.5 1161.6V1177.4M559.5 1164.5V1174.5M560.5 1165.9V1173.9M561.5 1165.7V1173.4M562.5 1164.9V1177.2M563.5 1164.3V1174.5M564.5 1165.1V1173.4M565.5 1165.2V1173.6M566.5 1164.5V1173.3M567.5 1165.2V1173.1M568.5 1165.7V1173.7M569.5 1165.7V1174M570.5 1147.9V1173.5M571.5 1147.6V1175.3M572.5 1147.2V1173.3M573.5 1164.5V1174.5M574.5 1166.1V1173.7M575.5 1165.1V1176.2M576.5 1165.5V1174.2M577.5 1165.7V1176.6M578.5 1164.8V1173.9M579.5 1164.2V1172.9M580.5 1164.9V1172.9M581.5 1165.6V1173M582.5 1165V1173M583.5 1164.5V1175.8M584.5 1166V1174.3M585.5 1165.2V1173.8M586.5 1165.7V1174M587.5 1166.1V1177.4M588.5 1165.4V1173.4M589.5 1165.3V1173.4M590.5 1165.8V1172.9M591.5 1165V1173.1M592.5 1164.3V1173.3M593.5 1165.6V1172.9M594.5 1164.5V1174.2M595.5 1165.1V1175.8M596.5 1165.1V1173.6M597.5 1164.9V1173.2M598.5 1164.8V1174.1M599.5 1165.7V1174.3M600.5 1164.7V1173.8M601.5 1164.6V1173.1M602.5 1165.3V1175.8M603.5 1165.7V1173.2M604.5 1163.7V1173.6M605.5 1165.3V1173.2M606.5 1162.5V1177.4M607.5 1164.2V1174.7M608.5 1165.1V1173.4M609.5 1165.5V1174.8M610.5 1164.9V1172.9M611.5 1165.9V1173.9M612.5 1166.1V1174.5M613.5 1162.6V1174M614.5 1164.3V1175.2M615.5 1166V1175.8M616.5 1165.5V1174.2M617.5 1164.3V1173.1M618.5 1166V1174.6M619.5 1164.6V1173M620.5 1165.5V1173.2M621.5 1164.4V1176M622.5 1163V1177.4M623.5 1165.2V1174.9M624.5 1164.6V1173.1M625.5 1166V1175.9M626.5 1162.9V1174.1M627.5 1165.8V1173.7M628.5 1165.9V1175M629.5 1165.7V1173.5M630.5 1163.8V1173.3M631.5 1164.5V1177.2M632.5 1165.4V1173.8M633.5 1166V1174M634.5 1166V1173.4M635.5 1165.5V1175.9M636.5 1165.4V1173.5M637.5 1166.1V1173.9M638.5 1163.9V1174.7M639.5 1164.2V1173M640.5 1165.9V1174.4M641.5 1165.1V1177.4M642.5 1166V1174.3M643.5 1165.2V1175M644.5 1164.4V1174.3M645.5 1165.7V1174.6M646.5 1164.6V1173.2M647.5 1164.9V1174.2M648.5 1165.9V1173.2M649.5 1165.5V1173.9M650.5 1165.3V1175.9M651.5 1165.2V1177.4M652.5 1161.6V1173.1M653.5 1166V1173.4M654.5 1164.3V1173M655.5 1163.3V1174.9M656.5 1165.6V1173M657.5 1166.1V1176.2M658.5 1164.4V1174.8M659.5 1163.7V1174.5M660.5 1165.1V1174.2M661.5 1162.7V1175.6M662.5 1165.7V1173.4M663.5 1165.6V1173.8M664.5 1164.9V1173.1M665.5 1165.7V1174.6M666.5 1165.3V1173.3M667.5 1164V1173.6M668.5 1165.8V1175.1M669.5 1166.1V1172.9M670.5 1161.6V1174.7" fill="none" stroke="#ff0000" stroke-width="1"/>
<path d="M120.5 1153.6V1165.9M122.5 1147.8V1165.9M134.5 1151.3V1165.7M136.5 1142V1164.8M138.5 1155.4V1166.1M143.5 1156V1163.7M145.5 1153.1V1164.2M155.5 1093V1164M158.5 1158V1164.5M163.5 1160.2V1164.6M169.5 1146.9V1151M186.5 1121.3V1165.3M197.5 1129.4V1165.8M254.5 1122.5V1166.1M255.5 1123V1163.9M258.5 1157.5V1164.4M268.5 1149V1165.7M282.5 1120.9V1165.1M313.5 1131.1V1165.9M317.5 1118.3V1161.6M319.5 1142.3V1165.2M335.5 1117V1145.8M336.5 1117.7V1165.4M445.5 1115.9V1162.7M446.5 1114V1166.1M528.5 1123.2V1165.8M529.5 1115.1V1165.3M546.5 1160.6V1164.5M554.5 1158.6V1162M560.5 1161.2V1165.9M562.5 1159.8V1164.9M566.5 1120.1V1164.5M573.5 1101.6V1164.5M576.5 1149.6V1165.5M580.5 1151.1V1164.9M613.5 1154.7V1162.6M617.5 1158.9V1164.3" fill="none" stroke="#ff0000" stroke-width="1" stroke-opacity="0.65"/>
<path d="M90.5 1290.8V1300.2M91.5 1291.2V1304.5M92.5 1290.8V1300.5M93.5 1289.9V1302M94.5 1291V1303.2M95.5 1290.9V1300.4M96.5 1291.8V1301.4M97.5 1291.9V1302.9M98.5 1291.1V1301.3M99.5 1290.6V1301.3M100.5 1290.3V1300.8M101.5 1291.2V1301.3M102.5 1290.2V1301.8M103.5 1291.5V1301.7M104.5 1287.8V1300.6M105.5 1287.7V1301.6M106.5 1291.7V1303.9M107.5 1290.4V1300.1M108.5 1291.8V1300.6M109.5 1287.6V1300.8M110.5 1291.9V1303.3M111.5 1290.7V1300.7M112.5 1291.8V1300.2M113.5 1290.6V1303.2M114.5 1291.6V1300.1M115.5 1291.9V1301.2M116.5 1289.1V1300.5M117.5 1291.3V1300.7M118.5 1292V1300.5M119.5 1290.6V1300.8M120.5 1290.2V1301.4M121.5 1289.9V1300.5M122.5 1290.8V1300.1M123.5 1290.9V1300.5M124.5 1291.6V1302.3M125.5 1291.6V1300.2M126.5 1291.3V1302.8M127.5 1290.5V1300.1M128.5 1288.2V1300.7M129.5 1291.6V1302.6M130.5 1291.3V1301.9M131.5 1292V1300.1M132.5 1291.8V1304.5M133.5 1287.5V1300.2M134.5 1290.2V1300.7M135.5 1291.7V1300.1M136.5 1290.7V1301.5M137.5 1291.3V1301.5M138.5 1291.8V1300.5M139.5 1290.5V1300.3M140.5 1291.9V1300.8M141.5 1291.9V1300.1M142.5 1291.6V1301.4M143.5 1291.3V1301M144.5 1289.6V1302.3M145.5 1290.2V1304.2M146.5 1289.2V1301.1M147.5 1290V1304.5M148.5 1287.5V1300.1M149.5 1287.9V1301M150.5 1289.6V1300.5M151.5 1290.7V1300.7M152.5 1290.6V1300.4M153.5 1291.5V1301.2M154.5 1289.9V1301.1M155.5 1291.7V1300.1M156.5 1289V1301.1M157.5 1291.6V1301.8M158.5 1291V1300.3M159.5 1288.9V1302.7M160.5 1291V1303.4M161.5 1291.2V1300.2M162.5 1290V1303.5M163.5 1291V1300.2M164.5 1291.2V1300.7M165.5 1290.4V1303.9M166.5 1291.2V1300.5M167.5 1291.8V1304.5M168.5 1291.4V1300.8M169.5 1290.9V1301.6M170.5 1291.8V1302.7M171.5 1288.9V1301.6M172.5 1291.5V1300.6M173.5 1291.3V1301M174.5 1289.7V1300.2M175.5 1290.5V1304.5M176.5 1292V1300.1M177.5 1291.8V1300M178.5 1290.9V1302.9M179.5 1291.8V1300.8M180.5 1291.8V1300.5M181.5 1291.7V1300.4M182.5 1291.8V1302M183.5 1291.2V1301.5M184.5 1291V1301.3M185.5 1291.1V1302.2M186.5 1291.8V1302.6M187.5 1292V1300M188.5 1290.7V1300M189.5 1291.9V1300.1M190.5 1291.3V1304.5M191.5 1291.5V1300.4M192.5 1291.5V1300.6M193.5 1291.6V1300.6M194.5 1291.6V1302.3M195.5 1291.5V1301.8M196.5 1291.9V1301.8M197.5 1291.3V1300.5M198.5 1291V1300.9M199.5 1291.3V1300.4M200.5 1290.3V1303.4M201.5 1289.6V1301.5M202.5 1291.9V1300.2M203.5 1291.3V1302.3M204.5 1290.1V1300.6M205.5 1290.3V1302.4M206.5 1288.6V1301.6M207.5 1291.4V1300.1M208.5 1289.5V1300.1M209.5 1291.4V1300.2M210.5 1291.3V1300.2M211.5 1289.3V1304.2M212.5 1291.2V1300.1M213.5 1291.1V1300.2M214.5 1291.9V1301.9M215.5 1290.6V1300.4M216.5 1291.9V1304M217.5 1291.7V1302.8M218.5 1291.1V1301M219.5 1291.1V1300M220.5 1291.2V1301.7M221.5 1290.8V1301M222.5 1290V1300M223.5 1291.5V1301.8M224.5 1290.5V1300.1M225.5 1291.9V1301.8M226.5 1290.5V1300.7M227.5 1290.7V1301.5M228.5 1291.6V1301.7M229.5 1291.4V1300.9M230.5 1291.1V1300.9M231.5 1290.6V1301.5M232.5 1289.9V1303.2M233.5 1291.7V1300.2M234.5 1290.1V1300.7M235.5 1291.2V1301.5M236.5 1291V1300.8M237.5 1291V1304.5M238.5 1291.8V1301.2M239.5 1291.6V1301.8M240.5 1289.4V1301.6M241.5 1291.6V1300.5M242.5 1291.3V1300.9M243.5 1290.1V1301.2M244.5 1292V1301.2M245.5 1289.8V1300.3M246.5 1288.4V1303M247.5 1291.2V1300.8M248.5 1291.6V1301.2M249.5 1291.4V1301.6M250.5 1288.6V1301.5M251.5 1292V1301.1M252.5 1291V1301.2M253.5 1290.1V1301.9M254.5 1289V1300.5M255.5 1287.5V1300.9M256.5 1288.2V1302.7M257.5 1290.3V1302.3M258.5 1291.9V1301M259.5 1291.4V1300.6M260.5 1291.8V1300.8M261.5 1291.9V1301.4M262.5 1291.7V1303.6M263.5 1291V1301.2M264.5 1287.7V1300.1M265.5 1290.6V1300.2M266.5 1290.4V1301.9M267.5 1290.5V1301.4M268.5 1291.4V1303.2M269.5 1291.2V1301.1M270.5 1289.8V1300.3M271.5 1291.3V1300.5M272.5 1289.5V1300.8M273.5 1291.8V1301.5M274.5 1291.8V1300.8M275.5 1291.1V1300.8M276.5 1291.1V1301.9M277.5 1291.8V1300.4M278.5 1291.9V1300.1M279.5 1287.9V1300.9M280.5 1291.3V1303.7M281.5 1291.8V1304.5M282.5 1290.7V1300.1M283.5 1290V1300.7M284.5 1291.7V1300.5M285.5 1290.6V1300.2M286.5 1292V1304.5M287.5 1290.2V1300M288.5 1291.7V1300.4M289.5 1290V1300.1M290.5 1291V1300.1M291.5 1290V1301M292.5 1290.4V1302.6M293.5 1289.6V1300.8M294.5 1290.2V1300.5M295.5 1290.9V1301.4M296.5 1290.7V1301.5M297.5 1289V1301.4M298.5 1291.5V1300.4M299.5 1292V1301.5M300.5 1289.3V1301.6M301.5 1291.4V1302.2M302.5 1287.5V1301.7M303.5 1288.4V1303.3M304.5 1290.2V1301.1M305.5 1288.8V1300.3M306.5 1292V1301.5M307.5 1290.2V1300.5M308.5 1291.5V1300.4M309.5 1291.9V1300.4M310.5 1291.5V1304.5M311.5 1291.7V1302M312.5 1291.4V1301.9M313.5 1291.2V1302.7M314.5 1290.1V1300.1M315.5 1290.9V1300.2M316.5 1289.9V1300.5M317.5 1290.2V1301.2M318.5 1290.5V1300.5M319.5 1291.1V1300.8M320.5 1289V1300.2M321.5 1291.3V1301.9M322.5 1291.4V1300.8M323.5 1291.5V1303.2M324.5 1291.5V1304.4M325.5 1291V1304.1M326.5 1291.8V1300.1M327.5 1287.5V1304.5M328.5 1291V1301.6M329.5 1291.8V1301.1M330.5 1290.5V1302.8M331.5 1289.7V1300.3M332.5 1291.3V1300.5M333.5 1291.4V1300.9M334.5 1290.9V1300.5M335.5 1288.9V1300.3M336.5 1290.5V1303M337.5 1287.9V1300.2M338.5 1291.5V1300.9M339.5 1291.8V1300.4M340.5 1291.7V1304M341.5 1291V1300.8M342.5 1288.4V1303.6M343.5 1292V1300.7M344.5 1291.9V1300.1M345.5 1291.5V1301.2M346.5 1291.1V1301.6M347.5 1291.4V1300.7M348.5 1287.8V1300.9M349.5 1290.3V1300.9M350.5 1291.9V1300.1M351.5 1290.7V1303M352.5 1290.3V1300.4M353.5 1291.8V1301.9M354.5 1291.7V1300.2M355.5 1291.5V1301.5M356.5 1291.6V1302.6M357.5 1292V1300.5M358.5 1288.6V1302.2M359.5 1291.6V1300.8M360.5 1290.3V1301.4M361.5 1291.9V1301.2M362.5 1291.7V1301.6M363.5 1291V1300.2M364.5 1291.5V1301.9M365.5 1290.1V1300.1M366.5 1291.9V1302.1M367.5 1287.8V1303M368.5 1291.5V1303.1M369.5 1291.6V1301.2M370.5 1287.5V1300.4M371.5 1288.5V1300.9M372.5 1291.6V1304.5M373.5 1291.8V1303.2M374.5 1290.9V1300.1M375.5 1292V1300.2M376.5 1291.5V1300.2M377.5 1287.5V1301.7M378.5 1290.8V1302.7M379.5 1290.7V1300.1M380.5 1289.9V1301.1M381.5 1290.5V1300.9M382.5 1291.2V1300.1M383.5 1287.5V1301.8M384.5 1290.9V1300.9M385.5 1290.9V1301.4M386.5 1290.1V1300.9M387.5 1291.2V1301.7M388.5 1287.5V1300.2M389.5 1290.4V1304.5M390.5 1292V1304.5M391.5 1287.5V1300.2M392.5 1291.8V1300.6M393.5 1290.4V1300.1M394.5 1290.3V1302.2M395.5 1291.9V1300.1M396.5 1289.6V1300.8M397.5 1291.6V1300.4M398.5 1289.9V1300.7M399.5 1291.8V1300M400.5 1291.1V1304M401.5 1291.2V1300.1M402.5 1291.5V1300.3M403.5 1289.2V1303.8M404.5 1288.2V1301.7M405.5 1291.9V1300.6M406.5 1291.6V1301M407.5 1291.6V1301.4M408.5 1292V1300.6M409.5 1291.5V1300.4M410.5 1291.1V1301.8M411.5 1291.7V1300.7M412.5 1290.8V1300.1M413.5 1288.7V1301.9M414.5 1291.1V1300.2M415.5 1291.9V1300.2M416.5 1289V1301.7M417.5 1289.7V1303.5M418.5 1291.5V1301M419.5 1289.4V1300.4M420.5 1291.6V1300.3M421.5 1289.6V1302.2M422.5 1291.3V1301.4M423.5 1290.4V1304.5M424.5 1289.4V1302.1M425.5 1290.8V1300.8M426.5 1291.3V1300.1M427.5 1291.7V1300.6M428.5 1291.9V1300.8M429.5 1290.3V1300.9M430.5 1291.2V1300.2M431.5 1290.3V1300.6M432.5 1291.7V1300.1M433.5 1289.9V1302.2M434.5 1291V1300.7M435.5 1288.8V1302.8M436.5 1291.1V1302.2M437.5 1291.5V1300.4M438.5 1289.6V1301.2M439.5 1291.6V1303.3M440.5 1291.2V1300.3M441.5 1291V1301.1M442.5 1289.5V1301.7M443.5 1291.2V1301.1M444.5 1289.2V1300.3M445.5 1292V1300.3M446.5 1289.7V1300.4M447.5 1291.7V1302.6M448.5 1292V1300.3M449.5 1289.9V1300.3M450.5 1291V1300.7M451.5 1290.7V1300.2M452.5 1291.5V1300.7M453.5 1287.5V1300.2M454.5 1291V1301.4M455.5 1291.4V1301.5M456.5 1291.1V1301.8M457.5 1291.3V1301.2M458.5 1290.6V1300M459.5 1291V1301M460.5 1289.2V1300.1M461.5 1288.5V1301M462.5 1288.4V1303.1M463.5 1291.9V1301.4M464.5 1291.9V1301.1M465.5 1291.8V1300.8M466.5 1288.9V1300.1M467.5 1291.6V1303.8M468.5 1287.6V1300.7M469.5 1291.6V1301.1M470.5 1291.9V1301.2M471.5 1288.3V1301.8M472.5 1291.7V1300.6M473.5 1291.7V1300.9M474.5 1291.5V1303.5M475.5 1292V1300.9M476.5 1291.6V1302.6M477.5 1290.4V1300.2M478.5 1291.1V1300.2M479.5 1247.5V1301.6M480.5 1250V1302.6M481.5 1291.5V1300.5M482.5 1253.1V1300.7M483.5 1251.9V1301.3M484.5 1291.4V1300.4M485.5 1250.6V1300.4M486.5 1250.7V1300.7M487.5 1250.2V1301.6M488.5 1290.8V1300.2M489.5 1289.2V1300.2M490.5 1289.1V1300.2M491.5 1291.9V1300.2M492.5 1291.9V1300.7M493.5 1289.8V1303.9M494.5 1287.8V1300.4M495.5 1291.7V1303.3M496.5 1291.2V1301.6M497.5 1291.8V1300.9M498.5 1290.7V1302.4M499.5 1289.6V1301.2M500.5 1291.5V1300.2M501.5 1291.4V1301M502.5 1291.7V1302.2M503.5 1290.9V1301.6M504.5 1291.5V1304.3M505.5 1289.9V1301.3M506.5 1291.4V1301.1M507.5 1291.1V1300.3M508.5 1291.8V1301.8M509.5 1291.2V1300.1M510.5 1289.9V1300.1M511.5 1291.2V1302M512.5 1291.9V1300M513.5 1291.2V1301M514.5 1291.6V1300.2M515.5 1290.6V1301.4M516.5 1291.9V1302.2M517.5 1291.2V1300.9M518.5 1291.8V1300.6M519.5 1291.5V1302.9M520.5 1289V1301.5M521.5 1292V1301.7M522.5 1291.7V1300.3M523.5 1292V1301.3M524.5 1291V1300.2M525.5 1291.4V1300.6M526.5 1289.9V1300.3M527.5 1289.6V1304.5M528.5 1289.1V1301.7M529.5 1291.4V1300.8M530.5 1292V1301.6M531.5 1291.1V1301.6M532.5 1291.7V1300.7M533.5 1291.2V1301.4M534.5 1289.4V1301.3M535.5 1290.9V1300.2M536.5 1291.3V1302.4M537.5 1289.4V1300.1M538.5 1291.7V1301.5M539.5 1289.9V1300.7M540.5 1291.3V1300.2M541.5 1292V1303.1M542.5 1290.1V1300.4M543.5 1291.6V1302.2M544.5 1291.5V1300M545.5 1291V1301.1M546.5 1290.7V1302.2M547.5 1291.9V1300.6M548.5 1288.4V1301.3M549.5 1291V1303M550.5 1289.7V1300.6M551.5 1291.9V1300.2M552.5 1291.7V1300.9M553.5 1291.3V1301.8M554.5 1291.8V1300.4M555.5 1290.8V1301.9M556.5 1290.2V1301.6M557.5 1289.9V1300.3M558.5 1289.8V1300.9M559.5 1291.7V1300.7M560.5 1289.8V1300.7M561.5 1291.4V1300.8M562.5 1290.1V1301M563.5 1291.4V1302.9M564.5 1291.5V1304.5M565.5 1291.9V1300.8M566.5 1288.3V1301.5M567.5 1292V1300.2M568.5 1291.7V1301.6M569.5 1290.5V1300.5M570.5 1291.6V1300.7M571.5 1287.9V1301.2M572.5 1291.7V1300.8M573.5 1291.8V1300.2M574.5 1291.7V1300.4M575.5 1291.8V1300.1M576.5 1287.5V1302.4M577.5 1291.9V1301.1M578.5 1291.4V1300.9M579.5 1291.5V1300.7M580.5 1290.4V1300M581.5 1291.5V1301M582.5 1291.6V1302.2M583.5 1291.3V1300.2M584.5 1291.3V1300.6M585.5 1290.6V1302.3M586.5 1291.6V1300.4M587.5 1290.7V1302M588.5 1291.3V1302.4M589.5 1292V1300.1M590.5 1291.3V1304.5M591.5 1291.2V1300.4M592.5 1290.9V1300.1M593.5 1290.5V1302.1M594.5 1287.5V1300.1M595.5 1291.9V1301.4M596.5 1291.5V1302M597.5 1291V1301.5M598.5 1291.9V1304.5M599.5 1289.1V1301.8M600.5 1291.8V1302.8M601.5 1289.8V1304.1M602.5 1291.8V1300.2M603.5 1292V1300.7M604.5 1290.6V1301.3M605.5 1291.9V1302.2M606.5 1290.4V1300.3M607.5 1290.8V1300.9M608.5 1287.5V1301.2M609.5 1290V1304.3M610.5 1252.3V1300.2M611.5 1254.3V1301.4M612.5 1288.7V1303.2M613.5 1288.2V1300.8M614.5 1288.4V1300.6M615.5 1287.5V1300.4M616.5 1290.3V1301.3M617.5 1290.7V1300.2M618.5 1290.4V1301.8M619.5 1289.1V1300.4M620.5 1288V1300.4M621.5 1290.5V1300.6M622.5 1289.7V1300M623.5 1287.5V1300.4M624.5 1289.9V1300.2M625.5 1290.3V1301M626.5 1291.5V1300.2M627.5 1291.7V1301.2M628.5 1290.6V1300.8M629.5 1291.5V1301M630.5 1289.7V1300.2M631.5 1290.2V1301.7M632.5 1290V1303.5M633.5 1290.9V1304.2M634.5 1291.5V1300.1M635.5 1289.8V1300.7M636.5 1290.4V1301.5M637.5 1291.5V1301M638.5 1291.7V1300.2M639.5 1287.5V1302.6M640.5 1289.8V1302.5M641.5 1291.9V1302.5M642.5 1292V1301.5M643.5 1291.6V1300.1M644.5 1289.1V1301.8M645.5 1291.1V1301.5M646.5 1291.1V1302.6M647.5 1291.9V1300.7M648.5 1291.2V1304.5M649.5 1291.8V1300.2M650.5 1291.8V1301.5M651.5 1290V1300.1M652.5 1291.1V1301.7M653.5 1288.4V1304.3M654.5 1289.3V1303.5M655.5 1287.8V1300M656.5 1291.6V1301.5M657.5 1289.9V1300.8M658.5 1291.3V1302.2M659.5 1287.7V1301.4M660.5 1289.2V1300.7M661.5 1288.4V1301.1M662.5 1291.8V1301.6M663.5 1291.6V1300M664.5 1290.7V1300.1M665.5 1289.4V1300.9M666.5 1290.9V1300.9M667.5 1291.6V1303.1M668.5 1291.5V1300.5M669.5 1291.6V1300.3M670.5 1291.8V1300.2" fill="none" stroke="#0000ff" stroke-width="1"/>
<path d="M91.5 1258.6V1291.2M122.5 1286.8V1290.8M161.5 1280.4V1291.2M162.5 1281.4V1290M170.5 1278V1291.8M171.5 1277V1288.9M302.5 1276.4V1287.5M382.5 1280.3V1291.2M400.5 1287.2V1291.1M460.5 1258.6V1289.2M484.5 1221.2V1291.4M488.5 1250.9V1290.8M546.5 1266.3V1290.7M553.5 1265V1291.3M554.5 1262.1V1291.8M566.5 1281.4V1288.3M607.5 1258.3V1290.8M626.5 1287.6V1291.5" fill="none" stroke="#0000ff" stroke-width="1" stroke-opacity="0.65"/>
<path d="M914.5 1163.1V1173.7M915.5 1163.2V1175.1M916.5 1163.7V1173.7M917.5 1163.9V1173.2M918.5 1162.7V1174.1M919.5 1163.3V1172.7M920.5 1163.6V1172.9M921.5 1164.3V1173.5M922.5 1164.2V1173.4M923.5 1164.5V1173.5M924.5 1160.2V1173.1M925.5 1162V1172.7M926.5 1163.5V1172.5M927.5 1164.5V1174.1M928.5 1163.6V1175.9M929.5 1164V1173.2M930.5 1162.2V1176.1M931.5 1163.8V1175.2M932.5 1161.8V1177M933.5 1162.6V1174.5M934.5 1160V1173.2M935.5 1164.2V1177M936.5 1164V1173.1M937.5 1102.4V1172.7M938.5 1102.9V1112.3M939.5 1101.8V1113.6M940.5 1102.9V1112.3M941.5 1102.3V1113.9M942.5 1101.3V1112.8M943.5 1097.7V1113.1M944.5 1099.3V1112.8M945.5 1102.6V1120.2M946.5 1102.8V1112.2M947.5 1098.9V1115.1M948.5 1101.8V1112.2M949.5 1100.6V1115.3M950.5 1100.1V1114.5M951.5 1098.7V1112.5M952.5 1101.9V1112.7M953.5 1096.3V1119.6M954.5 1101.7V1112.5M955.5 1102.2V1114M956.5 1101.9V1116.9M957.5 1101.3V1113.3M958.5 1102.5V1113.1M959.5 1101.8V1114.5M960.5 1101.3V1120.7M961.5 1102.8V1116M962.5 1102.3V1173M963.5 1164.4V1174.3M964.5 1162.6V1174.6M965.5 1164.5V1174.2M966.5 1164.4V1173M967.5 1160V1173.2M968.5 1162.3V1174M969.5 1163.7V1172.7M970.5 1160V1173.3M971.5 1161.9V1176.3M972.5 1163.3V1175M973.5 1160V1172.7M974.5 1164.2V1172.5M975.5 1164V1173.8M976.5 1161.9V1177M977.5 1164.1V1174.3M978.5 1160V1173.1M979.5 1164V1173.6M980.5 1160V1173.5M981.5 1163.3V1174.6M982.5 1163.6V1173.9M983.5 1162.4V1174M984.5 1160V1172.8M985.5 1164V1172.6M986.5 1164.3V1172.5M987.5 1163.7V1177M988.5 1164.1V1174.2M989.5 1162.5V1174.9M990.5 1160.8V1176.5M991.5 1162.2V1173.6M992.5 1101.8V1172.6M993.5 1102.3V1120.9M994.5 1102.9V1112.4M995.5 1101.3V1173.1M996.5 1163.4V1173.4M997.5 1163.9V1172.9M998.5 1163.3V1174.2M999.5 1163.6V1175.6M1000.5 1162.3V1172.9M1001.5 1163V1173.2M1002.5 1162V1173.5M1003.5 1163.8V1172.8M1004.5 1164.3V1173.3M1005.5 1164.2V1174M1006.5 1160.5V1173.1M1007.5 1162.3V1174.6M1008.5 1160V1173.7M1009.5 1164.2V1173.2M1010.5 1163.3V1173.3M1011.5 1163.7V1174M1012.5 1102.1V1172.6M1013.5 1101.2V1113.9M1014.5 1097.9V1115.5M1015.5 1101.1V1113M1016.5 1101.8V1112.9M1017.5 1101.3V1113.2M1018.5 1102V1117.7M1019.5 1100.4V1115.6M1020.5 1102.5V1113M1021.5 1102.1V1112.5M1022.5 1101.9V1115.1M1023.5 1099V1113.2M1024.5 1102.8V1114.9M1025.5 1098.5V1173.8M1026.5 1163.8V1172.9M1027.5 1162.5V1176.9M1028.5 1164V1173.3M1029.5 1161.2V1174.5M1030.5 1098V1172.9M1031.5 1102.5V1116.6M1032.5 1101.8V1123.7M1033.5 1101.1V1114.5M1034.5 1102.8V1113.4M1035.5 1101.6V1113.5M1036.5 1102V1115.9M1037.5 1101.3V1112.1M1038.5 1097.4V1114.4M1039.5 1102.3V1115.6M1040.5 1102V1113.1M1041.5 1101.9V1116.1M1042.5 1102.6V1113.9M1043.5 1100.8V1173.8M1044.5 1162.1V1174.2M1045.5 1163.9V1175.4M1046.5 1163V1173.3M1047.5 1164.1V1172.9M1048.5 1164.4V1173.3M1049.5 1164.1V1172.9M1050.5 1164.3V1174.4M1051.5 1101.5V1174.2M1052.5 1102.9V1113.8M1053.5 1101.2V1113.2M1054.5 1102.9V1114.2M1055.5 1101.6V1116.7M1056.5 1101.7V1114.7M1057.5 1102.4V1113.3M1058.5 1101.3V1112.1M1059.5 1102.7V1116.9M1060.5 1101.1V1173.9M1061.5 1164.5V1173.5M1062.5 1161.8V1173.8M1063.5 1163.1V1173.1M1064.5 1163.9V1173.1M1065.5 1162.6V1172.9M1066.5 1163.6V1172.8M1067.5 1161.3V1172.9M1068.5 1164.1V1173.2M1069.5 1162.3V1173M1070.5 1163.8V1173.4M1071.5 1163V1173M1072.5 1164.3V1173.1M1073.5 1162.7V1175.3M1074.5 1164.2V1173M1075.5 1161.9V1172.5M1076.5 1164.2V1173.2M1077.5 1164.2V1172.8M1078.5 1164.4V1172.6M1079.5 1099V1173.4M1080.5 1102.9V1112.3M1081.5 1102.9V1115.5M1082.5 1101.9V1112M1083.5 1102V1112.8M1084.5 1102.4V1112.9M1085.5 1102.8V1112.3M1086.5 1100.4V1118.8M1087.5 1100.8V1112.1M1088.5 1099V1115.5M1089.5 1100V1114.7M1090.5 1102.7V1112.7M1091.5 1099.4V1115.6M1092.5 1102.3V1123.1M1093.5 1100.8V1112.4M1094.5 1102.4V1113M1095.5 1102.8V1113.4M1096.5 1101.1V1112.8M1097.5 1102.6V1113.3M1098.5 1102.9V1113M1099.5 1100.5V1113.5M1100.5 1100.1V1114.7M1101.5 1103V1112.5M1102.5 1102.9V1174.4M1103.5 1163.2V1177M1104.5 1163.4V1173.4M1105.5 1161.6V1172.9M1106.5 1163.5V1172.6M1107.5 1161.9V1173.1M1108.5 1163.6V1173.7M1109.5 1162.1V1174.1M1110.5 1164.1V1172.6M1111.5 1164.2V1173.9M1112.5 1163.4V1177M1113.5 1161.6V1173.8M1114.5 1164.4V1174.3M1115.5 1102.1V1173.2M1116.5 1101.4V1113.8M1117.5 1101.5V1113.3M1118.5 1102.6V1120.2M1119.5 1102.3V1172.7M1120.5 1162.1V1173M1121.5 1164.4V1172.8M1122.5 1162.3V1173.1M1123.5 1164V1174.3M1124.5 1163.5V1173.3M1125.5 1162.2V1172.8M1126.5 1164.1V1174M1127.5 1160.5V1175.2M1128.5 1164.1V1175.6M1129.5 1161.6V1175.1M1130.5 1160V1174.8M1131.5 1163.5V1172.9M1132.5 1162V1173.5M1133.5 1163.2V1172.7M1134.5 1162.8V1174.7M1135.5 1162.6V1173.3M1136.5 1163.1V1173.1M1137.5 1102.3V1173.5M1138.5 1099.7V1112.3M1139.5 1102.6V1113.5M1140.5 1101.7V1113.3M1141.5 1100.4V1112.5M1142.5 1102.5V1112.8M1143.5 1102.6V1115.5M1144.5 1098.3V1112.5M1145.5 1101.3V1173.1M1146.5 1164.5V1173.6M1147.5 1161.3V1172.9M1148.5 1162.7V1172.6M1149.5 1163.5V1174.3M1150.5 1164V1173.2M1151.5 1164.2V1173.8M1152.5 1164.2V1172.5M1153.5 1164.5V1172.5M1154.5 1099.6V1173.8M1155.5 1099V1113.7M1156.5 1102.1V1113M1157.5 1102.3V1112.7M1158.5 1100.6V1113.1M1159.5 1102.7V1112.5M1160.5 1102.5V1174.2M1161.5 1163.8V1173.3M1162.5 1163.6V1172.8M1163.5 1164V1172.6M1164.5 1163V1173.9M1165.5 1161.5V1176.2M1166.5 1163.8V1173M1167.5 1164V1172.7M1168.5 1164.2V1175M1169.5 1164.2V1174M1170.5 1160.5V1173.7M1171.5 1163V1173M1172.5 1163.3V1172.5M1173.5 1163.9V1172.6M1174.5 1164.3V1174.1M1175.5 1164.3V1173.1M1176.5 1164.2V1173.7M1177.5 1162.7V1177M1178.5 1164.2V1175.6M1179.5 1163.7V1177M1180.5 1164.2V1172.5M1181.5 1102V1173.7M1182.5 1101.3V1112.6M1183.5 1101.4V1116.6M1184.5 1100.5V1118.6M1185.5 1101.8V1112.3M1186.5 1103V1112.3M1187.5 1101.8V1112M1188.5 1102.9V1116.9M1189.5 1102.6V1112.2M1190.5 1102.9V1118.5M1191.5 1101.3V1113.9M1192.5 1102.8V1115.2M1193.5 1101.6V1113.4M1194.5 1101.8V1118.8M1195.5 1102.5V1112.3M1196.5 1102.8V1116M1197.5 1102V1112.9M1198.5 1102.1V1115.8M1199.5 1102.9V1113.4M1200.5 1102.5V1114.1M1201.5 1098.4V1112.9M1202.5 1102.5V1117.8M1203.5 1101.4V1113.3M1204.5 1103V1116.7M1205.5 1098.6V1116.6M1206.5 1100.3V1113.4M1207.5 1100.8V1120.1M1208.5 1101.5V1114.1M1209.5 1099.5V1112.1M1210.5 1102V1114.1M1211.5 1101.9V1114.4M1212.5 1097.7V1174.4M1213.5 1162.6V1173.1M1214.5 1164.3V1173.1M1215.5 1163.2V1172.8M1216.5 1162.2V1172.6M1217.5 1162.8V1173M1218.5 1162.5V1176.3M1219.5 1101.8V1173.4M1220.5 1102.1V1113.6M1221.5 1101.7V1113.2M1222.5 1102.5V1116.2M1223.5 1102.2V1112.9M1224.5 1102.8V1114.5M1225.5 1101.3V1117.2M1226.5 1102.4V1113M1227.5 1102.1V1117.6M1228.5 1101.1V1113M1229.5 1102.7V1115M1230.5 1102.2V1114.8M1231.5 1102.1V1114.3M1232.5 1101.9V1112.4M1233.5 1103V1112.7M1234.5 1103V1112.3M1235.5 1102.2V1114.4M1236.5 1100.9V1113.4M1237.5 1100.6V1112.7M1238.5 1102.9V1173M1239.5 1163.6V1173.3M1240.5 1160.7V1172.6M1241.5 1163.2V1177M1242.5 1164.4V1173.2M1243.5 1164.4V1172.9M1244.5 1163.5V1172.7M1245.5 1162.2V1175.2M1246.5 1164.3V1173.2M1247.5 1163.4V1173.1M1248.5 1163.8V1173.9M1249.5 1163.9V1172.7M1250.5 1163.3V1175M1251.5 1164.2V1174.4M1252.5 1100.1V1174M1253.5 1101.1V1115.7M1254.5 1100.5V1114.7M1255.5 1101.3V1115.9M1256.5 1102V1114.3M1257.5 1102.3V1112.1M1258.5 1100V1115.2M1259.5 1102.4V1115.5M1260.5 1101.2V1114.3M1261.5 1102.7V1173.2M1262.5 1162V1172.7M1263.5 1163.8V1172.5M1264.5 1164.2V1173M1265.5 1161.5V1174.6M1266.5 1164.5V1173.1M1267.5 1164.2V1174.8M1268.5 1164.4V1177M1269.5 1164.5V1175.3M1270.5 1163.9V1173.2M1271.5 1164.5V1172.8M1272.5 1164.4V1173.3M1273.5 1162.4V1176M1274.5 1163.6V1172.8M1275.5 1161.4V1174.1M1276.5 1164.4V1176.8M1277.5 1164.3V1173.6M1278.5 1160V1173.3M1279.5 1161.8V1174.6M1280.5 1162.4V1174.4M1281.5 1163.6V1172.7M1282.5 1102.5V1173.2M1283.5 1101.9V1119.6M1284.5 1099.9V1113M1285.5 1099.1V1113.7M1286.5 1101.7V1113.3M1287.5 1100.4V1112.6M1288.5 1102.6V1116.5M1289.5 1102.2V1113.7M1290.5 1100.2V1112.8M1291.5 1102.9V1115.1M1292.5 1098.6V1115.1M1293.5 1100.2V1112.9M1294.5 1102.8V1113.5M1295.5 1102.5V1112.8M1296.5 1101.8V1113M1297.5 1099.8V1114.5M1298.5 1101.8V1113.4M1299.5 1102.8V1114.9M1300.5 1101.7V1173.6M1301.5 1163.3V1173.9M1302.5 1163.9V1174.1M1303.5 1163.9V1174.5M1304.5 1164.4V1172.7M1305.5 1164.5V1173.5M1306.5 1099.7V1173.8M1307.5 1102.9V1112.2M1308.5 1101V1173.9M1309.5 1164.2V1174.1M1310.5 1160V1173.1M1311.5 1163.9V1177M1312.5 1163.9V1173.8M1313.5 1160.3V1173M1314.5 1163.1V1173.7M1315.5 1160V1175.7M1316.5 1163.4V1173.7M1317.5 1164.2V1175.5M1318.5 1164.2V1172.7M1319.5 1162.5V1172.7M1320.5 1163.5V1172.6M1321.5 1161.8V1173M1322.5 1162.6V1174.3M1323.5 1164.4V1174.7M1324.5 1163V1172.9M1325.5 1161.4V1173M1326.5 1164.5V1175.4M1327.5 1164V1174.3M1328.5 1160V1175.5M1329.5 1164.3V1173M1330.5 1163.3V1173.1M1331.5 1163.2V1174.6M1332.5 1163V1172.9M1333.5 1160.5V1172.7M1334.5 1164.4V1173.3M1335.5 1162.2V1174M1336.5 1162.3V1173.2M1337.5 1164.4V1176.1M1338.5 1164.1V1172.6M1339.5 1164.4V1175.5M1340.5 1163.1V1173.2M1341.5 1163.8V1173.3M1342.5 1161.6V1172.9M1343.5 1162.5V1172.5M1344.5 1164.5V1172.5M1345.5 1163.9V1173M1346.5 1164.1V1172.5M1347.5 1164.4V1177M1348.5 1164.2V1177M1349.5 1163.1V1176.7M1350.5 1164.5V1175.7M1351.5 1161.5V1173.2M1352.5 1163.9V1172.6M1353.5 1164V1173M1354.5 1163.2V1172.6M1355.5 1164.4V1172.6M1356.5 1163.5V1173M1357.5 1163.7V1173.9M1358.5 1162.8V1172.8M1359.5 1162.1V1172.6M1360.5 1164.2V1173.1M1361.5 1161.8V1174.3M1362.5 1163.1V1172.8M1363.5 1164.3V1174.1M1364.5 1161.1V1173.3M1365.5 1163V1173.7M1366.5 1163.7V1173.3M1367.5 1163.9V1177M1368.5 1163.9V1173.2M1369.5 1164.2V1172.6M1370.5 1163.8V1174.2M1371.5 1162.2V1173.1M1372.5 1163.3V1172.6M1373.5 1163.9V1172.6M1374.5 1164.4V1173M1375.5 1164.3V1173.4M1376.5 1164.2V1172.6M1377.5 1163.9V1172.8M1378.5 1164.5V1173.3M1379.5 1164.1V1173M1380.5 1162.3V1173.1M1381.5 1164.3V1172.5M1382.5 1160.8V1175.3M1383.5 1163.2V1172.7M1384.5 1164.3V1172.6M1385.5 1163.5V1174.1M1386.5 1162.4V1173.4M1387.5 1163.8V1174M1388.5 1162.4V1174.2M1389.5 1163.6V1172.7M1390.5 1162.8V1172.9M1391.5 1164.1V1174.3M1392.5 1164.3V1173M1393.5 1162.7V1174.6M1394.5 1162V1175.1M1395.5 1162.4V1172.5M1396.5 1163.3V1175.2M1397.5 1163V1172.6M1398.5 1163.6V1172.7M1399.5 1160V1173.2M1400.5 1163.3V1173.4M1401.5 1163.8V1172.9M1402.5 1161.7V1173M1403.5 1162.2V1173.7M1404.5 1162.6V1172.7M1405.5 1164V1173.5M1406.5 1163.1V1172.6M1407.5 1102.9V1173M1408.5 1102.9V1118.9M1409.5 1102.5V1112.1M1410.5 1102.8V1117.6M1411.5 1101.1V1114M1412.5 1100.5V1112.9M1413.5 1100V1175.8M1414.5 1164.2V1172.8M1415.5 1163.8V1174.9M1416.5 1162.3V1173M1417.5 1164.3V1172.7M1418.5 1163.4V1174.1M1419.5 1163V1176.1M1420.5 1162.1V1173.5M1421.5 1164.5V1174.2M1422.5 1163.7V1172.7M1423.5 1160.5V1172.9M1424.5 1163.4V1173.4M1425.5 1164V1173.5M1426.5 1163.3V1172.9M1427.5 1161.9V1172.6M1428.5 1102.5V1173.3M1429.5 1100.7V1112.9M1430.5 1102.8V1113.1M1431.5 1102.9V1122.2M1432.5 1101.8V1112.9M1433.5 1101.2V1118.3M1434.5 1102.3V1112.4M1435.5 1102.5V1114.8M1436.5 1099.6V1112.5M1437.5 1101.5V1116.1M1438.5 1102.9V1116.9M1439.5 1100.8V1112.7M1440.5 1102.5V1112.1M1441.5 1102.6V1112.3M1442.5 1101.7V1121.2M1443.5 1100.2V1117.5M1444.5 1102.7V1113M1445.5 1100.3V1116.1M1446.5 1102.7V1112.8M1447.5 1103V1118.6M1448.5 1100.9V1173M1449.5 1163.1V1173.9M1450.5 1164.4V1177M1451.5 1164.3V1174.1M1452.5 1160V1172.9M1453.5 1102.3V1175.6M1454.5 1099.7V1112.2M1455.5 1102.7V1112.9M1456.5 1102.8V1113.7M1457.5 1102V1114.6M1458.5 1102.1V1112M1459.5 1102.2V1174.4M1460.5 1164.3V1172.7M1461.5 1160V1173.4M1462.5 1163.2V1173.7M1463.5 1164.5V1175.1M1464.5 1163.8V1173.7M1465.5 1100.9V1172.6M1466.5 1101.4V1114.6M1467.5 1102.9V1112M1468.5 1099.6V1114.9M1469.5 1102.5V1125M1470.5 1100.9V1112.9M1471.5 1101.2V1112.8M1472.5 1102.6V1113.5M1473.5 1103V1115.8M1474.5 1102.7V1114.2M1475.5 1101.7V1113.6M1476.5 1102.7V1112.2M1477.5 1100.9V1112.7M1478.5 1102.4V1114.8M1479.5 1100.5V1172.7M1480.5 1163.3V1172.5M1481.5 1160V1176.2M1482.5 1162.9V1176.8M1483.5 1102.9V1172.9M1484.5 1102.8V1123.3M1485.5 1102.8V1117.1M1486.5 1100.3V1115.3M1487.5 1102.5V1113.2M1488.5 1102V1112M1489.5 1098.2V1118M1490.5 1102.8V1112.9M1491.5 1099.6V1114.2M1492.5 1102.1V1174.2" fill="none" stroke="#ff0000" stroke-width="1"/>
<path d="M914.5 1126.3V1163.1M933.5 1120.1V1162.6M965.5 1106.3V1164.5M970.5 1110.1V1160M973.5 1110.9V1160M982.5 1107.2V1163.6M1067.5 1109.3V1161.3M1075.5 1111.9V1161.9M1161.5 1084.7V1163.8M1170.5 1117.9V1160.5M1245.5 1117.7V1162.2M1248.5 1125.4V1163.8M1270.5 1111.1V1163.9M1272.5 1114.8V1164.4M1340.5 1111.6V1163.1M1353.5 1143V1164M1371.5 1111.5V1162.2M1383.5 1113.7V1163.2M1392.5 1122.2V1164.3M1394.5 1135.8V1162M1423.5 1110.7V1160.5M939.5 1113.6V1172.9M940.5 1112.3V1173.5M942.5 1112.8V1173.7M943.5 1113.1V1154.2M944.5 1112.8V1129.9M958.5 1113.1V1134.3M960.5 1120.7V1173M1014.5 1115.5V1173.3M1021.5 1112.5V1173.6M1031.5 1116.6V1173.4M1032.5 1123.7V1172.7M1035.5 1113.5V1123.4M1040.5 1113.1V1136.8M1041.5 1116.1V1173.9M1042.5 1113.9V1141M1053.5 1113.2V1158.1M1081.5 1115.5V1173.9M1085.5 1112.3V1174.1M1088.5 1115.5V1175.5M1096.5 1112.8V1123.9M1097.5 1113.3V1174.6M1098.5 1113V1175.6M1100.5 1114.7V1175.9M1116.5 1113.8V1149.6M1117.5 1113.3V1176.8M1140.5 1113.3V1172.6M1141.5 1112.5V1125.5M1142.5 1112.8V1173.8M1155.5 1113.7V1134.2M1159.5 1112.5V1175.3M1185.5 1112.3V1173.7M1187.5 1112V1149.8M1188.5 1116.9V1173M1189.5 1112.2V1172.9M1193.5 1113.4V1124.4M1194.5 1118.8V1175.3M1197.5 1112.9V1123.5M1201.5 1112.9V1136.7M1205.5 1116.6V1172.9M1206.5 1113.4V1157.5M1207.5 1120.1V1173.1M1208.5 1114.1V1149.5M1209.5 1112.1V1137.4M1226.5 1113V1172.9M1228.5 1113V1173.5M1232.5 1112.4V1172.5M1234.5 1112.3V1174.1M1257.5 1112.1V1173.1M1259.5 1115.5V1173.1M1260.5 1114.3V1175.8M1284.5 1113V1173.4M1285.5 1113.7V1124.9M1286.5 1113.3V1131.1M1291.5 1115.1V1173.5M1292.5 1115.1V1148M1293.5 1112.9V1173.9M1294.5 1113.5V1130.5M1298.5 1113.4V1172.9M1307.5 1112.2V1173.8M1408.5 1118.9V1175.7M1433.5 1118.3V1158M1438.5 1116.9V1153M1441.5 1112.3V1172.9M1442.5 1121.2V1130.8M1446.5 1112.8V1174.8M1454.5 1112.2V1121M1456.5 1113.7V1128.4M1458.5 1112V1176M1469.5 1125V1173.8M1472.5 1113.5V1124.6M1489.5 1118V1174" fill="none" stroke="#ff0000" stroke-width="1" stroke-opacity="0.65"/>
<path d="M914.5 1294.3V1304.9M915.5 1292.3V1305.6M916.5 1296.2V1306.2M917.5 1296.5V1306.2M918.5 1296.6V1305.1M919.5 1294.7V1304.8M920.5 1296.5V1306.2M921.5 1294V1305.2M922.5 1294.5V1305.2M923.5 1295.2V1306.4M924.5 1295.1V1305M925.5 1296.4V1309.3M926.5 1295.9V1305.4M927.5 1295.7V1306.3M928.5 1296.3V1305.4M929.5 1294.8V1305.6M930.5 1296.6V1306.5M931.5 1295.8V1308.5M932.5 1293.8V1308.4M933.5 1295.8V1304.9M934.5 1296.1V1307.7M935.5 1296.3V1306M936.5 1293.2V1305M937.5 1292.3V1304.9M938.5 1296.7V1304.8M939.5 1296.7V1307.2M940.5 1296.5V1306.4M941.5 1296.8V1305.2M942.5 1292.4V1305.3M943.5 1296.8V1306M944.5 1295.8V1306M945.5 1295.6V1305.9M946.5 1296.5V1304.8M947.5 1296.6V1307.1M948.5 1295.9V1304.8M949.5 1296.3V1306.2M950.5 1292.3V1305.8M951.5 1295.8V1305.2M952.5 1296.5V1307.6M953.5 1295.1V1308.7M954.5 1296.8V1304.9M955.5 1296.8V1305.3M956.5 1295.6V1306.9M957.5 1292.3V1305.1M958.5 1296.6V1305.8M959.5 1295V1304.9M960.5 1296.3V1305.6M961.5 1293.3V1306.2M962.5 1296.6V1305M963.5 1296.8V1305.6M964.5 1295.1V1306.4M965.5 1296.7V1305.5M966.5 1293.5V1305.2M967.5 1296.5V1306.8M968.5 1296.2V1305M969.5 1295.7V1306.4M970.5 1294.7V1307.2M971.5 1295.4V1304.9M972.5 1296.4V1305.3M973.5 1296.4V1307.4M974.5 1296.1V1305.8M975.5 1296.2V1306M976.5 1295.6V1308M977.5 1296.6V1307.5M978.5 1296.7V1305.6M979.5 1295.6V1306.6M980.5 1292.3V1305.6M981.5 1294.4V1307.9M982.5 1295.4V1306.1M983.5 1295.9V1305.2M984.5 1296.6V1308.9M985.5 1295.3V1305.8M986.5 1294V1309.3M987.5 1294.1V1306.5M988.5 1295.9V1307.4M989.5 1296V1305.2M990.5 1296.2V1305M991.5 1296V1305.5M992.5 1296V1305.1M993.5 1292.3V1305.7M994.5 1295.3V1305.1M995.5 1296V1306.7M996.5 1296.6V1307M997.5 1296.5V1307.3M998.5 1296.1V1305.1M999.5 1296.8V1305.7M1000.5 1296.3V1305.3M1001.5 1296.7V1309.3M1002.5 1296.4V1305.9M1003.5 1294V1305.8M1004.5 1296.2V1305.7M1005.5 1296.6V1306.2M1006.5 1296.3V1309.3M1007.5 1295.4V1305M1008.5 1296.6V1306.3M1009.5 1296.1V1305.7M1010.5 1295.7V1306.2M1011.5 1296.4V1305.7M1012.5 1296.4V1306.2M1013.5 1295.2V1306.3M1014.5 1296.6V1306.7M1015.5 1293.6V1305.9M1016.5 1296.6V1305.5M1017.5 1295.6V1306.9M1018.5 1296.6V1306.3M1019.5 1294.3V1306.2M1020.5 1296.6V1307.6M1021.5 1296.1V1304.9M1022.5 1293.1V1305.4M1023.5 1295.5V1305.5M1024.5 1295.6V1305.6M1025.5 1295.1V1308.3M1026.5 1296.5V1305.7M1027.5 1296.7V1304.8M1028.5 1292.3V1305M1029.5 1295.1V1306M1030.5 1294.3V1308.3M1031.5 1296.2V1305.9M1032.5 1296.7V1305M1033.5 1295V1306.2M1034.5 1294.6V1305.8M1035.5 1296.6V1305.6M1036.5 1296.1V1305.5M1037.5 1295.7V1305.1M1038.5 1296.7V1305.2M1039.5 1295.5V1305.3M1040.5 1295.7V1305.4M1041.5 1295.5V1306.2M1042.5 1296.5V1306.2M1043.5 1253.2V1306.2M1044.5 1254V1304.9M1045.5 1253.1V1305.6M1046.5 1296.5V1305.4M1047.5 1296.2V1305.9M1048.5 1292.3V1305.8M1049.5 1296.1V1306.7M1050.5 1296.2V1305.4M1051.5 1295.1V1305.5M1052.5 1296.1V1307.1M1053.5 1293.1V1305.4M1054.5 1295.5V1305.5M1055.5 1296.2V1309.3M1056.5 1296.2V1304.9M1057.5 1295.2V1305.7M1058.5 1295.8V1305.3M1059.5 1296.5V1306M1060.5 1294.8V1308.1M1061.5 1295.9V1305.4M1062.5 1296.5V1306.5M1063.5 1292.3V1306M1064.5 1295.3V1308.4M1065.5 1296.5V1306.2M1066.5 1295.4V1305M1067.5 1292.3V1306.2M1068.5 1296.3V1305.1M1069.5 1294.2V1307.7M1070.5 1295.7V1306.1M1071.5 1294V1305.9M1072.5 1295V1306.3M1073.5 1296V1306M1074.5 1295.4V1305.7M1075.5 1296.6V1307.9M1076.5 1296.4V1305.1M1077.5 1296.5V1305.1M1078.5 1294.4V1308M1079.5 1296.4V1307.9M1080.5 1295.9V1305.6M1081.5 1296.1V1306.1M1082.5 1295.7V1307.1M1083.5 1294.8V1305.3M1084.5 1296.8V1305.3M1085.5 1295.7V1305.3M1086.5 1296.6V1305.9M1087.5 1296.3V1309.3M1088.5 1294.6V1305.8M1089.5 1295.4V1306.5M1090.5 1293.7V1305.6M1091.5 1295.6V1305.4M1092.5 1295.8V1308.5M1093.5 1296.6V1305.9M1094.5 1295.5V1305M1095.5 1296.3V1305.2M1096.5 1295V1305.6M1097.5 1295.9V1305.2M1098.5 1293V1304.8M1099.5 1296V1305.5M1100.5 1293.7V1309.3M1101.5 1293.2V1304.9M1102.5 1296.5V1306.3M1103.5 1296.5V1305.5M1104.5 1296.5V1305.5M1105.5 1294.1V1305.5M1106.5 1296.6V1305.3M1107.5 1295.6V1306.1M1108.5 1296.2V1307.9M1109.5 1294.1V1305.5M1110.5 1296.4V1305.1M1111.5 1296.2V1305M1112.5 1296.6V1305.9M1113.5 1296.2V1308.1M1114.5 1296.1V1307.6M1115.5 1294.3V1305.4M1116.5 1296.3V1305.6M1117.5 1296.6V1308.2M1118.5 1295.7V1307.3M1119.5 1296V1304.8M1120.5 1296.5V1305.4M1121.5 1296.2V1307.2M1122.5 1296V1305.8M1123.5 1296.7V1305.2M1124.5 1296.8V1304.8M1125.5 1295.7V1307.2M1126.5 1296.5V1307.2M1127.5 1296.4V1307.6M1128.5 1294.2V1308.5M1129.5 1295.9V1305.4M1130.5 1294.2V1305.1M1131.5 1295.9V1306.2M1132.5 1296.1V1305.9M1133.5 1296.8V1304.9M1134.5 1295V1306.2M1135.5 1295.8V1305.9M1136.5 1292.8V1307M1137.5 1295.2V1306.1M1138.5 1296.1V1309.3M1139.5 1296.1V1306.2M1140.5 1296.1V1305.2M1141.5 1294.6V1306.3M1142.5 1296.5V1306.8M1143.5 1296.7V1305.2M1144.5 1295.5V1305.2M1145.5 1294.1V1305.1M1146.5 1295.1V1305.3M1147.5 1296.3V1305M1148.5 1295.5V1305.3M1149.5 1295.2V1305.5M1150.5 1295.2V1306.9M1151.5 1296V1306.6M1152.5 1294.8V1305.5M1153.5 1250.6V1306.3M1154.5 1251.5V1306.8M1155.5 1251.2V1306.2M1156.5 1296.2V1305.7M1157.5 1296V1307M1158.5 1295.3V1305.7M1159.5 1295.9V1305M1160.5 1295.3V1306.8M1161.5 1296.5V1305.4M1162.5 1296.4V1308.4M1163.5 1295.1V1305.6M1164.5 1296.4V1305.7M1165.5 1296.7V1307.1M1166.5 1296.1V1304.9M1167.5 1295V1306.4M1168.5 1295.9V1305.3M1169.5 1294.2V1305.2M1170.5 1296.5V1305.3M1171.5 1296.6V1304.9M1172.5 1296.3V1306.4M1173.5 1296.6V1304.8M1174.5 1295V1304.9M1175.5 1295V1305.2M1176.5 1296.5V1305.5M1177.5 1295.7V1305.3M1178.5 1295.7V1305.3M1179.5 1295.5V1305.4M1180.5 1296.6V1305.1M1181.5 1294.5V1305.2M1182.5 1294.6V1305.9M1183.5 1296.8V1305.6M1184.5 1296.2V1306.4M1185.5 1296.4V1304.8M1186.5 1295.9V1305.4M1187.5 1296V1305.2M1188.5 1296.6V1305M1189.5 1295.6V1305M1190.5 1292.3V1305.3M1191.5 1293.8V1305.5M1192.5 1296V1305.4M1193.5 1296.5V1305.4M1194.5 1295.8V1308.9M1195.5 1296V1305.1M1196.5 1296.6V1305M1197.5 1296.5V1307M1198.5 1294.5V1305.5M1199.5 1292.3V1307.4M1200.5 1294.5V1305.3M1201.5 1295.6V1305.2M1202.5 1296V1304.8M1203.5 1296.7V1307.9M1204.5 1295.4V1307.4M1205.5 1295.6V1305.9M1206.5 1249.4V1304.8M1207.5 1251.9V1305.1M1208.5 1250.8V1305.8M1209.5 1295.9V1306.2M1210.5 1295.1V1306.1M1211.5 1294.5V1305.1M1212.5 1295.8V1308.9M1213.5 1294.6V1305.9M1214.5 1296.5V1304.8M1215.5 1295.8V1306.8M1216.5 1292.3V1304.9M1217.5 1296.4V1305.1M1218.5 1296.5V1306.2M1219.5 1294.8V1307.3M1220.5 1296.2V1309.3M1221.5 1294.9V1306.9M1222.5 1296.5V1305.7M1223.5 1293V1307.1M1224.5 1296.7V1305.7M1225.5 1296.4V1306.7M1226.5 1296.7V1305.6M1227.5 1296.4V1305M1228.5 1292.3V1304.9M1229.5 1296.1V1306.5M1230.5 1295.4V1305.6M1231.5 1295.8V1305.4M1232.5 1296.3V1305.9M1233.5 1295.7V1305.2M1234.5 1295.8V1307.4M1235.5 1295.2V1306.3M1236.5 1296.3V1305.3M1237.5 1296.4V1305.1M1238.5 1294.7V1306.8M1239.5 1296.8V1306.9M1240.5 1295.6V1305.4M1241.5 1294.3V1305.3M1242.5 1296.8V1305.7M1243.5 1296.7V1305.1M1244.5 1294.5V1305.7M1245.5 1295.6V1305.4M1246.5 1296.4V1304.9M1247.5 1296.3V1304.9M1248.5 1292.3V1305.4M1249.5 1296.7V1305.9M1250.5 1296.6V1307.3M1251.5 1294.4V1305M1252.5 1296.6V1305.3M1253.5 1294.3V1305.3M1254.5 1296.8V1305M1255.5 1296.6V1305.7M1256.5 1292.3V1304.8M1257.5 1296.6V1306.9M1258.5 1296.4V1309.3M1259.5 1296.6V1305.4M1260.5 1295.4V1305M1261.5 1295.9V1306.4M1262.5 1296V1308M1263.5 1296.3V1305.8M1264.5 1295.9V1308M1265.5 1296.7V1305M1266.5 1295.2V1306.3M1267.5 1296.6V1306.2M1268.5 1294V1306.1M1269.5 1295.9V1304.9M1270.5 1296.8V1308.9M1271.5 1295.8V1308.8M1272.5 1296.3V1305.4M1273.5 1296V1307.7M1274.5 1295.1V1306.5M1275.5 1295.9V1307.7M1276.5 1296.5V1305.2M1277.5 1296.4V1305.9M1278.5 1295.2V1307.6M1279.5 1296V1306M1280.5 1294.5V1305.9M1281.5 1296.7V1305.9M1282.5 1296.6V1307M1283.5 1296.6V1306.7M1284.5 1295V1306.7M1285.5 1295V1305.5M1286.5 1296.6V1305.1M1287.5 1296V1305.4M1288.5 1293.1V1306.5M1289.5 1296.4V1308.2M1290.5 1296.7V1305.4M1291.5 1296.1V1305.2M1292.5 1296.2V1305.8M1293.5 1296.5V1304.8M1294.5 1296.5V1308.9M1295.5 1296.4V1306.2M1296.5 1294.9V1305.1M1297.5 1296.5V1309M1298.5 1296V1305.5M1299.5 1295.7V1305M1300.5 1296.2V1304.9M1301.5 1296.8V1304.8M1302.5 1296V1305.2M1303.5 1296.3V1305.9M1304.5 1296V1304.9M1305.5 1295.8V1306.8M1306.5 1296.6V1305.6M1307.5 1296.5V1305.9M1308.5 1295V1307.2M1309.5 1295.9V1306M1310.5 1292.3V1305.9M1311.5 1295.8V1305M1312.5 1295.5V1305.8M1313.5 1296.8V1305.5M1314.5 1294.3V1305.7M1315.5 1294.6V1306.6M1316.5 1295.8V1307.1M1317.5 1296V1306.4M1318.5 1294.9V1305.3M1319.5 1296.5V1308.9M1320.5 1292.3V1306.5M1321.5 1296V1305.6M1322.5 1294.9V1305.5M1323.5 1294.8V1305.9M1324.5 1294.8V1306.1M1325.5 1295V1306.1M1326.5 1295.8V1306M1327.5 1296.4V1307.3M1328.5 1295.7V1308.2M1329.5 1296.8V1305M1330.5 1296.5V1306.3M1331.5 1295.4V1306.3M1332.5 1296.7V1304.9M1333.5 1294.4V1305M1334.5 1294.4V1305.5M1335.5 1296V1306.4M1336.5 1296.3V1305.1M1337.5 1295.2V1305.2M1338.5 1295.3V1305.1M1339.5 1296.4V1305.1M1340.5 1295.9V1305.2M1341.5 1295V1306.1M1342.5 1295.5V1305.3M1343.5 1296.4V1305.5M1344.5 1296.5V1305.8M1345.5 1294.9V1304.9M1346.5 1294.9V1306.7M1347.5 1293.7V1304.9M1348.5 1295.4V1305.5M1349.5 1294.9V1305.8M1350.5 1295.4V1306M1351.5 1293.8V1306.8M1352.5 1296.5V1305.2M1353.5 1294.6V1305.4M1354.5 1296.7V1304.9M1355.5 1296.8V1304.9M1356.5 1295.2V1305.2M1357.5 1295.7V1306.4M1358.5 1296.7V1306.1M1359.5 1295.6V1304.8M1360.5 1296.1V1305.4M1361.5 1296.8V1305.4M1362.5 1296.3V1305.8M1363.5 1295.9V1305.6M1364.5 1292.3V1306.3M1365.5 1296.2V1305.7M1366.5 1295.9V1305.1M1367.5 1296.7V1306.9M1368.5 1296.6V1306.2M1369.5 1296.4V1306M1370.5 1296.2V1305.9M1371.5 1293.9V1305.7M1372.5 1296.4V1305.8M1373.5 1251.7V1305.9M1374.5 1251.6V1306M1375.5 1296.7V1306.1M1376.5 1296.3V1306.7M1377.5 1295.5V1307.8M1378.5 1292.7V1305.5M1379.5 1295.8V1305.4M1380.5 1296.2V1304.9M1381.5 1292.3V1305.6M1382.5 1296.5V1306.9M1383.5 1296.6V1305.1M1384.5 1293.9V1305M1385.5 1295.7V1307.7M1386.5 1295.8V1305.5M1387.5 1296.5V1305.9M1388.5 1295.9V1304.9M1389.5 1294.1V1305.7M1390.5 1296.5V1306.7M1391.5 1296.7V1306.2M1392.5 1296.7V1306.6M1393.5 1294.5V1307.8M1394.5 1295.2V1305.9M1395.5 1295V1307.1M1396.5 1294.4V1306.5M1397.5 1295.2V1305.9M1398.5 1294.1V1307.7M1399.5 1294V1304.9M1400.5 1296.3V1308.4M1401.5 1295V1305.3M1402.5 1293.9V1304.9M1403.5 1296.5V1309.3M1404.5 1295.2V1305.4M1405.5 1294.2V1306.9M1406.5 1296.7V1306.3M1407.5 1296.7V1308.1M1408.5 1294.1V1305.5M1409.5 1295.4V1307.3M1410.5 1296.4V1305.1M1411.5 1296.1V1304.8M1412.5 1295.2V1305.9M1413.5 1296.6V1305.2M1414.5 1296.4V1305.1M1415.5 1295.9V1305.2M1416.5 1296.8V1307.3M1417.5 1293.8V1305.4M1418.5 1294.5V1305.3M1419.5 1295.4V1306M1420.5 1295.1V1306.2M1421.5 1294V1306.3M1422.5 1294.9V1305.2M1423.5 1296.7V1306.9M1424.5 1295.7V1305.4M1425.5 1295.6V1306.3M1426.5 1296.4V1306M1427.5 1294.1V1307.2M1428.5 1293.7V1306.2M1429.5 1296.3V1305.1M1430.5 1296.5V1308.4M1431.5 1296.7V1305.1M1432.5 1295.2V1305.2M1433.5 1296.8V1305.9M1434.5 1250.8V1307M1435.5 1251.7V1305.1M1436.5 1251.6V1305.6M1437.5 1251.7V1306.7M1438.5 1295.3V1305.1M1439.5 1296.2V1305.6M1440.5 1296.5V1308M1441.5 1296.2V1306.6M1442.5 1294.3V1306.1M1443.5 1296.6V1305.2M1444.5 1295.1V1305.6M1445.5 1295.2V1305.8M1446.5 1295.7V1305.2M1447.5 1296.4V1308.2M1448.5 1296.4V1305.9M1449.5 1294.8V1305.2M1450.5 1295.9V1305.4M1451.5 1295.3V1307.5M1452.5 1295.5V1306.1M1453.5 1296.3V1308.7M1454.5 1294.6V1306.3M1455.5 1296V1305.2M1456.5 1295.8V1305.6M1457.5 1295.7V1305.1M1458.5 1296.8V1305.4M1459.5 1296.6V1305M1460.5 1294.5V1304.9M1461.5 1296V1304.9M1462.5 1295.2V1307.4M1463.5 1295.2V1305.1M1464.5 1296.6V1305.1M1465.5 1296.6V1307.2M1466.5 1294.7V1304.9M1467.5 1296.6V1305.1M1468.5 1296.8V1308.7M1469.5 1296.6V1305.4M1470.5 1271.4V1305M1471.5 1272.3V1304.8M1472.5 1296.8V1305.7M1473.5 1295.2V1305.9M1474.5 1293.8V1305.3M1475.5 1296.7V1305.4M1476.5 1296.4V1305.3M1477.5 1292.3V1305.3M1478.5 1296.7V1304.9M1479.5 1294.1V1305.4M1480.5 1294.8V1305.8M1481.5 1296.6V1305.3M1482.5 1295.2V1305.8M1483.5 1296.4V1305.9M1484.5 1295.7V1306.7M1485.5 1295.8V1306.1M1486.5 1295V1305M1487.5 1296.4V1305.4M1488.5 1295.7V1307.6M1489.5 1294.3V1306.2M1490.5 1296.4V1305.1M1491.5 1296.8V1305M1492.5 1295.5V1307.9M1493.5 1295.6V1304.9" fill="none" stroke="#0000ff" stroke-width="1"/>
<path d="M960.5 1251.1V1296.3M961.5 1220.7V1293.3M962.5 1209.8V1296.6M963.5 1214.2V1296.8M964.5 1213.3V1295.1M965.5 1253.4V1296.7M966.5 1254.1V1293.5M975.5 1266.3V1296.2M989.5 1266.3V1296M1025.5 1253V1295.1M1029.5 1254V1295.1M1030.5 1257.8V1294.3M1035.5 1256.4V1296.6M1036.5 1256.3V1296.1M1039.5 1259.6V1295.5M1049.5 1255.1V1296.1M1083.5 1253V1294.8M1102.5 1253.8V1296.5M1103.5 1254.2V1296.5M1134.5 1263.2V1295M1135.5 1262.5V1295.8M1150.5 1278.9V1295.2M1193.5 1251.3V1296.5M1194.5 1253V1295.8M1209.5 1290.9V1295.9M1210.5 1290.1V1295.1M1217.5 1285.9V1296.4M1229.5 1292.8V1296.1M1236.5 1253.7V1296.3M1298.5 1254.7V1296M1301.5 1287.1V1296.8M1306.5 1272.2V1296.6M1313.5 1259.3V1296.8M1316.5 1285.3V1295.8M1317.5 1284.9V1296M1346.5 1253.9V1294.9M1367.5 1277.2V1296.7M1368.5 1279.3V1296.6M1388.5 1285.8V1295.9M1390.5 1283.2V1296.5M1455.5 1287.8V1296M1461.5 1285.6V1296M1466.5 1286.2V1294.7M1468.5 1254V1296.8M1469.5 1255V1296.6M1476.5 1293.6V1296.4M1481.5 1295.1V1296.6" fill="none" stroke="#0000ff" stroke-width="1" stroke-opacity="0.65"/>
<text x="-1.2" y="1432.3" font-size="53" font-weight="bold" fill="#000">d</text>
<path d="M157.9 1450.3V1781.7" fill="none" stroke="#000" stroke-width="3.6"/>
<line x1="138.7" y1="1781.7" x2="157.9" y2="1781.7" stroke="#000" stroke-width="3.6"/>
<text x="70.6" y="1796.8" font-size="44" fill="#000">0.0</text>
<line x1="138.7" y1="1715.4" x2="157.9" y2="1715.4" stroke="#000" stroke-width="3.6"/>
<text x="71.0" y="1730.5" font-size="44" fill="#000">0.2</text>
<line x1="138.7" y1="1649.1" x2="157.9" y2="1649.1" stroke="#000" stroke-width="3.6"/>
<text x="70.1" y="1664.2" font-size="44" fill="#000">0.4</text>
<line x1="138.7" y1="1582.9" x2="157.9" y2="1582.9" stroke="#000" stroke-width="3.6"/>
<text x="70.8" y="1598.0" font-size="44" fill="#000">0.6</text>
<line x1="138.7" y1="1516.6" x2="157.9" y2="1516.6" stroke="#000" stroke-width="3.6"/>
<text x="70.7" y="1531.7" font-size="44" fill="#000">0.8</text>
<line x1="138.7" y1="1450.3" x2="157.9" y2="1450.3" stroke="#000" stroke-width="3.6"/>
<text x="70.6" y="1465.4" font-size="44" fill="#000">1.0</text>
<line x1="156.1" y1="1781.7" x2="197.5" y2="1781.7" stroke="#000" stroke-width="3.6"/>
<line x1="207.5" y1="1781.7" x2="591.5" y2="1781.7" stroke="#000" stroke-width="3.6"/>
<line x1="195.6" y1="1800.2" x2="202.2" y2="1763" stroke="#000" stroke-width="3.8"/>
<line x1="203.0" y1="1800.2" x2="209.6" y2="1763" stroke="#000" stroke-width="3.8"/>
<line x1="186.6" y1="1781.7" x2="186.6" y2="1800" stroke="#000" stroke-width="3.6"/>
<text x="177.7" y="1831.9" font-size="38" fill="#000">0</text>
<line x1="256" y1="1781.7" x2="256" y2="1800" stroke="#000" stroke-width="3.6"/>
<text x="242.1" y="1831.5" font-size="38" fill="#000">5</text>
<line x1="324.3" y1="1781.7" x2="324.3" y2="1800" stroke="#000" stroke-width="3.6"/>
<text x="301.5" y="1831.9" font-size="38" fill="#000">10</text>
<line x1="392.6" y1="1781.7" x2="392.6" y2="1800" stroke="#000" stroke-width="3.6"/>
<text x="371.2" y="1831.9" font-size="38" fill="#000">20</text>
<line x1="460.9" y1="1781.7" x2="460.9" y2="1800" stroke="#000" stroke-width="3.6"/>
<text x="440.2" y="1831.9" font-size="38" fill="#000">40</text>
<line x1="529.2" y1="1781.7" x2="529.2" y2="1800" stroke="#000" stroke-width="3.6"/>
<text x="505.8" y="1831.9" font-size="38" fill="#000">80</text>
<line x1="569.2" y1="1781.7" x2="569.2" y2="1800" stroke="#000" stroke-width="3.6"/>
<text x="553.6" y="1831.9" font-size="38" fill="#000">120</text>
<text x="232.2" y="1883.6" font-size="45" fill="#000">Chloride (mM)</text>
<text transform="translate(33.8,1776.2) rotate(-90)" font-size="44.7" fill="#000">Normalized</text>
<text transform="translate(34.2,1533.9) rotate(-90)" font-size="44.7" font-style="italic" fill="#000">P</text>
<text transform="translate(45.3,1505.9) rotate(-90)" font-size="28" fill="#000">O</text>
<circle cx="185.6" cy="1470" r="8.2" fill="none" stroke="#ff0000" stroke-width="3.4"/>
<rect x="178.4" y="1508.4" width="15.6" height="15.6" fill="none" stroke="#0000ff" stroke-width="3.4"/>
<text x="227.6" y="1483.0" font-size="37" fill="#000">SLO-2</text>
<text x="227.6" y="1529.3" font-size="37" fill="#000">SLO-2+BKIP-1</text>
<path d="M205 1763.4 209.6 1763.3 214.2 1763.3 218.8 1763.3 223.4 1763.2 228.1 1763.2 232.7 1763.2 237.3 1763.1 241.9 1763.1 246.5 1763 251.1 1763 255.7 1762.9 260.3 1762.8 264.9 1762.7 269.5 1762.6 274.2 1762.5 278.8 1762.4 283.4 1762.2 288 1762.1 292.6 1761.9 297.2 1761.7 301.8 1761.5 306.4 1761.2 311 1760.9 315.6 1760.6 320.3 1760.3 324.9 1759.9 329.5 1759.4 334.1 1758.9 338.7 1758.3 343.3 1757.7 347.9 1757 352.5 1756.2 357.1 1755.3 361.7 1754.3 366.4 1753.2 371 1752 375.6 1750.6 380.2 1749 384.8 1747.3 389.4 1745.4 394 1743.3 398.6 1740.9 403.2 1738.3 407.8 1735.4 412.5 1732.2 417.1 1728.7 421.7 1724.8 426.3 1720.5 430.9 1715.8 435.5 1710.7 440.1 1705.2 444.7 1699.2 449.3 1692.7 453.9 1685.7 458.6 1678.3 463.2 1670.3 467.8 1661.8 472.4 1652.9 477 1643.5 481.6 1633.7 486.2 1623.6 490.8 1613.1 495.4 1602.4 500 1591.5 504.7 1580.5 509.3 1569.4 513.9 1558.4 518.5 1547.5 523.1 1536.8 527.7 1526.3 532.3 1516.1 536.9 1506.3 541.5 1496.9 546.1 1487.9 550.8 1479.4 555.4 1471.3 560 1463.8 564.6 1456.8 569.2 1450.2" fill="none" stroke="#0000ff" stroke-width="3.8"/>
<path d="M205 1757.1 209.6 1756.9 214.2 1756.7 218.8 1756.5 223.4 1756.2 228.1 1756 232.7 1755.7 237.3 1755.4 241.9 1755 246.5 1754.7 251.1 1754.3 255.7 1753.9 260.3 1753.4 264.9 1752.9 269.5 1752.4 274.2 1751.8 278.8 1751.2 283.4 1750.5 288 1749.8 292.6 1749 297.2 1748.2 301.8 1747.3 306.4 1746.3 311 1745.3 315.6 1744.2 320.3 1742.9 324.9 1741.6 329.5 1740.2 334.1 1738.7 338.7 1737.1 343.3 1735.4 347.9 1733.5 352.5 1731.5 357.1 1729.4 361.7 1727.1 366.4 1724.6 371 1722 375.6 1719.2 380.2 1716.2 384.8 1713 389.4 1709.7 394 1706.1 398.6 1702.3 403.2 1698.3 407.8 1694 412.5 1689.5 417.1 1684.8 421.7 1679.8 426.3 1674.6 430.9 1669.1 435.5 1663.4 440.1 1657.4 444.7 1651.2 449.3 1644.7 453.9 1638 458.6 1631.1 463.2 1624 467.8 1616.7 472.4 1609.2 477 1601.6 481.6 1593.8 486.2 1585.9 490.8 1577.9 495.4 1569.8 500 1561.7 504.7 1553.6 509.3 1545.4 513.9 1537.3 518.5 1529.2 523.1 1521.3 527.7 1513.4 532.3 1505.6 536.9 1498 541.5 1490.6 546.1 1483.3 550.8 1476.3 555.4 1469.4 560 1462.8 564.6 1456.4 569.2 1450.2" fill="none" stroke="#ff0000" stroke-width="3.8"/>
<path d="M186.6 1761.8V1767.1M179.6 1761.8H193.6M179.6 1767.1H193.6" stroke="#ff0000" stroke-width="3.6" fill="none"/>
<circle cx="186.6" cy="1764.5" r="10.5" fill="#ff0000"/>
<path d="M256 1738.9V1745.6M249 1738.9H263M249 1745.6H263" stroke="#ff0000" stroke-width="3.6" fill="none"/>
<circle cx="256" cy="1742.3" r="8.6" fill="none" stroke="#ff0000" stroke-width="3.6"/>
<path d="M324.3 1739.3V1745.9M317.3 1739.3H331.3M317.3 1745.9H331.3" stroke="#ff0000" stroke-width="3.6" fill="none"/>
<circle cx="324.3" cy="1742.6" r="8.6" fill="none" stroke="#ff0000" stroke-width="3.6"/>
<path d="M392.6 1693.2V1719.1M385.6 1693.2H399.6M385.6 1719.1H399.6" stroke="#ff0000" stroke-width="3.6" fill="none"/>
<circle cx="392.6" cy="1706.1" r="8.6" fill="none" stroke="#ff0000" stroke-width="3.6"/>
<path d="M460.9 1607.7V1647.5M453.9 1607.7H467.9M453.9 1647.5H467.9" stroke="#ff0000" stroke-width="3.6" fill="none"/>
<circle cx="460.9" cy="1627.6" r="8.6" fill="none" stroke="#ff0000" stroke-width="3.6"/>
<path d="M529.2 1501.7V1528.2M522.2 1501.7H536.2M522.2 1528.2H536.2" stroke="#ff0000" stroke-width="3.6" fill="none"/>
<circle cx="529.2" cy="1514.9" r="8.6" fill="none" stroke="#ff0000" stroke-width="3.6"/>
<circle cx="569.2" cy="1450.3" r="8.6" fill="none" stroke="#ff0000" stroke-width="3.6"/>
<path d="M186.6 1771.4V1778.1M179.6 1771.4H193.6M179.6 1778.1H193.6" stroke="#0000ff" stroke-width="3.6" fill="none"/>
<rect x="179.4" y="1767.5" width="14.4" height="14.4" fill="#0000ff" stroke="#0000ff" stroke-width="3.6"/>
<path d="M256 1770.1V1776.7M249 1770.1H263M249 1776.7H263" stroke="#0000ff" stroke-width="3.6" fill="none"/>
<rect x="248.8" y="1766.2" width="14.4" height="14.4" fill="#0000ff" stroke="#0000ff" stroke-width="3.6"/>
<path d="M324.3 1763.8V1771.8M317.3 1763.8H331.3M317.3 1771.8H331.3" stroke="#0000ff" stroke-width="3.6" fill="none"/>
<rect x="317.1" y="1760.6" width="14.4" height="14.4" fill="none" stroke="#0000ff" stroke-width="3.6"/>
<path d="M392.6 1734.3V1744.3M385.6 1734.3H399.6M385.6 1744.3H399.6" stroke="#0000ff" stroke-width="3.6" fill="none"/>
<rect x="385.4" y="1732.1" width="14.4" height="14.4" fill="none" stroke="#0000ff" stroke-width="3.6"/>
<path d="M460.9 1656.1V1685.3M453.9 1656.1H467.9M453.9 1685.3H467.9" stroke="#0000ff" stroke-width="3.6" fill="none"/>
<rect x="453.7" y="1663.5" width="14.4" height="14.4" fill="none" stroke="#0000ff" stroke-width="3.6"/>
<path d="M529.2 1515.9V1542.4M522.2 1515.9H536.2M522.2 1542.4H536.2" stroke="#0000ff" stroke-width="3.6" fill="none"/>
<rect x="522" y="1522" width="14.4" height="14.4" fill="none" stroke="#0000ff" stroke-width="3.6"/>
<rect x="562" y="1443.1" width="14.4" height="14.4" fill="none" stroke="#0000ff" stroke-width="3.6"/>
<path d="M805 1451.2H824.9V1798.4H1094" fill="none" stroke="#000" stroke-width="3.6"/>
<line x1="805" y1="1550" x2="824.9" y2="1550" stroke="#000" stroke-width="3.6"/>
<line x1="805" y1="1648.8" x2="824.9" y2="1648.8" stroke="#000" stroke-width="3.6"/>
<line x1="805" y1="1747.7" x2="824.9" y2="1747.7" stroke="#000" stroke-width="3.6"/>
<text x="727.5" y="1465.0" font-size="37.5" fill="#000">0.06</text>
<text x="726.9" y="1563.8" font-size="37.5" fill="#000">0.04</text>
<text x="727.7" y="1662.6" font-size="37.5" fill="#000">0.02</text>
<text x="727.3" y="1761.5" font-size="37.5" fill="#000">0.00</text>
<text x="843.8" y="1833.4" font-size="34" fill="#000">SLO-2</text>
<text x="978.1" y="1833.4" font-size="34" fill="#000">SLO-2</text>
<text x="964.8" y="1873.6" font-size="34" fill="#000">+BKIP-1</text>
<text transform="translate(712.3,1657.5) rotate(-90)" font-size="44.7" fill="#000">Slope</text>
<text x="950.6" y="1505.2" font-size="47" font-weight="bold" fill="#000">**</text>
<path d="M893.2 1541V1510H1029.6V1541" fill="none" stroke="#000" stroke-width="3.6"/>
<circle cx="892.5" cy="1620.5" r="4.7" fill="#fcb0b7"/>
<circle cx="886.4" cy="1634.4" r="4.7" fill="#fcb0b7"/>
<circle cx="897.6" cy="1647.5" r="4.7" fill="#fcb0b7"/>
<circle cx="886.4" cy="1672" r="4.7" fill="#fcb0b7"/>
<circle cx="898.4" cy="1673" r="4.7" fill="#fcb0b7"/>
<circle cx="903.7" cy="1687.2" r="4.7" fill="#fcb0b7"/>
<circle cx="880.8" cy="1692.8" r="4.7" fill="#fcb0b7"/>
<circle cx="892.5" cy="1714.4" r="4.7" fill="#fcb0b7"/>
<circle cx="897.9" cy="1731.2" r="4.7" fill="#fcb0b7"/>
<circle cx="886.4" cy="1734.4" r="4.7" fill="#fcb0b7"/>
<path d="M1031.5 1551.1l5.2 5.2l-5.2 5.2l-5.2 -5.2z" fill="#b3b3f8"/>
<path d="M1022.9 1563.3l5.2 5.2l-5.2 5.2l-5.2 -5.2z" fill="#b3b3f8"/>
<path d="M1022.9 1612.7l5.2 5.2l-5.2 5.2l-5.2 -5.2z" fill="#b3b3f8"/>
<path d="M1031.5 1619.6l5.2 5.2l-5.2 5.2l-5.2 -5.2z" fill="#b3b3f8"/>
<path d="M1022.9 1632.4l5.2 5.2l-5.2 5.2l-5.2 -5.2z" fill="#b3b3f8"/>
<path d="M1031.5 1632.4l5.2 5.2l-5.2 5.2l-5.2 -5.2z" fill="#b3b3f8"/>
<path d="M1022.9 1646.8l5.2 5.2l-5.2 5.2l-5.2 -5.2z" fill="#b3b3f8"/>
<path d="M1031.5 1650l5.2 5.2l-5.2 5.2l-5.2 -5.2z" fill="#b3b3f8"/>
<path d="M1014.4 1654l5.2 5.2l-5.2 5.2l-5.2 -5.2z" fill="#b3b3f8"/>
<path d="M1040 1664.7l5.2 5.2l-5.2 5.2l-5.2 -5.2z" fill="#b3b3f8"/>
<path d="M1027.5 1673.7l5.2 5.2l-5.2 5.2l-5.2 -5.2z" fill="#b3b3f8"/>
<path d="M856.8 1681.1H927.7" fill="none" stroke="#ff0000" stroke-width="4" stroke-linecap="round"/>
<path d="M892.5 1670.4V1693.3M888 1670.4H897M888 1693.3H897" fill="none" stroke="#ff0000" stroke-width="4" stroke-linecap="round"/>
<path d="M992 1632.3H1063.2" fill="none" stroke="#0000ff" stroke-width="4" stroke-linecap="round"/>
<path d="M1027.5 1620V1644.3M1023 1620H1032M1023 1644.3H1032" fill="none" stroke="#0000ff" stroke-width="4" stroke-linecap="round"/>
<path d="M1205.5 1451.3H1224.6V1798H1494.6" fill="none" stroke="#000" stroke-width="3.6"/>
<line x1="1205.5" y1="1538.5" x2="1224.6" y2="1538.5" stroke="#000" stroke-width="3.6"/>
<line x1="1205.5" y1="1625.8" x2="1224.6" y2="1625.8" stroke="#000" stroke-width="3.6"/>
<line x1="1205.5" y1="1711.2" x2="1224.6" y2="1711.2" stroke="#000" stroke-width="3.6"/>
<line x1="1205.5" y1="1798" x2="1224.6" y2="1798" stroke="#000" stroke-width="3.6"/>
<text x="1136.3" y="1465.3" font-size="38" fill="#000">120</text>
<text x="1157.4" y="1552.5" font-size="38" fill="#000">90</text>
<text x="1157.4" y="1639.8" font-size="38" fill="#000">60</text>
<text x="1157.4" y="1725.2" font-size="38" fill="#000">30</text>
<text x="1178.6" y="1812.0" font-size="38" fill="#000">0</text>
<text x="1244.2" y="1833.4" font-size="34" fill="#000">SLO-2</text>
<text x="1378.7" y="1833.4" font-size="34" fill="#000">SLO-2</text>
<text x="1365.1" y="1873.6" font-size="34" fill="#000">+BKIP-1</text>
<text transform="translate(1125.1,1717.0) rotate(-90)" font-size="44" font-style="italic" fill="#000">EC</text>
<text transform="translate(1133.9,1655.6) rotate(-90)" font-size="29" font-style="italic" fill="#000">50</text>
<text transform="translate(1125.6,1609.6) rotate(-90)" font-size="44" fill="#000">(mM)</text>
<text x="1347.7" y="1510.3" font-size="47" font-weight="bold" fill="#000">**</text>
<path d="M1290.6 1545V1516H1426.4V1545" fill="none" stroke="#000" stroke-width="3.6"/>
<circle cx="1286.7" cy="1646" r="4.7" fill="#fcb0b7"/>
<circle cx="1297.9" cy="1652.7" r="4.7" fill="#fcb0b7"/>
<circle cx="1297.9" cy="1665.2" r="4.7" fill="#fcb0b7"/>
<circle cx="1286.7" cy="1670.5" r="4.7" fill="#fcb0b7"/>
<circle cx="1280.8" cy="1694.8" r="4.7" fill="#fcb0b7"/>
<circle cx="1303.7" cy="1709.2" r="4.7" fill="#fcb0b7"/>
<circle cx="1286.7" cy="1716.9" r="4.7" fill="#fcb0b7"/>
<circle cx="1297.9" cy="1731.1" r="4.7" fill="#fcb0b7"/>
<circle cx="1297.9" cy="1739.9" r="4.7" fill="#fcb0b7"/>
<circle cx="1286.7" cy="1754" r="4.7" fill="#fcb0b7"/>
<path d="M1423.5 1576l5.2 5.2l-5.2 5.2l-5.2 -5.2z" fill="#b3b3f8"/>
<path d="M1432 1586.4l5.2 5.2l-5.2 5.2l-5.2 -5.2z" fill="#b3b3f8"/>
<path d="M1419.2 1601.3l5.2 5.2l-5.2 5.2l-5.2 -5.2z" fill="#b3b3f8"/>
<path d="M1428 1609.6l5.2 5.2l-5.2 5.2l-5.2 -5.2z" fill="#b3b3f8"/>
<path d="M1436.3 1616l5.2 5.2l-5.2 5.2l-5.2 -5.2z" fill="#b3b3f8"/>
<path d="M1423.5 1628l5.2 5.2l-5.2 5.2l-5.2 -5.2z" fill="#b3b3f8"/>
<path d="M1414.7 1633.9l5.2 5.2l-5.2 5.2l-5.2 -5.2z" fill="#b3b3f8"/>
<path d="M1440 1643.7l5.2 5.2l-5.2 5.2l-5.2 -5.2z" fill="#b3b3f8"/>
<path d="M1432 1648l5.2 5.2l-5.2 5.2l-5.2 -5.2z" fill="#b3b3f8"/>
<path d="M1423.5 1666.1l5.2 5.2l-5.2 5.2l-5.2 -5.2z" fill="#b3b3f8"/>
<path d="M1432 1664.8l5.2 5.2l-5.2 5.2l-5.2 -5.2z" fill="#b3b3f8"/>
<path d="M1257.3 1698H1328" fill="none" stroke="#ff0000" stroke-width="4" stroke-linecap="round"/>
<path d="M1292.5 1687.6V1708.9M1288 1687.6H1297M1288 1708.9H1297" fill="none" stroke="#ff0000" stroke-width="4" stroke-linecap="round"/>
<path d="M1392.8 1630.5H1463.2" fill="none" stroke="#0000ff" stroke-width="4" stroke-linecap="round"/>
<path d="M1428 1620.4V1639.3M1423.5 1620.4H1432.5M1423.5 1639.3H1432.5" fill="none" stroke="#0000ff" stroke-width="4" stroke-linecap="round"/></svg></body></html>
